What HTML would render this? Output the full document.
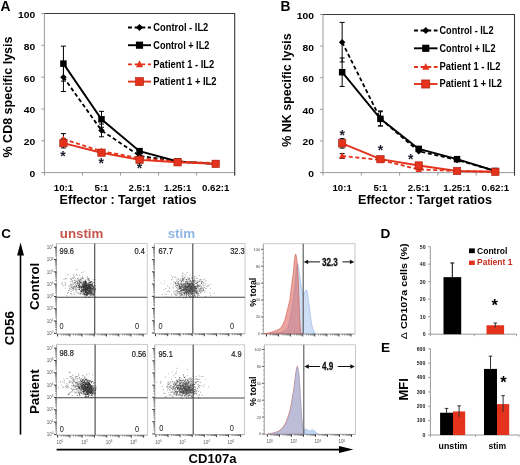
<!DOCTYPE html><html><head><meta charset="utf-8"><style>html,body{margin:0;padding:0;background:#fff;overflow:hidden}svg{display:block;filter:blur(0.3px)}text{font-family:"Liberation Sans",sans-serif}</style></head><body>
<svg width="520" height="465" viewBox="0 0 520 465">
<rect width="520" height="465" fill="#fff"/>
<text x="0.5" y="10.6" font-size="13.8" font-weight="bold" fill="#000" text-anchor="start" >A</text>
<text transform="translate(11.9,97) rotate(-90)" x="0" y="0" font-size="12.5" font-weight="bold" fill="#000" text-anchor="middle" textLength="121" lengthAdjust="spacingAndGlyphs">% CD8 specific lysis</text>
<line x1="44.4" y1="13.5" x2="44.4" y2="173.1" stroke="#9a9a9a" stroke-width="1" />
<line x1="43.9" y1="172.6" x2="234.7" y2="172.6" stroke="#9a9a9a" stroke-width="1" />
<line x1="41.4" y1="172.6" x2="44.4" y2="172.6" stroke="#9a9a9a" stroke-width="1" />
<line x1="41.4" y1="140.78" x2="44.4" y2="140.78" stroke="#9a9a9a" stroke-width="1" />
<line x1="41.4" y1="108.96" x2="44.4" y2="108.96" stroke="#9a9a9a" stroke-width="1" />
<line x1="41.4" y1="77.14" x2="44.4" y2="77.14" stroke="#9a9a9a" stroke-width="1" />
<line x1="41.4" y1="45.31999999999999" x2="44.4" y2="45.31999999999999" stroke="#9a9a9a" stroke-width="1" />
<line x1="41.4" y1="13.5" x2="44.4" y2="13.5" stroke="#9a9a9a" stroke-width="1" />
<line x1="44.4" y1="172.6" x2="44.4" y2="175.6" stroke="#9a9a9a" stroke-width="1" />
<line x1="82.46" y1="172.6" x2="82.46" y2="175.6" stroke="#9a9a9a" stroke-width="1" />
<line x1="120.51999999999998" y1="172.6" x2="120.51999999999998" y2="175.6" stroke="#9a9a9a" stroke-width="1" />
<line x1="158.57999999999998" y1="172.6" x2="158.57999999999998" y2="175.6" stroke="#9a9a9a" stroke-width="1" />
<line x1="196.64" y1="172.6" x2="196.64" y2="175.6" stroke="#9a9a9a" stroke-width="1" />
<line x1="234.7" y1="172.6" x2="234.7" y2="175.6" stroke="#9a9a9a" stroke-width="1" />
<line x1="44.4" y1="13.5" x2="235.2" y2="13.5" stroke="#3a3a3a" stroke-width="1.1" />
<line x1="234.7" y1="13.5" x2="234.7" y2="175.6" stroke="#3a3a3a" stroke-width="1.1" />
<text x="35.3" y="177.0" font-size="9.2" font-weight="bold" fill="#000" text-anchor="end" textLength="5.74" lengthAdjust="spacingAndGlyphs" >0</text>
<text x="35.3" y="145.18" font-size="9.2" font-weight="bold" fill="#000" text-anchor="end" textLength="11.48" lengthAdjust="spacingAndGlyphs" >20</text>
<text x="35.3" y="113.36" font-size="9.2" font-weight="bold" fill="#000" text-anchor="end" textLength="11.48" lengthAdjust="spacingAndGlyphs" >40</text>
<text x="35.3" y="81.54" font-size="9.2" font-weight="bold" fill="#000" text-anchor="end" textLength="11.48" lengthAdjust="spacingAndGlyphs" >60</text>
<text x="35.3" y="49.71999999999999" font-size="9.2" font-weight="bold" fill="#000" text-anchor="end" textLength="11.48" lengthAdjust="spacingAndGlyphs" >80</text>
<text x="35.3" y="17.9" font-size="9.2" font-weight="bold" fill="#000" text-anchor="end" textLength="17.22" lengthAdjust="spacingAndGlyphs" >100</text>
<text x="63.42999999999999" y="191.0" font-size="8.7" font-weight="bold" fill="#000" text-anchor="middle" textLength="19.36" lengthAdjust="spacingAndGlyphs" >10:1</text>
<text x="101.48999999999998" y="191.0" font-size="8.7" font-weight="bold" fill="#000" text-anchor="middle" textLength="13.98" lengthAdjust="spacingAndGlyphs" >5:1</text>
<text x="139.54999999999998" y="191.0" font-size="8.7" font-weight="bold" fill="#000" text-anchor="middle" textLength="22.05" lengthAdjust="spacingAndGlyphs" >2.5:1</text>
<text x="177.60999999999999" y="191.0" font-size="8.7" font-weight="bold" fill="#000" text-anchor="middle" textLength="27.43" lengthAdjust="spacingAndGlyphs" >1.25:1</text>
<text x="215.67" y="191.0" font-size="8.7" font-weight="bold" fill="#000" text-anchor="middle" textLength="27.43" lengthAdjust="spacingAndGlyphs" >0.62:1</text>
<path d="M63.43 77.14 L101.49 130.44 L139.55 155.89 L177.61 161.46 L215.67 163.85" fill="none" stroke="#000" stroke-width="1.8" stroke-dasharray="4 2.6"/>
<path d="M63.43 63.62 L101.49 119.30 L139.55 151.12 L177.61 161.46 L215.67 163.85" fill="none" stroke="#000" stroke-width="1.9"/>
<path d="M63.43 139.19 L101.49 151.12 L139.55 158.28 L177.61 161.46 L215.67 163.05" fill="none" stroke="#e4321c" stroke-width="1.8" stroke-dasharray="4 2.6"/>
<path d="M63.43 143.17 L101.49 152.71 L139.55 159.87 L177.61 162.26 L215.67 163.85" fill="none" stroke="#e4321c" stroke-width="1.9"/>
<line x1="63.42999999999999" y1="91.45899999999999" x2="63.42999999999999" y2="62.821" stroke="#000" stroke-width="1" />
<line x1="60.92999999999999" y1="62.821" x2="65.92999999999999" y2="62.821" stroke="#000" stroke-width="1" />
<line x1="60.92999999999999" y1="91.45899999999999" x2="65.92999999999999" y2="91.45899999999999" stroke="#000" stroke-width="1" />
<line x1="101.48999999999998" y1="136.8025" x2="101.48999999999998" y2="124.0745" stroke="#000" stroke-width="1" />
<line x1="98.98999999999998" y1="124.0745" x2="103.98999999999998" y2="124.0745" stroke="#000" stroke-width="1" />
<line x1="98.98999999999998" y1="136.8025" x2="103.98999999999998" y2="136.8025" stroke="#000" stroke-width="1" />
<line x1="63.42999999999999" y1="81.11749999999999" x2="63.42999999999999" y2="46.1155" stroke="#000" stroke-width="1" />
<line x1="60.92999999999999" y1="46.1155" x2="65.92999999999999" y2="46.1155" stroke="#000" stroke-width="1" />
<line x1="60.92999999999999" y1="81.11749999999999" x2="65.92999999999999" y2="81.11749999999999" stroke="#000" stroke-width="1" />
<line x1="101.48999999999998" y1="127.25649999999999" x2="101.48999999999998" y2="111.34649999999999" stroke="#000" stroke-width="1" />
<line x1="98.98999999999998" y1="111.34649999999999" x2="103.98999999999998" y2="111.34649999999999" stroke="#000" stroke-width="1" />
<line x1="98.98999999999998" y1="127.25649999999999" x2="103.98999999999998" y2="127.25649999999999" stroke="#000" stroke-width="1" />
<line x1="63.42999999999999" y1="144.7575" x2="63.42999999999999" y2="133.6205" stroke="#000" stroke-width="1" />
<line x1="60.92999999999999" y1="133.6205" x2="65.92999999999999" y2="133.6205" stroke="#000" stroke-width="1" />
<line x1="60.92999999999999" y1="144.7575" x2="65.92999999999999" y2="144.7575" stroke="#000" stroke-width="1" />
<line x1="63.42999999999999" y1="147.9395" x2="63.42999999999999" y2="138.3935" stroke="#000" stroke-width="1" />
<line x1="60.92999999999999" y1="138.3935" x2="65.92999999999999" y2="138.3935" stroke="#000" stroke-width="1" />
<line x1="60.92999999999999" y1="147.9395" x2="65.92999999999999" y2="147.9395" stroke="#000" stroke-width="1" />
<path d="M63.43 73.89L66.68 77.14L63.43 80.39L60.18 77.14Z" fill="#000"/>
<path d="M101.49 127.19L104.74 130.44L101.49 133.69L98.24 130.44Z" fill="#000"/>
<path d="M139.55 152.64L142.80 155.89L139.55 159.14L136.30 155.89Z" fill="#000"/>
<path d="M177.61 158.21L180.86 161.46L177.61 164.71L174.36 161.46Z" fill="#000"/>
<path d="M215.67 160.60L218.92 163.85L215.67 167.10L212.42 163.85Z" fill="#000"/>
<rect x="60.18" y="60.37" width="6.5" height="6.5" fill="#000"/>
<rect x="98.24" y="116.05" width="6.5" height="6.5" fill="#000"/>
<rect x="136.30" y="147.87" width="6.5" height="6.5" fill="#000"/>
<rect x="174.36" y="158.21" width="6.5" height="6.5" fill="#000"/>
<rect x="212.42" y="160.60" width="6.5" height="6.5" fill="#000"/>
<path d="M63.43 135.61L66.68 141.79L60.18 141.79Z" fill="#e4321c"/>
<path d="M101.49 147.55L104.74 153.72L98.24 153.72Z" fill="#e4321c"/>
<path d="M139.55 154.71L142.80 160.88L136.30 160.88Z" fill="#e4321c"/>
<path d="M177.61 157.89L180.86 164.06L174.36 164.06Z" fill="#e4321c"/>
<path d="M215.67 159.48L218.92 165.65L212.42 165.65Z" fill="#e4321c"/>
<rect x="59.73" y="139.47" width="7.4" height="7.4" fill="#e4321c" stroke="#a8220f" stroke-width="0.6"/>
<rect x="97.79" y="149.01" width="7.4" height="7.4" fill="#e4321c" stroke="#a8220f" stroke-width="0.6"/>
<rect x="135.85" y="156.17" width="7.4" height="7.4" fill="#e4321c" stroke="#a8220f" stroke-width="0.6"/>
<rect x="173.91" y="158.56" width="7.4" height="7.4" fill="#e4321c" stroke="#a8220f" stroke-width="0.6"/>
<rect x="211.97" y="160.15" width="7.4" height="7.4" fill="#e4321c" stroke="#a8220f" stroke-width="0.6"/>
<text x="63" y="161.3" font-size="14" font-weight="bold" fill="#1a1a2a" text-anchor="middle" >*</text>
<text x="101.3" y="167.60000000000002" font-size="14" font-weight="bold" fill="#1a1a2a" text-anchor="middle" >*</text>
<text x="139.5" y="173.10000000000002" font-size="14" font-weight="bold" fill="#1a1a2a" text-anchor="middle" >*</text>
<line x1="128" y1="27.5" x2="151" y2="27.5" stroke="#000" stroke-width="1.8" stroke-dasharray="4 2.6"/>
<path d="M139.50 23.93L143.07 27.50L139.50 31.07L135.93 27.50Z" fill="#000"/>
<text x="153.3" y="30.9" font-size="10.0" font-weight="bold" fill="#000" text-anchor="start" textLength="55" lengthAdjust="spacingAndGlyphs" >Control - IL2</text>
<line x1="128" y1="45.2" x2="151" y2="45.2" stroke="#000" stroke-width="1.9"/>
<rect x="135.93" y="41.62" width="7.15" height="7.15" fill="#000"/>
<text x="153.3" y="48.6" font-size="10.0" font-weight="bold" fill="#000" text-anchor="start" textLength="56" lengthAdjust="spacingAndGlyphs" >Control + IL2</text>
<line x1="128" y1="64.3" x2="151" y2="64.3" stroke="#e4321c" stroke-width="1.8" stroke-dasharray="4 2.6"/>
<path d="M139.50 60.37L143.07 67.16L135.93 67.16Z" fill="#e4321c"/>
<text x="153.3" y="67.7" font-size="10.0" font-weight="bold" fill="#000" text-anchor="start" textLength="61" lengthAdjust="spacingAndGlyphs" >Patient 1 - IL2</text>
<line x1="128" y1="81.6" x2="151" y2="81.6" stroke="#e4321c" stroke-width="1.9"/>
<rect x="135.43" y="77.53" width="8.14" height="8.14" fill="#e4321c" stroke="#a8220f" stroke-width="0.6"/>
<text x="153.3" y="85.0" font-size="10.0" font-weight="bold" fill="#000" text-anchor="start" textLength="63.2" lengthAdjust="spacingAndGlyphs" >Patient 1 + IL2</text>
<text x="59.6" y="204.2" font-size="12.5" font-weight="bold" fill="#000" text-anchor="start" textLength="137" lengthAdjust="spacingAndGlyphs" >Effector : Target&#160; ratios</text>
<text x="280.5" y="10.6" font-size="13.8" font-weight="bold" fill="#000" text-anchor="start" >B</text>
<text transform="translate(291.3,90) rotate(-90)" x="0" y="0" font-size="12.5" font-weight="bold" fill="#000" text-anchor="middle" textLength="113.3" lengthAdjust="spacingAndGlyphs">% NK specific lysis</text>
<line x1="323" y1="14.5" x2="323" y2="173.1" stroke="#9a9a9a" stroke-width="1" />
<line x1="322.5" y1="172.6" x2="514.5" y2="172.6" stroke="#9a9a9a" stroke-width="1" />
<line x1="320" y1="172.6" x2="323" y2="172.6" stroke="#9a9a9a" stroke-width="1" />
<line x1="320" y1="140.98" x2="323" y2="140.98" stroke="#9a9a9a" stroke-width="1" />
<line x1="320" y1="109.36" x2="323" y2="109.36" stroke="#9a9a9a" stroke-width="1" />
<line x1="320" y1="77.74" x2="323" y2="77.74" stroke="#9a9a9a" stroke-width="1" />
<line x1="320" y1="46.120000000000005" x2="323" y2="46.120000000000005" stroke="#9a9a9a" stroke-width="1" />
<line x1="320" y1="14.5" x2="323" y2="14.5" stroke="#9a9a9a" stroke-width="1" />
<line x1="323.0" y1="172.6" x2="323.0" y2="175.6" stroke="#9a9a9a" stroke-width="1" />
<line x1="361.3" y1="172.6" x2="361.3" y2="175.6" stroke="#9a9a9a" stroke-width="1" />
<line x1="399.6" y1="172.6" x2="399.6" y2="175.6" stroke="#9a9a9a" stroke-width="1" />
<line x1="437.9" y1="172.6" x2="437.9" y2="175.6" stroke="#9a9a9a" stroke-width="1" />
<line x1="476.2" y1="172.6" x2="476.2" y2="175.6" stroke="#9a9a9a" stroke-width="1" />
<line x1="514.5" y1="172.6" x2="514.5" y2="175.6" stroke="#9a9a9a" stroke-width="1" />
<line x1="323" y1="14.5" x2="515.0" y2="14.5" stroke="#3a3a3a" stroke-width="1.1" />
<line x1="514.5" y1="14.5" x2="514.5" y2="175.6" stroke="#3a3a3a" stroke-width="1.1" />
<text x="313.9" y="177.0" font-size="9.2" font-weight="bold" fill="#000" text-anchor="end" textLength="5.74" lengthAdjust="spacingAndGlyphs" >0</text>
<text x="313.9" y="145.38" font-size="9.2" font-weight="bold" fill="#000" text-anchor="end" textLength="11.48" lengthAdjust="spacingAndGlyphs" >20</text>
<text x="313.9" y="113.76" font-size="9.2" font-weight="bold" fill="#000" text-anchor="end" textLength="11.48" lengthAdjust="spacingAndGlyphs" >40</text>
<text x="313.9" y="82.14" font-size="9.2" font-weight="bold" fill="#000" text-anchor="end" textLength="11.48" lengthAdjust="spacingAndGlyphs" >60</text>
<text x="313.9" y="50.52" font-size="9.2" font-weight="bold" fill="#000" text-anchor="end" textLength="11.48" lengthAdjust="spacingAndGlyphs" >80</text>
<text x="313.9" y="18.9" font-size="9.2" font-weight="bold" fill="#000" text-anchor="end" textLength="17.22" lengthAdjust="spacingAndGlyphs" >100</text>
<text x="342.15" y="191.20000000000002" font-size="8.7" font-weight="bold" fill="#000" text-anchor="middle" textLength="19.36" lengthAdjust="spacingAndGlyphs" >10:1</text>
<text x="380.45" y="191.20000000000002" font-size="8.7" font-weight="bold" fill="#000" text-anchor="middle" textLength="13.98" lengthAdjust="spacingAndGlyphs" >5:1</text>
<text x="418.75" y="191.20000000000002" font-size="8.7" font-weight="bold" fill="#000" text-anchor="middle" textLength="22.05" lengthAdjust="spacingAndGlyphs" >2.5:1</text>
<text x="457.04999999999995" y="191.20000000000002" font-size="8.7" font-weight="bold" fill="#000" text-anchor="middle" textLength="27.43" lengthAdjust="spacingAndGlyphs" >1.25:1</text>
<text x="495.35" y="191.20000000000002" font-size="8.7" font-weight="bold" fill="#000" text-anchor="middle" textLength="27.43" lengthAdjust="spacingAndGlyphs" >0.62:1</text>
<path d="M342.15 42.17 L380.45 118.85 L418.75 151.26 L457.05 159.95 L495.35 171.02" fill="none" stroke="#000" stroke-width="1.8" stroke-dasharray="4 2.6"/>
<path d="M342.15 72.21 L380.45 118.85 L418.75 148.88 L457.05 159.16 L495.35 171.02" fill="none" stroke="#000" stroke-width="1.9"/>
<path d="M342.15 156.00 L380.45 159.95 L418.75 169.44 L457.05 171.02 L495.35 171.81" fill="none" stroke="#e4321c" stroke-width="1.8" stroke-dasharray="4 2.6"/>
<path d="M342.15 143.35 L380.45 159.16 L418.75 165.49 L457.05 171.02 L495.35 171.81" fill="none" stroke="#e4321c" stroke-width="1.9"/>
<line x1="342.15" y1="61.92999999999999" x2="342.15" y2="22.405" stroke="#000" stroke-width="1" />
<line x1="339.65" y1="22.405" x2="344.65" y2="22.405" stroke="#000" stroke-width="1" />
<line x1="339.65" y1="61.92999999999999" x2="344.65" y2="61.92999999999999" stroke="#000" stroke-width="1" />
<line x1="380.45" y1="125.9605" x2="380.45" y2="110.941" stroke="#000" stroke-width="1" />
<line x1="377.95" y1="110.941" x2="382.95" y2="110.941" stroke="#000" stroke-width="1" />
<line x1="377.95" y1="125.9605" x2="382.95" y2="125.9605" stroke="#000" stroke-width="1" />
<line x1="342.15" y1="86.43549999999999" x2="342.15" y2="57.97749999999999" stroke="#000" stroke-width="1" />
<line x1="339.65" y1="57.97749999999999" x2="344.65" y2="57.97749999999999" stroke="#000" stroke-width="1" />
<line x1="339.65" y1="86.43549999999999" x2="344.65" y2="86.43549999999999" stroke="#000" stroke-width="1" />
<line x1="380.45" y1="125.9605" x2="380.45" y2="111.7315" stroke="#000" stroke-width="1" />
<line x1="377.95" y1="111.7315" x2="382.95" y2="111.7315" stroke="#000" stroke-width="1" />
<line x1="377.95" y1="125.9605" x2="382.95" y2="125.9605" stroke="#000" stroke-width="1" />
<line x1="342.15" y1="158.37099999999998" x2="342.15" y2="153.628" stroke="#000" stroke-width="1" />
<line x1="339.65" y1="153.628" x2="344.65" y2="153.628" stroke="#000" stroke-width="1" />
<line x1="339.65" y1="158.37099999999998" x2="344.65" y2="158.37099999999998" stroke="#000" stroke-width="1" />
<line x1="342.15" y1="148.09449999999998" x2="342.15" y2="138.6085" stroke="#000" stroke-width="1" />
<line x1="339.65" y1="138.6085" x2="344.65" y2="138.6085" stroke="#000" stroke-width="1" />
<line x1="339.65" y1="148.09449999999998" x2="344.65" y2="148.09449999999998" stroke="#000" stroke-width="1" />
<path d="M342.15 38.92L345.40 42.17L342.15 45.42L338.90 42.17Z" fill="#000"/>
<path d="M380.45 115.60L383.70 118.85L380.45 122.10L377.20 118.85Z" fill="#000"/>
<path d="M418.75 148.01L422.00 151.26L418.75 154.51L415.50 151.26Z" fill="#000"/>
<path d="M457.05 156.70L460.30 159.95L457.05 163.20L453.80 159.95Z" fill="#000"/>
<path d="M495.35 167.77L498.60 171.02L495.35 174.27L492.10 171.02Z" fill="#000"/>
<rect x="338.90" y="68.96" width="6.5" height="6.5" fill="#000"/>
<rect x="377.20" y="115.60" width="6.5" height="6.5" fill="#000"/>
<rect x="415.50" y="145.63" width="6.5" height="6.5" fill="#000"/>
<rect x="453.80" y="155.91" width="6.5" height="6.5" fill="#000"/>
<rect x="492.10" y="167.77" width="6.5" height="6.5" fill="#000"/>
<path d="M342.15 152.42L345.40 158.60L338.90 158.60Z" fill="#e4321c"/>
<path d="M380.45 156.38L383.70 162.55L377.20 162.55Z" fill="#e4321c"/>
<path d="M418.75 165.86L422.00 172.04L415.50 172.04Z" fill="#e4321c"/>
<path d="M457.05 167.44L460.30 173.62L453.80 173.62Z" fill="#e4321c"/>
<path d="M495.35 168.23L498.60 174.41L492.10 174.41Z" fill="#e4321c"/>
<rect x="338.45" y="139.65" width="7.4" height="7.4" fill="#e4321c" stroke="#a8220f" stroke-width="0.6"/>
<rect x="376.75" y="155.46" width="7.4" height="7.4" fill="#e4321c" stroke="#a8220f" stroke-width="0.6"/>
<rect x="415.05" y="161.79" width="7.4" height="7.4" fill="#e4321c" stroke="#a8220f" stroke-width="0.6"/>
<rect x="453.35" y="167.32" width="7.4" height="7.4" fill="#e4321c" stroke="#a8220f" stroke-width="0.6"/>
<rect x="491.65" y="168.11" width="7.4" height="7.4" fill="#e4321c" stroke="#a8220f" stroke-width="0.6"/>
<text x="342.2" y="140.10000000000002" font-size="14" font-weight="bold" fill="#1a1a2a" text-anchor="middle" >*</text>
<text x="380.5" y="155.10000000000002" font-size="14" font-weight="bold" fill="#1a1a2a" text-anchor="middle" >*</text>
<text x="410.8" y="164.10000000000002" font-size="14" font-weight="bold" fill="#1a1a2a" text-anchor="middle" >*</text>
<line x1="414" y1="30.5" x2="437.5" y2="30.5" stroke="#000" stroke-width="1.8" stroke-dasharray="4 2.6"/>
<path d="M425.75 26.93L429.32 30.50L425.75 34.08L422.18 30.50Z" fill="#000"/>
<text x="439.5" y="33.9" font-size="10.0" font-weight="bold" fill="#000" text-anchor="start" textLength="54" lengthAdjust="spacingAndGlyphs" >Control - IL2</text>
<line x1="414" y1="48.3" x2="437.5" y2="48.3" stroke="#000" stroke-width="1.9"/>
<rect x="422.18" y="44.72" width="7.15" height="7.15" fill="#000"/>
<text x="439.5" y="51.699999999999996" font-size="10.0" font-weight="bold" fill="#000" text-anchor="start" textLength="56" lengthAdjust="spacingAndGlyphs" >Control + IL2</text>
<line x1="414" y1="67" x2="437.5" y2="67" stroke="#e4321c" stroke-width="1.8" stroke-dasharray="4 2.6"/>
<path d="M425.75 63.07L429.32 69.86L422.18 69.86Z" fill="#e4321c"/>
<text x="439.5" y="70.4" font-size="10.0" font-weight="bold" fill="#000" text-anchor="start" textLength="61" lengthAdjust="spacingAndGlyphs" >Patient 1 - IL2</text>
<line x1="414" y1="84" x2="437.5" y2="84" stroke="#e4321c" stroke-width="1.9"/>
<rect x="421.68" y="79.93" width="8.14" height="8.14" fill="#e4321c" stroke="#a8220f" stroke-width="0.6"/>
<text x="439.5" y="87.4" font-size="10.0" font-weight="bold" fill="#000" text-anchor="start" textLength="62.5" lengthAdjust="spacingAndGlyphs" >Patient 1 + IL2</text>
<text x="358" y="204.4" font-size="12.5" font-weight="bold" fill="#000" text-anchor="start" textLength="134" lengthAdjust="spacingAndGlyphs" >Effector : Target ratios</text>
<text x="1.3" y="237.8" font-size="13.4" font-weight="bold" fill="#000" text-anchor="start" >C</text>
<text x="59.8" y="238.4" font-size="12.6" font-weight="bold" fill="#c4534a" text-anchor="start" textLength="43.5" lengthAdjust="spacingAndGlyphs" >unstim</text>
<text x="167.7" y="238.4" font-size="12.6" font-weight="bold" fill="#8fb6e4" text-anchor="start" textLength="27.5" lengthAdjust="spacingAndGlyphs" >stim</text>
<line x1="20.5" y1="434.6" x2="20.5" y2="254" stroke="#000" stroke-width="1.6" />
<path d="M20.55 242.4L24 255.4L17.1 255.4Z" fill="#000"/>
<line x1="56.6" y1="449.6" x2="340" y2="449.6" stroke="#000" stroke-width="1.6" />
<path d="M353.4 449.6L339 446.1L339 453.1Z" fill="#000"/>
<text transform="translate(13.9,328.2) rotate(-90)" x="0" y="0" font-size="12.8" font-weight="bold" fill="#000" text-anchor="middle" textLength="34" lengthAdjust="spacingAndGlyphs">CD56</text>
<text transform="translate(38.8,286.4) rotate(-90)" x="0" y="0" font-size="12.8" font-weight="bold" fill="#000" text-anchor="middle" textLength="47.2" lengthAdjust="spacingAndGlyphs">Control</text>
<text transform="translate(39.1,391.7) rotate(-90)" x="0" y="0" font-size="12.8" font-weight="bold" fill="#000" text-anchor="middle" textLength="44.8" lengthAdjust="spacingAndGlyphs">Patient</text>
<text x="188.5" y="463" font-size="12.6" font-weight="bold" fill="#000" text-anchor="start" textLength="48" lengthAdjust="spacingAndGlyphs" >CD107a</text>
<rect x="56.6" y="243.5" width="90.6" height="90.39999999999998" fill="#fff" stroke="#c4c4c4" stroke-width="0.9"/>
<path d="M92.1 294.2h0.85v0.85h-0.85zM87.5 285.4h0.85v0.85h-0.85zM83.0 287.1h0.85v0.85h-0.85zM83.3 282.1h0.85v0.85h-0.85zM88.0 288.6h0.85v0.85h-0.85zM89.3 285.3h0.85v0.85h-0.85zM87.2 287.8h0.85v0.85h-0.85zM81.5 288.5h0.85v0.85h-0.85zM88.4 296.6h0.85v0.85h-0.85zM88.0 287.7h0.85v0.85h-0.85zM91.9 289.8h0.85v0.85h-0.85zM90.7 287.5h0.85v0.85h-0.85zM88.0 291.8h0.85v0.85h-0.85zM89.8 289.1h0.85v0.85h-0.85zM83.1 288.6h0.85v0.85h-0.85zM87.5 290.6h0.85v0.85h-0.85zM88.0 292.0h0.85v0.85h-0.85zM87.0 288.7h0.85v0.85h-0.85zM89.7 284.8h0.85v0.85h-0.85zM85.7 285.9h0.85v0.85h-0.85zM94.7 289.5h0.85v0.85h-0.85zM89.7 290.7h0.85v0.85h-0.85zM86.1 282.3h0.85v0.85h-0.85zM90.9 287.4h0.85v0.85h-0.85zM89.9 284.1h0.85v0.85h-0.85zM85.5 292.0h0.85v0.85h-0.85zM92.6 284.7h0.85v0.85h-0.85zM82.1 286.6h0.85v0.85h-0.85zM90.0 289.2h0.85v0.85h-0.85zM88.4 284.8h0.85v0.85h-0.85zM89.4 292.4h0.85v0.85h-0.85zM85.5 282.6h0.85v0.85h-0.85zM84.3 290.0h0.85v0.85h-0.85zM80.6 286.1h0.85v0.85h-0.85zM83.4 286.7h0.85v0.85h-0.85zM86.3 287.8h0.85v0.85h-0.85zM92.9 290.8h0.85v0.85h-0.85zM92.3 288.7h0.85v0.85h-0.85zM85.4 288.9h0.85v0.85h-0.85zM76.4 285.3h0.85v0.85h-0.85zM87.8 283.8h0.85v0.85h-0.85zM89.0 286.5h0.85v0.85h-0.85zM77.9 285.0h0.85v0.85h-0.85zM83.5 285.3h0.85v0.85h-0.85zM86.6 292.2h0.85v0.85h-0.85zM87.6 288.0h0.85v0.85h-0.85zM88.7 282.0h0.85v0.85h-0.85zM91.9 285.4h0.85v0.85h-0.85zM88.9 284.5h0.85v0.85h-0.85zM83.5 285.7h0.85v0.85h-0.85zM94.4 292.1h0.85v0.85h-0.85zM84.9 286.5h0.85v0.85h-0.85zM82.8 286.8h0.85v0.85h-0.85zM85.0 290.0h0.85v0.85h-0.85zM82.0 285.6h0.85v0.85h-0.85zM84.0 284.7h0.85v0.85h-0.85zM89.9 289.1h0.85v0.85h-0.85zM89.4 292.7h0.85v0.85h-0.85zM91.6 284.3h0.85v0.85h-0.85zM89.2 282.3h0.85v0.85h-0.85zM87.0 294.6h0.85v0.85h-0.85zM86.5 286.5h0.85v0.85h-0.85zM87.8 288.2h0.85v0.85h-0.85zM87.3 285.4h0.85v0.85h-0.85zM91.3 292.1h0.85v0.85h-0.85zM86.4 288.9h0.85v0.85h-0.85zM89.7 292.2h0.85v0.85h-0.85zM88.7 290.8h0.85v0.85h-0.85zM86.2 284.0h0.85v0.85h-0.85zM85.3 291.1h0.85v0.85h-0.85zM90.9 289.4h0.85v0.85h-0.85zM85.0 288.6h0.85v0.85h-0.85zM93.5 294.2h0.85v0.85h-0.85zM84.6 287.2h0.85v0.85h-0.85zM81.7 282.7h0.85v0.85h-0.85zM87.9 288.3h0.85v0.85h-0.85zM90.9 293.3h0.85v0.85h-0.85zM90.4 293.4h0.85v0.85h-0.85zM85.1 283.6h0.85v0.85h-0.85zM88.6 284.3h0.85v0.85h-0.85zM88.1 293.2h0.85v0.85h-0.85zM83.3 289.9h0.85v0.85h-0.85zM84.9 291.9h0.85v0.85h-0.85zM90.2 289.8h0.85v0.85h-0.85zM94.8 288.4h0.85v0.85h-0.85zM84.6 293.8h0.85v0.85h-0.85zM83.9 294.9h0.85v0.85h-0.85zM87.0 284.4h0.85v0.85h-0.85zM87.2 288.5h0.85v0.85h-0.85zM88.0 287.5h0.85v0.85h-0.85zM91.3 280.9h0.85v0.85h-0.85zM85.1 286.6h0.85v0.85h-0.85zM94.1 282.7h0.85v0.85h-0.85zM85.9 283.7h0.85v0.85h-0.85zM84.7 289.6h0.85v0.85h-0.85zM88.8 293.4h0.85v0.85h-0.85zM84.9 288.4h0.85v0.85h-0.85zM91.7 292.2h0.85v0.85h-0.85zM85.9 291.6h0.85v0.85h-0.85zM83.7 293.5h0.85v0.85h-0.85zM87.8 287.7h0.85v0.85h-0.85zM88.2 291.2h0.85v0.85h-0.85zM93.8 289.1h0.85v0.85h-0.85zM85.8 289.7h0.85v0.85h-0.85zM83.9 281.3h0.85v0.85h-0.85zM90.4 287.4h0.85v0.85h-0.85zM91.5 285.4h0.85v0.85h-0.85zM76.2 286.4h0.85v0.85h-0.85zM87.8 293.7h0.85v0.85h-0.85zM89.2 289.6h0.85v0.85h-0.85zM89.4 287.2h0.85v0.85h-0.85zM87.5 283.4h0.85v0.85h-0.85zM89.2 285.7h0.85v0.85h-0.85zM85.5 290.0h0.85v0.85h-0.85zM90.7 285.3h0.85v0.85h-0.85zM94.8 287.7h0.85v0.85h-0.85zM90.4 292.1h0.85v0.85h-0.85zM88.1 288.8h0.85v0.85h-0.85zM94.0 292.7h0.85v0.85h-0.85zM88.9 282.0h0.85v0.85h-0.85zM84.4 291.4h0.85v0.85h-0.85zM87.9 284.8h0.85v0.85h-0.85zM84.8 286.4h0.85v0.85h-0.85zM89.8 290.0h0.85v0.85h-0.85zM91.0 286.0h0.85v0.85h-0.85zM90.9 287.1h0.85v0.85h-0.85zM86.1 293.8h0.85v0.85h-0.85zM87.5 287.6h0.85v0.85h-0.85zM86.4 286.5h0.85v0.85h-0.85zM93.1 294.2h0.85v0.85h-0.85zM89.9 289.3h0.85v0.85h-0.85zM91.2 288.7h0.85v0.85h-0.85zM88.9 289.8h0.85v0.85h-0.85zM87.5 293.8h0.85v0.85h-0.85zM93.9 294.2h0.85v0.85h-0.85zM79.9 292.7h0.85v0.85h-0.85zM89.9 287.1h0.85v0.85h-0.85zM87.1 291.9h0.85v0.85h-0.85zM91.7 292.0h0.85v0.85h-0.85zM87.7 288.3h0.85v0.85h-0.85zM90.4 288.4h0.85v0.85h-0.85zM83.8 285.0h0.85v0.85h-0.85zM86.7 289.0h0.85v0.85h-0.85zM89.0 288.1h0.85v0.85h-0.85zM88.3 293.0h0.85v0.85h-0.85zM91.9 288.6h0.85v0.85h-0.85zM85.1 282.7h0.85v0.85h-0.85zM86.9 292.3h0.85v0.85h-0.85zM86.2 290.2h0.85v0.85h-0.85zM89.9 290.0h0.85v0.85h-0.85zM91.3 288.6h0.85v0.85h-0.85zM84.0 283.2h0.85v0.85h-0.85zM90.7 287.6h0.85v0.85h-0.85zM86.0 290.6h0.85v0.85h-0.85zM84.2 293.5h0.85v0.85h-0.85zM89.7 286.8h0.85v0.85h-0.85zM84.8 291.2h0.85v0.85h-0.85zM82.7 284.7h0.85v0.85h-0.85zM87.2 288.7h0.85v0.85h-0.85zM87.3 289.4h0.85v0.85h-0.85zM85.8 287.2h0.85v0.85h-0.85zM92.0 291.4h0.85v0.85h-0.85zM85.5 293.6h0.85v0.85h-0.85zM79.6 286.5h0.85v0.85h-0.85zM89.7 292.0h0.85v0.85h-0.85zM87.6 286.8h0.85v0.85h-0.85zM89.4 287.9h0.85v0.85h-0.85zM89.0 278.5h0.85v0.85h-0.85zM88.6 285.6h0.85v0.85h-0.85zM90.8 291.5h0.85v0.85h-0.85zM90.0 287.2h0.85v0.85h-0.85zM88.8 287.2h0.85v0.85h-0.85zM88.0 287.7h0.85v0.85h-0.85zM83.9 294.1h0.85v0.85h-0.85zM90.0 281.5h0.85v0.85h-0.85zM90.6 283.9h0.85v0.85h-0.85zM86.3 285.8h0.85v0.85h-0.85zM85.2 288.4h0.85v0.85h-0.85zM86.0 282.7h0.85v0.85h-0.85zM87.2 289.3h0.85v0.85h-0.85zM93.9 288.1h0.85v0.85h-0.85zM82.7 285.6h0.85v0.85h-0.85zM89.7 285.5h0.85v0.85h-0.85zM84.5 289.3h0.85v0.85h-0.85zM87.2 288.8h0.85v0.85h-0.85zM84.8 284.6h0.85v0.85h-0.85zM86.0 287.2h0.85v0.85h-0.85zM85.9 289.2h0.85v0.85h-0.85zM89.3 290.4h0.85v0.85h-0.85zM89.0 285.3h0.85v0.85h-0.85zM82.9 289.8h0.85v0.85h-0.85zM87.2 288.4h0.85v0.85h-0.85zM82.8 286.2h0.85v0.85h-0.85zM84.8 284.4h0.85v0.85h-0.85zM84.8 282.2h0.85v0.85h-0.85zM87.5 292.1h0.85v0.85h-0.85zM84.5 287.7h0.85v0.85h-0.85zM83.0 289.4h0.85v0.85h-0.85zM94.3 285.4h0.85v0.85h-0.85zM86.3 292.8h0.85v0.85h-0.85zM88.6 288.7h0.85v0.85h-0.85zM79.4 285.6h0.85v0.85h-0.85zM90.7 293.8h0.85v0.85h-0.85zM89.6 286.6h0.85v0.85h-0.85zM84.6 281.0h0.85v0.85h-0.85zM83.1 290.9h0.85v0.85h-0.85zM86.8 283.2h0.85v0.85h-0.85zM92.2 283.4h0.85v0.85h-0.85zM92.0 288.0h0.85v0.85h-0.85zM88.5 290.7h0.85v0.85h-0.85zM88.2 292.7h0.85v0.85h-0.85zM87.3 286.9h0.85v0.85h-0.85zM84.7 282.4h0.85v0.85h-0.85zM84.6 290.8h0.85v0.85h-0.85zM90.3 293.6h0.85v0.85h-0.85zM89.1 283.9h0.85v0.85h-0.85zM86.3 295.4h0.85v0.85h-0.85zM89.2 288.0h0.85v0.85h-0.85zM88.4 281.7h0.85v0.85h-0.85zM84.0 282.7h0.85v0.85h-0.85zM79.1 288.8h0.85v0.85h-0.85zM90.9 288.3h0.85v0.85h-0.85zM88.5 284.8h0.85v0.85h-0.85zM88.9 291.1h0.85v0.85h-0.85zM93.0 294.8h0.85v0.85h-0.85zM89.1 288.0h0.85v0.85h-0.85zM84.1 285.1h0.85v0.85h-0.85zM89.5 290.5h0.85v0.85h-0.85zM87.3 293.8h0.85v0.85h-0.85zM89.7 288.6h0.85v0.85h-0.85zM86.5 288.1h0.85v0.85h-0.85zM83.6 283.7h0.85v0.85h-0.85zM88.5 286.3h0.85v0.85h-0.85zM86.2 292.0h0.85v0.85h-0.85zM86.5 292.4h0.85v0.85h-0.85zM87.2 293.3h0.85v0.85h-0.85zM89.0 282.3h0.85v0.85h-0.85zM91.9 288.4h0.85v0.85h-0.85zM79.7 286.6h0.85v0.85h-0.85zM87.8 283.6h0.85v0.85h-0.85zM84.9 289.4h0.85v0.85h-0.85zM92.6 293.2h0.85v0.85h-0.85zM91.8 293.0h0.85v0.85h-0.85zM77.8 283.2h0.85v0.85h-0.85zM87.9 278.8h0.85v0.85h-0.85zM90.1 291.8h0.85v0.85h-0.85zM84.3 286.0h0.85v0.85h-0.85zM83.6 287.1h0.85v0.85h-0.85zM87.0 287.9h0.85v0.85h-0.85zM83.3 288.4h0.85v0.85h-0.85zM85.9 291.0h0.85v0.85h-0.85zM88.4 283.1h0.85v0.85h-0.85zM81.7 286.9h0.85v0.85h-0.85zM85.4 289.2h0.85v0.85h-0.85zM90.3 288.8h0.85v0.85h-0.85zM80.8 282.3h0.85v0.85h-0.85zM89.4 284.9h0.85v0.85h-0.85zM91.4 288.7h0.85v0.85h-0.85zM89.2 285.4h0.85v0.85h-0.85zM86.8 277.6h0.85v0.85h-0.85zM86.4 289.8h0.85v0.85h-0.85zM83.8 284.3h0.85v0.85h-0.85zM87.0 288.2h0.85v0.85h-0.85zM84.1 289.6h0.85v0.85h-0.85zM80.9 290.4h0.85v0.85h-0.85zM81.9 283.9h0.85v0.85h-0.85zM92.3 285.7h0.85v0.85h-0.85zM80.9 286.8h0.85v0.85h-0.85zM83.7 283.3h0.85v0.85h-0.85zM84.5 284.8h0.85v0.85h-0.85zM83.5 283.5h0.85v0.85h-0.85zM93.3 287.1h0.85v0.85h-0.85zM90.9 284.0h0.85v0.85h-0.85zM89.3 284.1h0.85v0.85h-0.85zM85.5 289.8h0.85v0.85h-0.85zM85.2 280.7h0.85v0.85h-0.85zM85.1 287.0h0.85v0.85h-0.85zM89.4 285.0h0.85v0.85h-0.85zM86.1 287.9h0.85v0.85h-0.85zM80.9 286.1h0.85v0.85h-0.85zM84.1 288.8h0.85v0.85h-0.85zM86.8 287.3h0.85v0.85h-0.85zM78.0 285.4h0.85v0.85h-0.85zM85.8 284.4h0.85v0.85h-0.85zM85.3 283.1h0.85v0.85h-0.85zM87.9 290.5h0.85v0.85h-0.85zM89.5 286.7h0.85v0.85h-0.85zM93.6 292.5h0.85v0.85h-0.85zM83.6 286.7h0.85v0.85h-0.85zM81.0 286.1h0.85v0.85h-0.85zM89.9 293.1h0.85v0.85h-0.85zM85.6 281.4h0.85v0.85h-0.85zM86.6 292.6h0.85v0.85h-0.85zM87.7 292.6h0.85v0.85h-0.85zM90.3 294.2h0.85v0.85h-0.85zM89.5 286.2h0.85v0.85h-0.85zM88.9 297.2h0.85v0.85h-0.85zM85.2 281.1h0.85v0.85h-0.85zM84.8 285.3h0.85v0.85h-0.85zM81.3 289.1h0.85v0.85h-0.85zM87.7 285.9h0.85v0.85h-0.85zM85.6 286.1h0.85v0.85h-0.85zM91.3 288.3h0.85v0.85h-0.85zM92.4 286.3h0.85v0.85h-0.85zM84.9 285.8h0.85v0.85h-0.85zM85.2 287.2h0.85v0.85h-0.85zM91.1 293.1h0.85v0.85h-0.85zM83.1 291.5h0.85v0.85h-0.85zM87.6 293.6h0.85v0.85h-0.85zM86.6 284.9h0.85v0.85h-0.85zM90.2 290.9h0.85v0.85h-0.85zM85.5 287.7h0.85v0.85h-0.85zM87.7 289.2h0.85v0.85h-0.85zM80.7 282.3h0.85v0.85h-0.85zM87.4 289.0h0.85v0.85h-0.85zM85.2 281.4h0.85v0.85h-0.85zM92.3 288.1h0.85v0.85h-0.85zM83.2 292.6h0.85v0.85h-0.85zM91.5 292.6h0.85v0.85h-0.85zM90.4 290.7h0.85v0.85h-0.85zM83.5 287.2h0.85v0.85h-0.85zM88.6 290.5h0.85v0.85h-0.85zM89.0 284.9h0.85v0.85h-0.85zM84.9 286.3h0.85v0.85h-0.85zM86.5 284.8h0.85v0.85h-0.85zM80.3 282.1h0.85v0.85h-0.85zM88.4 288.2h0.85v0.85h-0.85zM89.4 281.9h0.85v0.85h-0.85zM85.6 290.7h0.85v0.85h-0.85zM79.7 282.5h0.85v0.85h-0.85zM80.9 290.7h0.85v0.85h-0.85zM87.3 286.0h0.85v0.85h-0.85zM87.8 287.8h0.85v0.85h-0.85zM90.6 292.9h0.85v0.85h-0.85zM90.7 290.0h0.85v0.85h-0.85zM90.1 291.5h0.85v0.85h-0.85zM91.6 282.6h0.85v0.85h-0.85zM88.5 288.6h0.85v0.85h-0.85zM87.8 287.3h0.85v0.85h-0.85zM86.9 289.7h0.85v0.85h-0.85zM88.0 288.6h0.85v0.85h-0.85zM83.1 282.7h0.85v0.85h-0.85zM84.4 281.1h0.85v0.85h-0.85zM85.2 284.6h0.85v0.85h-0.85zM80.4 279.6h0.85v0.85h-0.85zM85.4 285.6h0.85v0.85h-0.85zM84.2 285.6h0.85v0.85h-0.85zM83.4 284.3h0.85v0.85h-0.85zM85.9 287.5h0.85v0.85h-0.85zM84.8 290.3h0.85v0.85h-0.85zM89.6 295.4h0.85v0.85h-0.85zM82.2 289.2h0.85v0.85h-0.85zM85.8 282.1h0.85v0.85h-0.85zM86.1 282.0h0.85v0.85h-0.85zM92.2 295.5h0.85v0.85h-0.85zM91.7 283.7h0.85v0.85h-0.85zM88.8 288.9h0.85v0.85h-0.85zM88.9 284.8h0.85v0.85h-0.85zM79.7 293.6h0.85v0.85h-0.85zM91.7 290.1h0.85v0.85h-0.85zM85.3 288.2h0.85v0.85h-0.85zM82.5 290.2h0.85v0.85h-0.85zM87.8 287.6h0.85v0.85h-0.85zM85.6 287.4h0.85v0.85h-0.85zM87.7 286.7h0.85v0.85h-0.85zM90.9 289.6h0.85v0.85h-0.85zM86.8 284.9h0.85v0.85h-0.85zM91.8 293.6h0.85v0.85h-0.85zM89.8 282.2h0.85v0.85h-0.85zM85.9 291.1h0.85v0.85h-0.85zM87.3 292.5h0.85v0.85h-0.85zM85.5 290.4h0.85v0.85h-0.85zM89.2 279.9h0.85v0.85h-0.85zM85.7 286.8h0.85v0.85h-0.85zM84.8 284.3h0.85v0.85h-0.85zM93.2 289.0h0.85v0.85h-0.85zM90.2 284.0h0.85v0.85h-0.85zM79.3 284.5h0.85v0.85h-0.85zM88.7 285.8h0.85v0.85h-0.85zM89.2 291.3h0.85v0.85h-0.85zM85.5 287.4h0.85v0.85h-0.85zM84.4 291.1h0.85v0.85h-0.85zM93.9 291.3h0.85v0.85h-0.85zM85.3 285.1h0.85v0.85h-0.85zM86.1 290.9h0.85v0.85h-0.85zM84.3 292.5h0.85v0.85h-0.85zM82.6 286.9h0.85v0.85h-0.85zM92.2 295.4h0.85v0.85h-0.85zM85.7 290.4h0.85v0.85h-0.85zM78.9 287.0h0.85v0.85h-0.85zM90.7 281.5h0.85v0.85h-0.85zM93.2 286.5h0.85v0.85h-0.85zM90.3 291.9h0.85v0.85h-0.85zM76.6 280.5h0.85v0.85h-0.85zM88.5 283.0h0.85v0.85h-0.85zM87.1 284.7h0.85v0.85h-0.85zM92.3 287.4h0.85v0.85h-0.85zM83.7 289.4h0.85v0.85h-0.85zM91.8 288.6h0.85v0.85h-0.85zM88.3 290.0h0.85v0.85h-0.85zM85.3 283.4h0.85v0.85h-0.85zM89.2 287.2h0.85v0.85h-0.85zM82.0 289.7h0.85v0.85h-0.85zM88.9 288.9h0.85v0.85h-0.85zM84.3 286.5h0.85v0.85h-0.85zM89.5 290.2h0.85v0.85h-0.85zM84.1 284.1h0.85v0.85h-0.85zM88.5 288.9h0.85v0.85h-0.85zM90.4 284.7h0.85v0.85h-0.85zM90.7 295.0h0.85v0.85h-0.85zM90.8 289.3h0.85v0.85h-0.85zM90.6 284.3h0.85v0.85h-0.85zM85.5 294.8h0.85v0.85h-0.85zM81.0 282.5h0.85v0.85h-0.85zM90.3 286.5h0.85v0.85h-0.85zM85.1 283.6h0.85v0.85h-0.85zM93.6 287.4h0.85v0.85h-0.85zM86.1 281.4h0.85v0.85h-0.85zM90.1 288.7h0.85v0.85h-0.85zM89.1 294.0h0.85v0.85h-0.85zM87.8 284.0h0.85v0.85h-0.85zM83.3 287.4h0.85v0.85h-0.85zM92.2 285.0h0.85v0.85h-0.85zM86.3 287.3h0.85v0.85h-0.85zM89.7 285.5h0.85v0.85h-0.85zM88.4 291.0h0.85v0.85h-0.85zM87.1 287.6h0.85v0.85h-0.85zM89.6 290.6h0.85v0.85h-0.85zM92.0 285.4h0.85v0.85h-0.85zM91.9 288.3h0.85v0.85h-0.85zM82.9 285.0h0.85v0.85h-0.85zM82.5 286.2h0.85v0.85h-0.85zM91.1 281.1h0.85v0.85h-0.85zM82.7 289.6h0.85v0.85h-0.85zM86.1 290.5h0.85v0.85h-0.85zM82.2 286.6h0.85v0.85h-0.85zM77.3 282.7h0.85v0.85h-0.85zM90.0 292.9h0.85v0.85h-0.85zM93.4 289.3h0.85v0.85h-0.85zM83.9 285.9h0.85v0.85h-0.85zM79.9 291.0h0.85v0.85h-0.85zM91.7 285.9h0.85v0.85h-0.85zM94.2 284.9h0.85v0.85h-0.85zM89.3 285.7h0.85v0.85h-0.85zM80.6 287.8h0.85v0.85h-0.85zM82.8 291.1h0.85v0.85h-0.85zM83.8 287.6h0.85v0.85h-0.85zM85.4 288.0h0.85v0.85h-0.85zM84.8 290.3h0.85v0.85h-0.85zM89.5 288.8h0.85v0.85h-0.85zM86.7 294.8h0.85v0.85h-0.85zM84.6 285.8h0.85v0.85h-0.85zM90.1 288.7h0.85v0.85h-0.85zM81.0 286.0h0.85v0.85h-0.85zM85.7 284.2h0.85v0.85h-0.85zM87.9 284.2h0.85v0.85h-0.85zM86.2 283.8h0.85v0.85h-0.85zM93.1 288.4h0.85v0.85h-0.85zM88.9 289.4h0.85v0.85h-0.85zM89.9 288.1h0.85v0.85h-0.85zM90.1 289.1h0.85v0.85h-0.85zM77.9 286.9h0.85v0.85h-0.85zM82.3 290.1h0.85v0.85h-0.85zM88.0 286.9h0.85v0.85h-0.85zM77.6 278.3h0.85v0.85h-0.85zM82.7 285.6h0.85v0.85h-0.85zM82.0 293.7h0.85v0.85h-0.85zM88.9 288.1h0.85v0.85h-0.85zM83.5 285.9h0.85v0.85h-0.85zM86.3 286.2h0.85v0.85h-0.85zM86.9 290.7h0.85v0.85h-0.85zM80.5 287.2h0.85v0.85h-0.85zM91.4 284.2h0.85v0.85h-0.85zM86.5 286.5h0.85v0.85h-0.85zM82.9 290.3h0.85v0.85h-0.85zM86.0 291.7h0.85v0.85h-0.85zM88.8 287.4h0.85v0.85h-0.85zM88.3 286.9h0.85v0.85h-0.85zM81.0 291.5h0.85v0.85h-0.85zM88.6 292.4h0.85v0.85h-0.85zM80.3 290.0h0.85v0.85h-0.85zM90.3 288.6h0.85v0.85h-0.85zM79.1 286.4h0.85v0.85h-0.85zM84.7 286.7h0.85v0.85h-0.85zM87.4 284.9h0.85v0.85h-0.85zM86.7 287.9h0.85v0.85h-0.85zM92.7 289.0h0.85v0.85h-0.85zM86.7 292.2h0.85v0.85h-0.85zM81.2 288.7h0.85v0.85h-0.85zM88.7 286.3h0.85v0.85h-0.85zM86.3 293.2h0.85v0.85h-0.85zM85.5 288.6h0.85v0.85h-0.85zM88.8 292.6h0.85v0.85h-0.85zM79.3 281.0h0.85v0.85h-0.85zM82.1 285.8h0.85v0.85h-0.85zM89.5 291.5h0.85v0.85h-0.85zM86.1 293.0h0.85v0.85h-0.85zM86.9 290.3h0.85v0.85h-0.85zM84.3 290.2h0.85v0.85h-0.85zM84.5 291.4h0.85v0.85h-0.85zM90.5 295.3h0.85v0.85h-0.85zM85.6 283.6h0.85v0.85h-0.85zM90.4 289.9h0.85v0.85h-0.85zM85.2 282.9h0.85v0.85h-0.85zM90.2 281.9h0.85v0.85h-0.85zM85.4 291.3h0.85v0.85h-0.85zM86.2 289.4h0.85v0.85h-0.85zM89.1 290.5h0.85v0.85h-0.85zM91.2 291.2h0.85v0.85h-0.85zM85.8 283.4h0.85v0.85h-0.85zM86.1 285.5h0.85v0.85h-0.85zM88.7 292.7h0.85v0.85h-0.85zM90.2 286.3h0.85v0.85h-0.85zM88.0 288.2h0.85v0.85h-0.85zM85.4 292.1h0.85v0.85h-0.85zM89.5 289.8h0.85v0.85h-0.85zM82.6 277.7h0.85v0.85h-0.85zM84.4 291.3h0.85v0.85h-0.85zM86.4 287.7h0.85v0.85h-0.85zM86.2 289.4h0.85v0.85h-0.85z" fill="#000" opacity="0.7"/>
<path d="M84.4 287.2h0.85v0.85h-0.85zM88.1 279.7h0.85v0.85h-0.85zM77.5 281.7h0.85v0.85h-0.85zM71.9 280.6h0.85v0.85h-0.85zM76.6 284.0h0.85v0.85h-0.85zM73.3 287.2h0.85v0.85h-0.85zM76.3 269.1h0.85v0.85h-0.85zM91.1 285.2h0.85v0.85h-0.85zM74.7 286.6h0.85v0.85h-0.85zM83.0 286.5h0.85v0.85h-0.85zM73.7 286.1h0.85v0.85h-0.85zM67.9 291.8h0.85v0.85h-0.85zM70.2 283.6h0.85v0.85h-0.85zM81.2 287.1h0.85v0.85h-0.85zM78.9 288.2h0.85v0.85h-0.85zM78.5 282.8h0.85v0.85h-0.85zM92.9 281.8h0.85v0.85h-0.85zM79.2 274.7h0.85v0.85h-0.85zM82.2 277.2h0.85v0.85h-0.85zM66.5 295.6h0.85v0.85h-0.85zM85.9 285.9h0.85v0.85h-0.85zM81.3 278.0h0.85v0.85h-0.85zM70.9 286.3h0.85v0.85h-0.85zM61.7 284.4h0.85v0.85h-0.85zM65.0 284.0h0.85v0.85h-0.85zM70.3 293.1h0.85v0.85h-0.85zM88.6 283.6h0.85v0.85h-0.85zM63.6 279.1h0.85v0.85h-0.85zM79.4 280.0h0.85v0.85h-0.85zM82.3 290.6h0.85v0.85h-0.85zM79.4 282.9h0.85v0.85h-0.85zM86.6 284.5h0.85v0.85h-0.85zM87.2 284.4h0.85v0.85h-0.85zM93.8 285.5h0.85v0.85h-0.85zM70.7 284.6h0.85v0.85h-0.85zM74.4 279.7h0.85v0.85h-0.85zM78.8 288.9h0.85v0.85h-0.85zM61.2 282.7h0.85v0.85h-0.85zM78.6 284.3h0.85v0.85h-0.85zM86.9 279.3h0.85v0.85h-0.85zM85.6 284.7h0.85v0.85h-0.85zM80.9 284.2h0.85v0.85h-0.85zM77.1 282.2h0.85v0.85h-0.85zM83.5 296.6h0.85v0.85h-0.85zM89.1 290.8h0.85v0.85h-0.85zM84.9 283.4h0.85v0.85h-0.85zM85.3 296.7h0.85v0.85h-0.85zM69.0 288.3h0.85v0.85h-0.85zM88.9 287.9h0.85v0.85h-0.85zM87.0 293.4h0.85v0.85h-0.85zM94.6 289.0h0.85v0.85h-0.85zM87.5 287.3h0.85v0.85h-0.85zM82.9 283.5h0.85v0.85h-0.85zM86.3 293.8h0.85v0.85h-0.85zM79.1 286.8h0.85v0.85h-0.85zM85.9 286.4h0.85v0.85h-0.85zM88.6 288.0h0.85v0.85h-0.85zM70.5 279.2h0.85v0.85h-0.85zM86.8 289.7h0.85v0.85h-0.85zM90.1 288.2h0.85v0.85h-0.85zM82.4 277.9h0.85v0.85h-0.85zM92.7 282.5h0.85v0.85h-0.85zM89.6 281.0h0.85v0.85h-0.85zM75.0 285.9h0.85v0.85h-0.85zM77.1 281.8h0.85v0.85h-0.85zM88.4 290.2h0.85v0.85h-0.85zM84.1 284.5h0.85v0.85h-0.85zM73.7 282.5h0.85v0.85h-0.85zM76.3 285.2h0.85v0.85h-0.85zM87.4 285.8h0.85v0.85h-0.85zM74.0 281.9h0.85v0.85h-0.85zM91.8 288.1h0.85v0.85h-0.85zM82.8 287.6h0.85v0.85h-0.85zM85.9 287.2h0.85v0.85h-0.85zM90.9 291.3h0.85v0.85h-0.85zM82.0 291.6h0.85v0.85h-0.85zM80.9 292.8h0.85v0.85h-0.85zM70.2 278.2h0.85v0.85h-0.85zM79.4 282.0h0.85v0.85h-0.85zM71.8 287.8h0.85v0.85h-0.85zM83.3 286.3h0.85v0.85h-0.85zM77.5 286.9h0.85v0.85h-0.85zM80.0 282.1h0.85v0.85h-0.85zM85.4 288.4h0.85v0.85h-0.85zM81.7 289.6h0.85v0.85h-0.85zM71.6 284.1h0.85v0.85h-0.85zM76.5 292.2h0.85v0.85h-0.85zM85.3 297.3h0.85v0.85h-0.85zM94.4 285.7h0.85v0.85h-0.85zM71.7 287.3h0.85v0.85h-0.85zM78.6 284.9h0.85v0.85h-0.85zM72.0 288.0h0.85v0.85h-0.85zM82.6 288.2h0.85v0.85h-0.85zM83.6 281.7h0.85v0.85h-0.85zM62.0 282.3h0.85v0.85h-0.85zM75.6 282.6h0.85v0.85h-0.85zM89.2 286.5h0.85v0.85h-0.85zM93.8 288.5h0.85v0.85h-0.85zM86.8 289.3h0.85v0.85h-0.85zM87.8 280.4h0.85v0.85h-0.85zM90.3 287.7h0.85v0.85h-0.85zM72.7 288.1h0.85v0.85h-0.85zM83.9 292.9h0.85v0.85h-0.85zM87.2 288.6h0.85v0.85h-0.85zM67.1 292.8h0.85v0.85h-0.85zM93.6 291.5h0.85v0.85h-0.85zM84.9 292.7h0.85v0.85h-0.85zM73.6 288.7h0.85v0.85h-0.85zM81.2 280.9h0.85v0.85h-0.85zM84.1 288.2h0.85v0.85h-0.85zM67.4 274.3h0.85v0.85h-0.85zM80.3 284.9h0.85v0.85h-0.85zM73.0 277.6h0.85v0.85h-0.85zM79.3 279.9h0.85v0.85h-0.85zM75.1 289.7h0.85v0.85h-0.85zM83.0 282.4h0.85v0.85h-0.85zM71.4 283.9h0.85v0.85h-0.85zM79.2 289.3h0.85v0.85h-0.85zM74.4 285.5h0.85v0.85h-0.85zM69.5 288.0h0.85v0.85h-0.85zM90.8 283.9h0.85v0.85h-0.85zM82.6 284.1h0.85v0.85h-0.85zM86.3 290.9h0.85v0.85h-0.85zM84.3 287.3h0.85v0.85h-0.85zM78.3 283.5h0.85v0.85h-0.85zM79.2 289.3h0.85v0.85h-0.85zM74.9 278.5h0.85v0.85h-0.85zM71.4 287.2h0.85v0.85h-0.85zM89.1 291.1h0.85v0.85h-0.85zM94.6 285.0h0.85v0.85h-0.85zM89.4 290.5h0.85v0.85h-0.85zM79.6 282.0h0.85v0.85h-0.85zM88.5 283.4h0.85v0.85h-0.85zM78.5 280.7h0.85v0.85h-0.85zM76.7 284.2h0.85v0.85h-0.85zM79.1 286.2h0.85v0.85h-0.85zM66.5 278.3h0.85v0.85h-0.85zM85.3 292.0h0.85v0.85h-0.85zM72.4 285.5h0.85v0.85h-0.85zM76.1 273.8h0.85v0.85h-0.85zM78.3 280.1h0.85v0.85h-0.85zM88.4 285.8h0.85v0.85h-0.85zM80.7 278.5h0.85v0.85h-0.85zM82.2 276.2h0.85v0.85h-0.85zM82.9 293.2h0.85v0.85h-0.85zM70.7 289.1h0.85v0.85h-0.85zM92.9 286.4h0.85v0.85h-0.85zM90.5 287.6h0.85v0.85h-0.85zM76.8 275.2h0.85v0.85h-0.85zM71.8 277.3h0.85v0.85h-0.85zM79.5 278.9h0.85v0.85h-0.85zM93.6 293.1h0.85v0.85h-0.85zM81.6 282.7h0.85v0.85h-0.85zM80.6 279.2h0.85v0.85h-0.85zM86.5 295.3h0.85v0.85h-0.85zM88.6 292.3h0.85v0.85h-0.85zM75.0 286.8h0.85v0.85h-0.85zM72.3 282.6h0.85v0.85h-0.85zM81.6 286.2h0.85v0.85h-0.85zM64.9 284.9h0.85v0.85h-0.85zM73.2 277.9h0.85v0.85h-0.85zM68.3 285.2h0.85v0.85h-0.85zM77.6 289.0h0.85v0.85h-0.85zM79.0 285.7h0.85v0.85h-0.85zM93.5 291.6h0.85v0.85h-0.85zM87.5 294.3h0.85v0.85h-0.85zM82.9 281.2h0.85v0.85h-0.85zM74.2 277.2h0.85v0.85h-0.85zM84.0 284.3h0.85v0.85h-0.85zM85.4 290.8h0.85v0.85h-0.85zM74.1 286.1h0.85v0.85h-0.85zM91.8 287.7h0.85v0.85h-0.85zM88.9 286.0h0.85v0.85h-0.85zM72.9 283.8h0.85v0.85h-0.85zM64.9 287.7h0.85v0.85h-0.85zM76.6 292.3h0.85v0.85h-0.85zM70.5 285.4h0.85v0.85h-0.85zM83.9 285.3h0.85v0.85h-0.85zM84.3 282.5h0.85v0.85h-0.85zM71.8 277.7h0.85v0.85h-0.85zM76.2 281.2h0.85v0.85h-0.85zM83.0 284.4h0.85v0.85h-0.85zM75.3 281.5h0.85v0.85h-0.85zM64.7 282.1h0.85v0.85h-0.85zM84.5 279.6h0.85v0.85h-0.85zM78.8 289.2h0.85v0.85h-0.85zM75.0 286.2h0.85v0.85h-0.85zM93.0 293.6h0.85v0.85h-0.85zM75.1 288.6h0.85v0.85h-0.85zM79.6 287.7h0.85v0.85h-0.85zM76.1 286.2h0.85v0.85h-0.85zM74.4 286.7h0.85v0.85h-0.85zM69.7 287.2h0.85v0.85h-0.85zM87.8 284.9h0.85v0.85h-0.85zM86.1 288.8h0.85v0.85h-0.85zM85.7 293.7h0.85v0.85h-0.85zM75.4 288.7h0.85v0.85h-0.85zM82.7 282.6h0.85v0.85h-0.85zM85.3 279.8h0.85v0.85h-0.85zM68.2 290.0h0.85v0.85h-0.85zM71.4 293.6h0.85v0.85h-0.85zM90.0 284.4h0.85v0.85h-0.85zM73.4 273.5h0.85v0.85h-0.85zM80.3 277.4h0.85v0.85h-0.85zM94.6 278.9h0.85v0.85h-0.85zM81.5 271.9h0.85v0.85h-0.85zM77.9 292.5h0.85v0.85h-0.85zM77.1 281.2h0.85v0.85h-0.85zM76.8 287.4h0.85v0.85h-0.85zM88.7 285.7h0.85v0.85h-0.85zM63.2 285.4h0.85v0.85h-0.85zM82.4 287.0h0.85v0.85h-0.85zM76.3 289.3h0.85v0.85h-0.85zM81.7 280.6h0.85v0.85h-0.85zM75.0 284.3h0.85v0.85h-0.85zM85.2 282.1h0.85v0.85h-0.85zM78.4 292.8h0.85v0.85h-0.85zM85.3 290.1h0.85v0.85h-0.85zM84.4 285.4h0.85v0.85h-0.85zM84.6 289.1h0.85v0.85h-0.85zM80.9 291.3h0.85v0.85h-0.85zM81.0 290.7h0.85v0.85h-0.85zM81.1 289.8h0.85v0.85h-0.85zM75.1 282.3h0.85v0.85h-0.85zM70.9 291.0h0.85v0.85h-0.85zM85.4 287.6h0.85v0.85h-0.85zM86.3 282.3h0.85v0.85h-0.85zM81.8 283.4h0.85v0.85h-0.85zM64.7 282.6h0.85v0.85h-0.85zM73.4 292.5h0.85v0.85h-0.85zM74.5 281.9h0.85v0.85h-0.85zM89.5 287.0h0.85v0.85h-0.85zM69.3 285.7h0.85v0.85h-0.85zM74.4 294.1h0.85v0.85h-0.85zM71.7 281.0h0.85v0.85h-0.85zM72.6 286.4h0.85v0.85h-0.85zM78.4 285.4h0.85v0.85h-0.85zM94.9 296.3h0.85v0.85h-0.85zM72.9 274.8h0.85v0.85h-0.85zM87.4 288.8h0.85v0.85h-0.85zM81.3 285.4h0.85v0.85h-0.85zM87.2 289.7h0.85v0.85h-0.85zM83.2 288.8h0.85v0.85h-0.85zM79.2 283.8h0.85v0.85h-0.85zM93.1 286.2h0.85v0.85h-0.85zM81.5 291.9h0.85v0.85h-0.85zM76.7 284.5h0.85v0.85h-0.85zM78.0 285.6h0.85v0.85h-0.85zM85.5 281.0h0.85v0.85h-0.85zM73.8 275.7h0.85v0.85h-0.85zM87.3 291.3h0.85v0.85h-0.85zM83.9 288.2h0.85v0.85h-0.85zM85.6 288.8h0.85v0.85h-0.85zM86.6 287.8h0.85v0.85h-0.85zM72.4 289.8h0.85v0.85h-0.85zM92.6 278.9h0.85v0.85h-0.85zM79.0 279.8h0.85v0.85h-0.85zM85.4 285.0h0.85v0.85h-0.85zM93.4 293.3h0.85v0.85h-0.85zM76.9 283.0h0.85v0.85h-0.85zM75.9 288.4h0.85v0.85h-0.85zM72.9 287.3h0.85v0.85h-0.85zM68.8 289.9h0.85v0.85h-0.85zM85.1 280.4h0.85v0.85h-0.85zM74.1 285.9h0.85v0.85h-0.85zM83.4 271.4h0.85v0.85h-0.85zM82.7 294.1h0.85v0.85h-0.85zM77.1 278.4h0.85v0.85h-0.85zM91.6 288.5h0.85v0.85h-0.85zM82.7 289.4h0.85v0.85h-0.85zM70.3 281.2h0.85v0.85h-0.85zM71.1 278.8h0.85v0.85h-0.85zM78.2 280.1h0.85v0.85h-0.85zM95.0 290.3h0.85v0.85h-0.85zM88.2 278.2h0.85v0.85h-0.85zM79.1 284.9h0.85v0.85h-0.85zM82.4 288.5h0.85v0.85h-0.85zM74.0 280.3h0.85v0.85h-0.85zM74.1 286.1h0.85v0.85h-0.85zM85.1 295.7h0.85v0.85h-0.85zM78.9 281.8h0.85v0.85h-0.85zM90.0 283.3h0.85v0.85h-0.85zM73.5 287.8h0.85v0.85h-0.85zM79.3 280.3h0.85v0.85h-0.85zM78.7 283.5h0.85v0.85h-0.85zM79.0 281.9h0.85v0.85h-0.85zM86.0 284.7h0.85v0.85h-0.85zM75.7 290.8h0.85v0.85h-0.85zM72.9 288.9h0.85v0.85h-0.85zM86.1 285.0h0.85v0.85h-0.85zM82.8 278.5h0.85v0.85h-0.85zM83.1 280.8h0.85v0.85h-0.85zM73.5 286.4h0.85v0.85h-0.85zM74.6 285.9h0.85v0.85h-0.85zM84.5 291.8h0.85v0.85h-0.85zM84.4 291.8h0.85v0.85h-0.85zM74.4 283.2h0.85v0.85h-0.85zM86.6 292.8h0.85v0.85h-0.85zM84.8 283.7h0.85v0.85h-0.85zM71.7 279.9h0.85v0.85h-0.85zM90.6 282.1h0.85v0.85h-0.85zM78.9 289.0h0.85v0.85h-0.85zM84.7 282.8h0.85v0.85h-0.85zM83.4 290.5h0.85v0.85h-0.85zM78.3 289.2h0.85v0.85h-0.85zM79.7 281.2h0.85v0.85h-0.85zM72.7 286.9h0.85v0.85h-0.85zM81.8 285.3h0.85v0.85h-0.85zM77.0 284.2h0.85v0.85h-0.85zM87.8 292.5h0.85v0.85h-0.85zM78.8 287.0h0.85v0.85h-0.85zM65.0 278.1h0.85v0.85h-0.85zM74.9 280.5h0.85v0.85h-0.85zM86.9 276.0h0.85v0.85h-0.85zM85.2 290.0h0.85v0.85h-0.85zM84.9 294.1h0.85v0.85h-0.85zM89.0 282.1h0.85v0.85h-0.85zM77.9 279.7h0.85v0.85h-0.85zM81.6 289.6h0.85v0.85h-0.85zM92.6 290.3h0.85v0.85h-0.85z" fill="#000" opacity="0.45"/>
<line x1="94.7" y1="243.5" x2="94.7" y2="333.9" stroke="#454545" stroke-width="1.1" />
<line x1="56.6" y1="297.3" x2="147.2" y2="297.3" stroke="#454545" stroke-width="1.1" />
<line x1="54.0" y1="333.29999999999995" x2="56.6" y2="333.29999999999995" stroke="#222" stroke-width="0.9" />
<line x1="55.1" y1="329.60163148184245" x2="56.6" y2="329.60163148184245" stroke="#333" stroke-width="0.55" />
<line x1="55.1" y1="327.43822458487267" x2="56.6" y2="327.43822458487267" stroke="#333" stroke-width="0.55" />
<line x1="55.1" y1="325.903262963685" x2="56.6" y2="325.903262963685" stroke="#333" stroke-width="0.55" />
<line x1="55.1" y1="324.7126542324431" x2="56.6" y2="324.7126542324431" stroke="#333" stroke-width="0.55" />
<line x1="55.1" y1="323.7398560667152" x2="56.6" y2="323.7398560667152" stroke="#333" stroke-width="0.55" />
<line x1="55.1" y1="322.91736693696765" x2="56.6" y2="322.91736693696765" stroke="#333" stroke-width="0.55" />
<line x1="55.1" y1="322.2048944455275" x2="56.6" y2="322.2048944455275" stroke="#333" stroke-width="0.55" />
<line x1="55.1" y1="321.5764491697454" x2="56.6" y2="321.5764491697454" stroke="#333" stroke-width="0.55" />
<text x="53.4" y="334.9" font-size="4.5" fill="#5a5a5a" text-anchor="end">10<tspan dy="-1.7" font-size="3.1">0</tspan></text>
<line x1="54.0" y1="321.0142857142857" x2="56.6" y2="321.0142857142857" stroke="#222" stroke-width="0.9" />
<line x1="55.1" y1="317.31591719612817" x2="56.6" y2="317.31591719612817" stroke="#333" stroke-width="0.55" />
<line x1="55.1" y1="315.1525102991584" x2="56.6" y2="315.1525102991584" stroke="#333" stroke-width="0.55" />
<line x1="55.1" y1="313.6175486779707" x2="56.6" y2="313.6175486779707" stroke="#333" stroke-width="0.55" />
<line x1="55.1" y1="312.4269399467289" x2="56.6" y2="312.4269399467289" stroke="#333" stroke-width="0.55" />
<line x1="55.1" y1="311.45414178100094" x2="56.6" y2="311.45414178100094" stroke="#333" stroke-width="0.55" />
<line x1="55.1" y1="310.6316526512534" x2="56.6" y2="310.6316526512534" stroke="#333" stroke-width="0.55" />
<line x1="55.1" y1="309.9191801598132" x2="56.6" y2="309.9191801598132" stroke="#333" stroke-width="0.55" />
<line x1="55.1" y1="309.2907348840311" x2="56.6" y2="309.2907348840311" stroke="#333" stroke-width="0.55" />
<text x="53.4" y="322.6" font-size="4.5" fill="#5a5a5a" text-anchor="end">10<tspan dy="-1.7" font-size="3.1">1</tspan></text>
<line x1="54.0" y1="308.7285714285714" x2="56.6" y2="308.7285714285714" stroke="#222" stroke-width="0.9" />
<line x1="55.1" y1="305.0302029104139" x2="56.6" y2="305.0302029104139" stroke="#333" stroke-width="0.55" />
<line x1="55.1" y1="302.8667960134441" x2="56.6" y2="302.8667960134441" stroke="#333" stroke-width="0.55" />
<line x1="55.1" y1="301.33183439225644" x2="56.6" y2="301.33183439225644" stroke="#333" stroke-width="0.55" />
<line x1="55.1" y1="300.1412256610146" x2="56.6" y2="300.1412256610146" stroke="#333" stroke-width="0.55" />
<line x1="55.1" y1="299.16842749528666" x2="56.6" y2="299.16842749528666" stroke="#333" stroke-width="0.55" />
<line x1="55.1" y1="298.3459383655391" x2="56.6" y2="298.3459383655391" stroke="#333" stroke-width="0.55" />
<line x1="55.1" y1="297.63346587409893" x2="56.6" y2="297.63346587409893" stroke="#333" stroke-width="0.55" />
<line x1="55.1" y1="297.00502059831683" x2="56.6" y2="297.00502059831683" stroke="#333" stroke-width="0.55" />
<text x="53.4" y="310.3" font-size="4.5" fill="#5a5a5a" text-anchor="end">10<tspan dy="-1.7" font-size="3.1">2</tspan></text>
<line x1="54.0" y1="296.4428571428571" x2="56.6" y2="296.4428571428571" stroke="#222" stroke-width="0.9" />
<line x1="55.1" y1="292.7444886246996" x2="56.6" y2="292.7444886246996" stroke="#333" stroke-width="0.55" />
<line x1="55.1" y1="290.58108172772984" x2="56.6" y2="290.58108172772984" stroke="#333" stroke-width="0.55" />
<line x1="55.1" y1="289.04612010654216" x2="56.6" y2="289.04612010654216" stroke="#333" stroke-width="0.55" />
<line x1="55.1" y1="287.85551137530035" x2="56.6" y2="287.85551137530035" stroke="#333" stroke-width="0.55" />
<line x1="55.1" y1="286.8827132095724" x2="56.6" y2="286.8827132095724" stroke="#333" stroke-width="0.55" />
<line x1="55.1" y1="286.0602240798248" x2="56.6" y2="286.0602240798248" stroke="#333" stroke-width="0.55" />
<line x1="55.1" y1="285.34775158838465" x2="56.6" y2="285.34775158838465" stroke="#333" stroke-width="0.55" />
<line x1="55.1" y1="284.71930631260255" x2="56.6" y2="284.71930631260255" stroke="#333" stroke-width="0.55" />
<text x="53.4" y="298.0" font-size="4.5" fill="#5a5a5a" text-anchor="end">10<tspan dy="-1.7" font-size="3.1">3</tspan></text>
<line x1="54.0" y1="284.15714285714284" x2="56.6" y2="284.15714285714284" stroke="#222" stroke-width="0.9" />
<line x1="55.1" y1="280.45877433898534" x2="56.6" y2="280.45877433898534" stroke="#333" stroke-width="0.55" />
<line x1="55.1" y1="278.29536744201556" x2="56.6" y2="278.29536744201556" stroke="#333" stroke-width="0.55" />
<line x1="55.1" y1="276.7604058208279" x2="56.6" y2="276.7604058208279" stroke="#333" stroke-width="0.55" />
<line x1="55.1" y1="275.569797089586" x2="56.6" y2="275.569797089586" stroke="#333" stroke-width="0.55" />
<line x1="55.1" y1="274.5969989238581" x2="56.6" y2="274.5969989238581" stroke="#333" stroke-width="0.55" />
<line x1="55.1" y1="273.77450979411054" x2="56.6" y2="273.77450979411054" stroke="#333" stroke-width="0.55" />
<line x1="55.1" y1="273.0620373026704" x2="56.6" y2="273.0620373026704" stroke="#333" stroke-width="0.55" />
<line x1="55.1" y1="272.4335920268883" x2="56.6" y2="272.4335920268883" stroke="#333" stroke-width="0.55" />
<text x="53.4" y="285.8" font-size="4.5" fill="#5a5a5a" text-anchor="end">10<tspan dy="-1.7" font-size="3.1">4</tspan></text>
<line x1="54.0" y1="271.87142857142857" x2="56.6" y2="271.87142857142857" stroke="#222" stroke-width="0.9" />
<line x1="55.1" y1="268.17306005327106" x2="56.6" y2="268.17306005327106" stroke="#333" stroke-width="0.55" />
<line x1="55.1" y1="266.0096531563013" x2="56.6" y2="266.0096531563013" stroke="#333" stroke-width="0.55" />
<line x1="55.1" y1="264.4746915351136" x2="56.6" y2="264.4746915351136" stroke="#333" stroke-width="0.55" />
<line x1="55.1" y1="263.2840828038718" x2="56.6" y2="263.2840828038718" stroke="#333" stroke-width="0.55" />
<line x1="55.1" y1="262.31128463814383" x2="56.6" y2="262.31128463814383" stroke="#333" stroke-width="0.55" />
<line x1="55.1" y1="261.48879550839627" x2="56.6" y2="261.48879550839627" stroke="#333" stroke-width="0.55" />
<line x1="55.1" y1="260.7763230169561" x2="56.6" y2="260.7763230169561" stroke="#333" stroke-width="0.55" />
<line x1="55.1" y1="260.147877741174" x2="56.6" y2="260.147877741174" stroke="#333" stroke-width="0.55" />
<text x="53.4" y="273.5" font-size="4.5" fill="#5a5a5a" text-anchor="end">10<tspan dy="-1.7" font-size="3.1">5</tspan></text>
<line x1="54.0" y1="259.5857142857143" x2="56.6" y2="259.5857142857143" stroke="#222" stroke-width="0.9" />
<line x1="55.1" y1="255.8873457675568" x2="56.6" y2="255.8873457675568" stroke="#333" stroke-width="0.55" />
<line x1="55.1" y1="253.723938870587" x2="56.6" y2="253.723938870587" stroke="#333" stroke-width="0.55" />
<line x1="55.1" y1="252.18897724939933" x2="56.6" y2="252.18897724939933" stroke="#333" stroke-width="0.55" />
<line x1="55.1" y1="250.9983685181575" x2="56.6" y2="250.9983685181575" stroke="#333" stroke-width="0.55" />
<line x1="55.1" y1="250.02557035242953" x2="56.6" y2="250.02557035242953" stroke="#333" stroke-width="0.55" />
<line x1="55.1" y1="249.203081222682" x2="56.6" y2="249.203081222682" stroke="#333" stroke-width="0.55" />
<line x1="55.1" y1="248.49060873124185" x2="56.6" y2="248.49060873124185" stroke="#333" stroke-width="0.55" />
<line x1="55.1" y1="247.86216345545972" x2="56.6" y2="247.86216345545972" stroke="#333" stroke-width="0.55" />
<text x="53.4" y="261.2" font-size="4.5" fill="#5a5a5a" text-anchor="end">10<tspan dy="-1.7" font-size="3.1">6</tspan></text>
<line x1="54.0" y1="247.3" x2="56.6" y2="247.3" stroke="#222" stroke-width="0.9" />
<text x="53.4" y="248.9" font-size="4.5" fill="#5a5a5a" text-anchor="end">10<tspan dy="-1.7" font-size="3.1">7</tspan></text>
<line x1="56.300000000000004" y1="244.0" x2="56.300000000000004" y2="333.9" stroke="#888" stroke-width="0.5" />
<line x1="57.6" y1="333.9" x2="57.6" y2="336.5" stroke="#222" stroke-width="0.9" />
<line x1="61.28116680411954" y1="333.9" x2="61.28116680411954" y2="335.4" stroke="#333" stroke-width="0.6" />
<line x1="63.434511343429016" y1="333.9" x2="63.434511343429016" y2="335.4" stroke="#333" stroke-width="0.6" />
<line x1="64.96233360823908" y1="333.9" x2="64.96233360823908" y2="335.4" stroke="#333" stroke-width="0.6" />
<line x1="66.1474046244519" y1="333.9" x2="66.1474046244519" y2="335.4" stroke="#333" stroke-width="0.6" />
<line x1="67.11567814754855" y1="333.9" x2="67.11567814754855" y2="335.4" stroke="#333" stroke-width="0.6" />
<line x1="67.93434174646006" y1="333.9" x2="67.93434174646006" y2="335.4" stroke="#333" stroke-width="0.6" />
<line x1="68.64350041235862" y1="333.9" x2="68.64350041235862" y2="335.4" stroke="#333" stroke-width="0.6" />
<line x1="69.26902268685802" y1="333.9" x2="69.26902268685802" y2="335.4" stroke="#333" stroke-width="0.6" />
<line x1="69.82857142857142" y1="333.9" x2="69.82857142857142" y2="336.5" stroke="#222" stroke-width="0.9" />
<line x1="73.50973823269096" y1="333.9" x2="73.50973823269096" y2="335.4" stroke="#333" stroke-width="0.6" />
<line x1="75.66308277200044" y1="333.9" x2="75.66308277200044" y2="335.4" stroke="#333" stroke-width="0.6" />
<line x1="77.1909050368105" y1="333.9" x2="77.1909050368105" y2="335.4" stroke="#333" stroke-width="0.6" />
<line x1="78.37597605302331" y1="333.9" x2="78.37597605302331" y2="335.4" stroke="#333" stroke-width="0.6" />
<line x1="79.34424957611998" y1="333.9" x2="79.34424957611998" y2="335.4" stroke="#333" stroke-width="0.6" />
<line x1="80.16291317503148" y1="333.9" x2="80.16291317503148" y2="335.4" stroke="#333" stroke-width="0.6" />
<line x1="80.87207184093005" y1="333.9" x2="80.87207184093005" y2="335.4" stroke="#333" stroke-width="0.6" />
<line x1="81.49759411542945" y1="333.9" x2="81.49759411542945" y2="335.4" stroke="#333" stroke-width="0.6" />
<line x1="82.05714285714285" y1="333.9" x2="82.05714285714285" y2="336.5" stroke="#222" stroke-width="0.9" />
<line x1="85.73830966126239" y1="333.9" x2="85.73830966126239" y2="335.4" stroke="#333" stroke-width="0.6" />
<line x1="87.89165420057186" y1="333.9" x2="87.89165420057186" y2="335.4" stroke="#333" stroke-width="0.6" />
<line x1="89.41947646538193" y1="333.9" x2="89.41947646538193" y2="335.4" stroke="#333" stroke-width="0.6" />
<line x1="90.60454748159474" y1="333.9" x2="90.60454748159474" y2="335.4" stroke="#333" stroke-width="0.6" />
<line x1="91.5728210046914" y1="333.9" x2="91.5728210046914" y2="335.4" stroke="#333" stroke-width="0.6" />
<line x1="92.3914846036029" y1="333.9" x2="92.3914846036029" y2="335.4" stroke="#333" stroke-width="0.6" />
<line x1="93.10064326950148" y1="333.9" x2="93.10064326950148" y2="335.4" stroke="#333" stroke-width="0.6" />
<line x1="93.72616554400088" y1="333.9" x2="93.72616554400088" y2="335.4" stroke="#333" stroke-width="0.6" />
<line x1="94.28571428571428" y1="333.9" x2="94.28571428571428" y2="336.5" stroke="#222" stroke-width="0.9" />
<line x1="97.96688108983382" y1="333.9" x2="97.96688108983382" y2="335.4" stroke="#333" stroke-width="0.6" />
<line x1="100.12022562914329" y1="333.9" x2="100.12022562914329" y2="335.4" stroke="#333" stroke-width="0.6" />
<line x1="101.64804789395336" y1="333.9" x2="101.64804789395336" y2="335.4" stroke="#333" stroke-width="0.6" />
<line x1="102.83311891016616" y1="333.9" x2="102.83311891016616" y2="335.4" stroke="#333" stroke-width="0.6" />
<line x1="103.80139243326283" y1="333.9" x2="103.80139243326283" y2="335.4" stroke="#333" stroke-width="0.6" />
<line x1="104.62005603217433" y1="333.9" x2="104.62005603217433" y2="335.4" stroke="#333" stroke-width="0.6" />
<line x1="105.3292146980729" y1="333.9" x2="105.3292146980729" y2="335.4" stroke="#333" stroke-width="0.6" />
<line x1="105.9547369725723" y1="333.9" x2="105.9547369725723" y2="335.4" stroke="#333" stroke-width="0.6" />
<line x1="106.5142857142857" y1="333.9" x2="106.5142857142857" y2="336.5" stroke="#222" stroke-width="0.9" />
<line x1="110.19545251840525" y1="333.9" x2="110.19545251840525" y2="335.4" stroke="#333" stroke-width="0.6" />
<line x1="112.34879705771472" y1="333.9" x2="112.34879705771472" y2="335.4" stroke="#333" stroke-width="0.6" />
<line x1="113.87661932252479" y1="333.9" x2="113.87661932252479" y2="335.4" stroke="#333" stroke-width="0.6" />
<line x1="115.06169033873759" y1="333.9" x2="115.06169033873759" y2="335.4" stroke="#333" stroke-width="0.6" />
<line x1="116.02996386183426" y1="333.9" x2="116.02996386183426" y2="335.4" stroke="#333" stroke-width="0.6" />
<line x1="116.84862746074576" y1="333.9" x2="116.84862746074576" y2="335.4" stroke="#333" stroke-width="0.6" />
<line x1="117.55778612664433" y1="333.9" x2="117.55778612664433" y2="335.4" stroke="#333" stroke-width="0.6" />
<line x1="118.18330840114373" y1="333.9" x2="118.18330840114373" y2="335.4" stroke="#333" stroke-width="0.6" />
<line x1="118.74285714285713" y1="333.9" x2="118.74285714285713" y2="336.5" stroke="#222" stroke-width="0.9" />
<line x1="122.42402394697667" y1="333.9" x2="122.42402394697667" y2="335.4" stroke="#333" stroke-width="0.6" />
<line x1="124.57736848628615" y1="333.9" x2="124.57736848628615" y2="335.4" stroke="#333" stroke-width="0.6" />
<line x1="126.10519075109622" y1="333.9" x2="126.10519075109622" y2="335.4" stroke="#333" stroke-width="0.6" />
<line x1="127.29026176730902" y1="333.9" x2="127.29026176730902" y2="335.4" stroke="#333" stroke-width="0.6" />
<line x1="128.2585352904057" y1="333.9" x2="128.2585352904057" y2="335.4" stroke="#333" stroke-width="0.6" />
<line x1="129.07719888931717" y1="333.9" x2="129.07719888931717" y2="335.4" stroke="#333" stroke-width="0.6" />
<line x1="129.78635755521574" y1="333.9" x2="129.78635755521574" y2="335.4" stroke="#333" stroke-width="0.6" />
<line x1="130.41187982971516" y1="333.9" x2="130.41187982971516" y2="335.4" stroke="#333" stroke-width="0.6" />
<line x1="130.97142857142856" y1="333.9" x2="130.97142857142856" y2="336.5" stroke="#222" stroke-width="0.9" />
<line x1="134.6525953755481" y1="333.9" x2="134.6525953755481" y2="335.4" stroke="#333" stroke-width="0.6" />
<line x1="136.80593991485756" y1="333.9" x2="136.80593991485756" y2="335.4" stroke="#333" stroke-width="0.6" />
<line x1="138.33376217966764" y1="333.9" x2="138.33376217966764" y2="335.4" stroke="#333" stroke-width="0.6" />
<line x1="139.51883319588046" y1="333.9" x2="139.51883319588046" y2="335.4" stroke="#333" stroke-width="0.6" />
<line x1="140.48710671897712" y1="333.9" x2="140.48710671897712" y2="335.4" stroke="#333" stroke-width="0.6" />
<line x1="141.30577031788863" y1="333.9" x2="141.30577031788863" y2="335.4" stroke="#333" stroke-width="0.6" />
<line x1="142.01492898378717" y1="333.9" x2="142.01492898378717" y2="335.4" stroke="#333" stroke-width="0.6" />
<line x1="142.6404512582866" y1="333.9" x2="142.6404512582866" y2="335.4" stroke="#333" stroke-width="0.6" />
<line x1="143.2" y1="333.9" x2="143.2" y2="336.5" stroke="#222" stroke-width="0.9" />
<line x1="56.6" y1="334.2" x2="146.7" y2="334.2" stroke="#888" stroke-width="0.5" />
<text x="59.6" y="253.9" font-size="8.4" fill="#1a1a1a" stroke="#1a1a1a" stroke-width="0.2" text-anchor="start" transform="translate(59.6,0) scale(0.88,1) translate(-59.6,0)">99.6</text>
<text x="144.8" y="254" font-size="8.4" fill="#1a1a1a" stroke="#1a1a1a" stroke-width="0.2" text-anchor="end" transform="translate(144.8,0) scale(0.88,1) translate(-144.8,0)">0.4</text>
<text x="59.6" y="329.4" font-size="8.4" fill="#1a1a1a" stroke="#1a1a1a" stroke-width="0" text-anchor="start" transform="translate(59.6,0) scale(0.88,1) translate(-59.6,0)">0</text>
<text x="139.2" y="329.4" font-size="8.4" fill="#1a1a1a" stroke="#1a1a1a" stroke-width="0" text-anchor="end" transform="translate(139.2,0) scale(0.88,1) translate(-139.2,0)">0</text>
<rect x="154.5" y="243.6" width="90.5" height="90.00000000000003" fill="#fff" stroke="#c4c4c4" stroke-width="0.9"/>
<path d="M189.6 293.6h0.85v0.85h-0.85zM183.4 291.8h0.85v0.85h-0.85zM187.4 287.1h0.85v0.85h-0.85zM200.4 290.2h0.85v0.85h-0.85zM188.7 291.3h0.85v0.85h-0.85zM195.8 288.9h0.85v0.85h-0.85zM192.5 284.6h0.85v0.85h-0.85zM186.8 286.2h0.85v0.85h-0.85zM181.0 281.2h0.85v0.85h-0.85zM179.2 286.3h0.85v0.85h-0.85zM188.0 286.9h0.85v0.85h-0.85zM189.4 282.8h0.85v0.85h-0.85zM188.5 289.2h0.85v0.85h-0.85zM193.5 285.3h0.85v0.85h-0.85zM186.6 279.7h0.85v0.85h-0.85zM186.0 278.9h0.85v0.85h-0.85zM180.5 292.0h0.85v0.85h-0.85zM175.8 290.2h0.85v0.85h-0.85zM191.0 287.2h0.85v0.85h-0.85zM191.8 290.8h0.85v0.85h-0.85zM195.3 288.0h0.85v0.85h-0.85zM185.4 285.4h0.85v0.85h-0.85zM183.1 287.5h0.85v0.85h-0.85zM184.3 292.2h0.85v0.85h-0.85zM177.8 282.6h0.85v0.85h-0.85zM183.3 279.0h0.85v0.85h-0.85zM200.4 279.5h0.85v0.85h-0.85zM187.3 285.9h0.85v0.85h-0.85zM198.9 281.1h0.85v0.85h-0.85zM195.4 285.9h0.85v0.85h-0.85zM188.1 285.4h0.85v0.85h-0.85zM192.8 284.0h0.85v0.85h-0.85zM188.5 289.7h0.85v0.85h-0.85zM200.0 279.5h0.85v0.85h-0.85zM198.2 293.2h0.85v0.85h-0.85zM186.1 289.3h0.85v0.85h-0.85zM186.2 294.8h0.85v0.85h-0.85zM190.3 287.5h0.85v0.85h-0.85zM187.6 287.3h0.85v0.85h-0.85zM187.9 284.5h0.85v0.85h-0.85zM201.4 281.7h0.85v0.85h-0.85zM167.4 285.5h0.85v0.85h-0.85zM188.1 289.8h0.85v0.85h-0.85zM187.8 287.6h0.85v0.85h-0.85zM191.0 292.5h0.85v0.85h-0.85zM186.3 286.5h0.85v0.85h-0.85zM200.6 291.7h0.85v0.85h-0.85zM183.1 297.3h0.85v0.85h-0.85zM193.7 286.3h0.85v0.85h-0.85zM182.0 288.8h0.85v0.85h-0.85zM184.0 283.4h0.85v0.85h-0.85zM181.2 285.4h0.85v0.85h-0.85zM195.6 287.2h0.85v0.85h-0.85zM180.3 290.2h0.85v0.85h-0.85zM189.4 291.8h0.85v0.85h-0.85zM196.2 288.4h0.85v0.85h-0.85zM188.1 288.0h0.85v0.85h-0.85zM182.2 290.4h0.85v0.85h-0.85zM197.2 289.9h0.85v0.85h-0.85zM187.6 287.1h0.85v0.85h-0.85zM184.3 284.5h0.85v0.85h-0.85zM186.6 284.6h0.85v0.85h-0.85zM186.4 281.5h0.85v0.85h-0.85zM191.1 288.7h0.85v0.85h-0.85zM182.1 278.0h0.85v0.85h-0.85zM189.0 292.9h0.85v0.85h-0.85zM184.6 285.8h0.85v0.85h-0.85zM185.6 290.7h0.85v0.85h-0.85zM183.5 291.8h0.85v0.85h-0.85zM187.2 291.9h0.85v0.85h-0.85zM189.2 287.4h0.85v0.85h-0.85zM180.1 284.5h0.85v0.85h-0.85zM187.4 290.9h0.85v0.85h-0.85zM190.5 285.6h0.85v0.85h-0.85zM191.5 292.7h0.85v0.85h-0.85zM188.1 286.4h0.85v0.85h-0.85zM186.6 291.4h0.85v0.85h-0.85zM192.2 284.8h0.85v0.85h-0.85zM191.2 286.5h0.85v0.85h-0.85zM184.5 293.0h0.85v0.85h-0.85zM193.9 285.8h0.85v0.85h-0.85zM189.5 290.4h0.85v0.85h-0.85zM185.2 287.4h0.85v0.85h-0.85zM193.0 281.3h0.85v0.85h-0.85zM191.0 291.6h0.85v0.85h-0.85zM192.0 283.0h0.85v0.85h-0.85zM190.9 284.9h0.85v0.85h-0.85zM192.4 291.2h0.85v0.85h-0.85zM190.3 285.3h0.85v0.85h-0.85zM185.5 291.5h0.85v0.85h-0.85zM183.6 289.8h0.85v0.85h-0.85zM192.1 287.5h0.85v0.85h-0.85zM203.4 290.1h0.85v0.85h-0.85zM201.9 281.3h0.85v0.85h-0.85zM175.5 291.0h0.85v0.85h-0.85zM192.8 287.4h0.85v0.85h-0.85zM188.7 280.4h0.85v0.85h-0.85zM185.2 283.6h0.85v0.85h-0.85zM187.7 291.8h0.85v0.85h-0.85zM189.3 289.9h0.85v0.85h-0.85zM184.8 286.1h0.85v0.85h-0.85zM189.7 287.2h0.85v0.85h-0.85zM196.6 285.5h0.85v0.85h-0.85zM200.3 285.4h0.85v0.85h-0.85zM195.4 285.8h0.85v0.85h-0.85zM198.9 289.9h0.85v0.85h-0.85zM191.4 291.6h0.85v0.85h-0.85zM185.2 283.6h0.85v0.85h-0.85zM176.8 292.1h0.85v0.85h-0.85zM184.8 285.4h0.85v0.85h-0.85zM188.8 296.5h0.85v0.85h-0.85zM178.6 288.2h0.85v0.85h-0.85zM186.6 290.3h0.85v0.85h-0.85zM178.2 285.5h0.85v0.85h-0.85zM194.0 295.3h0.85v0.85h-0.85zM198.6 285.8h0.85v0.85h-0.85zM189.3 287.9h0.85v0.85h-0.85zM180.7 281.5h0.85v0.85h-0.85zM193.5 289.8h0.85v0.85h-0.85zM188.1 293.3h0.85v0.85h-0.85zM183.0 289.9h0.85v0.85h-0.85zM189.1 288.1h0.85v0.85h-0.85zM191.9 289.3h0.85v0.85h-0.85zM190.6 289.6h0.85v0.85h-0.85zM200.6 288.2h0.85v0.85h-0.85zM195.1 291.5h0.85v0.85h-0.85zM186.9 291.4h0.85v0.85h-0.85zM183.9 292.6h0.85v0.85h-0.85zM184.1 285.8h0.85v0.85h-0.85zM190.9 292.0h0.85v0.85h-0.85zM194.4 292.6h0.85v0.85h-0.85zM187.8 284.2h0.85v0.85h-0.85zM192.3 289.9h0.85v0.85h-0.85zM183.3 291.7h0.85v0.85h-0.85zM190.2 284.4h0.85v0.85h-0.85zM191.6 283.1h0.85v0.85h-0.85zM183.7 289.4h0.85v0.85h-0.85zM179.7 287.5h0.85v0.85h-0.85zM180.9 290.5h0.85v0.85h-0.85zM184.6 288.6h0.85v0.85h-0.85zM180.0 285.9h0.85v0.85h-0.85zM194.7 290.8h0.85v0.85h-0.85zM178.0 291.0h0.85v0.85h-0.85zM194.4 287.3h0.85v0.85h-0.85zM197.5 284.8h0.85v0.85h-0.85zM188.5 292.9h0.85v0.85h-0.85zM196.9 294.4h0.85v0.85h-0.85zM182.4 280.2h0.85v0.85h-0.85zM191.3 282.6h0.85v0.85h-0.85zM188.2 282.9h0.85v0.85h-0.85zM195.4 292.3h0.85v0.85h-0.85zM192.3 288.7h0.85v0.85h-0.85zM189.3 287.1h0.85v0.85h-0.85zM191.3 289.6h0.85v0.85h-0.85zM191.8 286.8h0.85v0.85h-0.85zM200.4 290.7h0.85v0.85h-0.85zM197.4 294.7h0.85v0.85h-0.85zM183.7 280.7h0.85v0.85h-0.85zM196.5 287.5h0.85v0.85h-0.85zM189.5 287.3h0.85v0.85h-0.85zM189.8 283.4h0.85v0.85h-0.85zM188.4 286.3h0.85v0.85h-0.85zM188.9 278.6h0.85v0.85h-0.85zM193.9 290.2h0.85v0.85h-0.85zM178.6 284.2h0.85v0.85h-0.85zM189.2 290.9h0.85v0.85h-0.85zM189.0 294.0h0.85v0.85h-0.85zM189.1 284.2h0.85v0.85h-0.85zM184.9 291.0h0.85v0.85h-0.85zM185.3 291.4h0.85v0.85h-0.85zM195.1 291.4h0.85v0.85h-0.85zM195.1 288.2h0.85v0.85h-0.85zM188.9 285.8h0.85v0.85h-0.85zM185.3 281.4h0.85v0.85h-0.85zM185.7 283.5h0.85v0.85h-0.85zM180.4 288.0h0.85v0.85h-0.85zM191.7 287.2h0.85v0.85h-0.85zM197.2 293.1h0.85v0.85h-0.85zM195.3 286.5h0.85v0.85h-0.85zM180.0 289.7h0.85v0.85h-0.85zM190.8 291.5h0.85v0.85h-0.85zM191.5 293.8h0.85v0.85h-0.85zM187.3 290.9h0.85v0.85h-0.85zM183.6 278.1h0.85v0.85h-0.85zM186.3 294.2h0.85v0.85h-0.85zM178.9 291.5h0.85v0.85h-0.85zM184.9 286.2h0.85v0.85h-0.85zM189.3 289.2h0.85v0.85h-0.85zM183.2 288.2h0.85v0.85h-0.85zM191.7 292.0h0.85v0.85h-0.85zM184.5 294.3h0.85v0.85h-0.85zM181.0 288.2h0.85v0.85h-0.85zM177.8 288.7h0.85v0.85h-0.85zM192.3 283.9h0.85v0.85h-0.85zM179.5 288.1h0.85v0.85h-0.85zM192.8 285.4h0.85v0.85h-0.85zM187.4 277.6h0.85v0.85h-0.85zM184.8 288.5h0.85v0.85h-0.85zM189.9 295.0h0.85v0.85h-0.85zM182.2 278.2h0.85v0.85h-0.85zM191.7 286.1h0.85v0.85h-0.85zM190.7 291.5h0.85v0.85h-0.85zM192.6 294.7h0.85v0.85h-0.85zM197.1 282.2h0.85v0.85h-0.85zM188.6 296.6h0.85v0.85h-0.85zM186.6 292.1h0.85v0.85h-0.85zM188.7 286.5h0.85v0.85h-0.85zM198.5 293.6h0.85v0.85h-0.85zM187.5 291.9h0.85v0.85h-0.85zM181.1 284.5h0.85v0.85h-0.85zM194.4 289.0h0.85v0.85h-0.85zM182.6 289.5h0.85v0.85h-0.85zM191.0 293.8h0.85v0.85h-0.85zM194.7 287.8h0.85v0.85h-0.85zM186.1 287.4h0.85v0.85h-0.85zM187.6 294.2h0.85v0.85h-0.85zM198.5 294.9h0.85v0.85h-0.85zM191.3 287.5h0.85v0.85h-0.85zM194.4 287.4h0.85v0.85h-0.85zM190.4 281.5h0.85v0.85h-0.85zM186.5 294.0h0.85v0.85h-0.85zM182.8 281.5h0.85v0.85h-0.85zM188.0 295.1h0.85v0.85h-0.85zM197.7 287.7h0.85v0.85h-0.85zM186.1 287.5h0.85v0.85h-0.85zM183.4 287.9h0.85v0.85h-0.85zM187.2 282.0h0.85v0.85h-0.85zM185.5 286.9h0.85v0.85h-0.85zM183.8 283.1h0.85v0.85h-0.85zM194.4 296.7h0.85v0.85h-0.85zM187.3 286.4h0.85v0.85h-0.85zM192.0 287.7h0.85v0.85h-0.85zM184.3 293.6h0.85v0.85h-0.85zM182.8 284.6h0.85v0.85h-0.85zM185.0 284.2h0.85v0.85h-0.85zM187.6 290.5h0.85v0.85h-0.85zM197.6 292.0h0.85v0.85h-0.85zM189.2 283.1h0.85v0.85h-0.85zM188.6 284.4h0.85v0.85h-0.85zM188.4 292.3h0.85v0.85h-0.85zM190.2 287.6h0.85v0.85h-0.85zM184.5 287.7h0.85v0.85h-0.85zM189.7 284.5h0.85v0.85h-0.85zM186.0 291.6h0.85v0.85h-0.85zM179.0 285.4h0.85v0.85h-0.85zM182.0 294.0h0.85v0.85h-0.85zM192.6 290.8h0.85v0.85h-0.85zM191.4 289.7h0.85v0.85h-0.85zM190.8 281.9h0.85v0.85h-0.85zM190.5 290.9h0.85v0.85h-0.85zM180.4 290.8h0.85v0.85h-0.85zM193.0 282.4h0.85v0.85h-0.85zM186.2 286.7h0.85v0.85h-0.85zM185.8 289.6h0.85v0.85h-0.85zM181.3 286.6h0.85v0.85h-0.85zM190.4 291.5h0.85v0.85h-0.85zM189.3 287.3h0.85v0.85h-0.85zM193.1 280.5h0.85v0.85h-0.85zM194.6 287.6h0.85v0.85h-0.85zM181.5 285.7h0.85v0.85h-0.85zM178.0 278.7h0.85v0.85h-0.85zM187.0 284.9h0.85v0.85h-0.85zM193.4 285.1h0.85v0.85h-0.85zM181.2 283.5h0.85v0.85h-0.85zM199.3 289.5h0.85v0.85h-0.85zM185.3 283.8h0.85v0.85h-0.85zM182.4 286.9h0.85v0.85h-0.85zM191.6 293.4h0.85v0.85h-0.85zM195.9 290.2h0.85v0.85h-0.85zM185.0 284.3h0.85v0.85h-0.85zM175.1 282.6h0.85v0.85h-0.85zM191.5 287.2h0.85v0.85h-0.85zM191.2 282.9h0.85v0.85h-0.85zM194.4 290.1h0.85v0.85h-0.85zM189.3 290.0h0.85v0.85h-0.85zM175.6 284.6h0.85v0.85h-0.85zM183.6 295.3h0.85v0.85h-0.85zM187.9 286.1h0.85v0.85h-0.85zM194.1 284.5h0.85v0.85h-0.85zM197.5 286.3h0.85v0.85h-0.85zM188.6 284.5h0.85v0.85h-0.85zM193.8 279.8h0.85v0.85h-0.85zM193.1 285.3h0.85v0.85h-0.85zM189.3 283.6h0.85v0.85h-0.85zM190.4 289.2h0.85v0.85h-0.85zM192.5 290.0h0.85v0.85h-0.85zM192.7 292.8h0.85v0.85h-0.85zM186.7 283.2h0.85v0.85h-0.85zM181.3 290.3h0.85v0.85h-0.85zM186.7 292.4h0.85v0.85h-0.85zM189.3 284.1h0.85v0.85h-0.85zM194.4 296.9h0.85v0.85h-0.85zM187.9 284.3h0.85v0.85h-0.85zM183.9 291.5h0.85v0.85h-0.85zM185.5 286.2h0.85v0.85h-0.85zM193.1 288.8h0.85v0.85h-0.85zM189.7 286.1h0.85v0.85h-0.85zM185.2 288.6h0.85v0.85h-0.85zM189.9 290.9h0.85v0.85h-0.85zM186.0 289.4h0.85v0.85h-0.85zM191.9 288.9h0.85v0.85h-0.85zM192.4 292.9h0.85v0.85h-0.85zM190.2 288.7h0.85v0.85h-0.85zM183.2 289.1h0.85v0.85h-0.85zM188.4 287.0h0.85v0.85h-0.85zM184.0 290.2h0.85v0.85h-0.85zM204.4 291.7h0.85v0.85h-0.85zM189.5 290.2h0.85v0.85h-0.85zM185.4 288.3h0.85v0.85h-0.85zM185.0 285.2h0.85v0.85h-0.85zM190.4 289.4h0.85v0.85h-0.85zM188.3 284.9h0.85v0.85h-0.85zM190.6 283.9h0.85v0.85h-0.85zM193.6 287.3h0.85v0.85h-0.85zM189.0 291.6h0.85v0.85h-0.85zM192.3 283.3h0.85v0.85h-0.85zM187.5 289.7h0.85v0.85h-0.85zM182.5 277.6h0.85v0.85h-0.85zM188.6 288.1h0.85v0.85h-0.85zM191.6 288.9h0.85v0.85h-0.85zM189.8 289.4h0.85v0.85h-0.85zM197.2 291.2h0.85v0.85h-0.85zM192.3 287.0h0.85v0.85h-0.85zM195.7 288.2h0.85v0.85h-0.85zM193.4 280.0h0.85v0.85h-0.85zM190.5 288.1h0.85v0.85h-0.85zM186.2 293.4h0.85v0.85h-0.85zM191.4 288.0h0.85v0.85h-0.85zM185.9 295.8h0.85v0.85h-0.85zM193.5 291.5h0.85v0.85h-0.85zM184.4 293.2h0.85v0.85h-0.85zM192.3 287.5h0.85v0.85h-0.85zM188.4 281.5h0.85v0.85h-0.85zM192.9 284.2h0.85v0.85h-0.85zM194.1 287.0h0.85v0.85h-0.85zM185.3 289.4h0.85v0.85h-0.85zM190.3 283.8h0.85v0.85h-0.85zM188.6 290.8h0.85v0.85h-0.85zM187.5 282.6h0.85v0.85h-0.85zM187.5 284.2h0.85v0.85h-0.85zM185.5 288.1h0.85v0.85h-0.85zM188.7 287.4h0.85v0.85h-0.85zM179.1 288.7h0.85v0.85h-0.85zM187.8 286.5h0.85v0.85h-0.85zM189.9 296.4h0.85v0.85h-0.85zM181.3 280.8h0.85v0.85h-0.85zM193.6 285.5h0.85v0.85h-0.85zM196.8 285.0h0.85v0.85h-0.85zM186.1 291.4h0.85v0.85h-0.85zM194.4 290.7h0.85v0.85h-0.85zM191.7 288.0h0.85v0.85h-0.85zM186.4 287.2h0.85v0.85h-0.85zM196.6 292.0h0.85v0.85h-0.85zM189.1 289.6h0.85v0.85h-0.85zM194.0 293.7h0.85v0.85h-0.85zM188.2 287.9h0.85v0.85h-0.85zM190.4 293.7h0.85v0.85h-0.85zM179.8 290.8h0.85v0.85h-0.85zM180.6 283.0h0.85v0.85h-0.85zM185.2 287.3h0.85v0.85h-0.85zM190.1 289.9h0.85v0.85h-0.85zM190.3 286.6h0.85v0.85h-0.85zM204.5 291.5h0.85v0.85h-0.85zM193.0 297.1h0.85v0.85h-0.85zM194.8 291.3h0.85v0.85h-0.85zM190.9 296.2h0.85v0.85h-0.85zM182.6 283.7h0.85v0.85h-0.85zM189.9 280.0h0.85v0.85h-0.85zM184.4 292.5h0.85v0.85h-0.85zM186.3 288.7h0.85v0.85h-0.85zM193.1 283.9h0.85v0.85h-0.85zM190.6 285.9h0.85v0.85h-0.85zM182.5 286.5h0.85v0.85h-0.85zM188.7 286.6h0.85v0.85h-0.85zM185.1 291.8h0.85v0.85h-0.85zM195.9 291.3h0.85v0.85h-0.85zM188.4 283.9h0.85v0.85h-0.85zM184.1 283.2h0.85v0.85h-0.85zM190.2 292.2h0.85v0.85h-0.85zM194.4 288.8h0.85v0.85h-0.85zM186.7 288.8h0.85v0.85h-0.85zM189.7 290.8h0.85v0.85h-0.85zM197.8 286.4h0.85v0.85h-0.85zM201.4 281.0h0.85v0.85h-0.85zM178.4 281.0h0.85v0.85h-0.85zM182.9 286.7h0.85v0.85h-0.85zM201.3 286.7h0.85v0.85h-0.85zM195.6 287.5h0.85v0.85h-0.85zM189.9 284.2h0.85v0.85h-0.85zM202.5 289.6h0.85v0.85h-0.85zM185.3 297.3h0.85v0.85h-0.85zM190.1 290.1h0.85v0.85h-0.85zM188.1 284.8h0.85v0.85h-0.85zM180.5 286.7h0.85v0.85h-0.85zM198.6 291.0h0.85v0.85h-0.85zM188.0 292.6h0.85v0.85h-0.85zM183.5 293.4h0.85v0.85h-0.85zM188.9 284.9h0.85v0.85h-0.85zM193.0 290.8h0.85v0.85h-0.85zM187.0 289.0h0.85v0.85h-0.85zM194.8 294.7h0.85v0.85h-0.85zM184.0 277.0h0.85v0.85h-0.85zM201.2 288.5h0.85v0.85h-0.85zM186.5 289.8h0.85v0.85h-0.85zM186.5 292.3h0.85v0.85h-0.85zM181.6 286.7h0.85v0.85h-0.85zM181.5 293.8h0.85v0.85h-0.85zM187.5 292.7h0.85v0.85h-0.85zM197.2 284.2h0.85v0.85h-0.85zM187.7 291.1h0.85v0.85h-0.85zM189.3 287.8h0.85v0.85h-0.85zM194.0 292.6h0.85v0.85h-0.85zM185.5 287.4h0.85v0.85h-0.85zM192.9 289.6h0.85v0.85h-0.85zM189.8 283.8h0.85v0.85h-0.85zM199.4 288.5h0.85v0.85h-0.85zM190.6 288.3h0.85v0.85h-0.85zM189.4 289.0h0.85v0.85h-0.85zM184.0 289.3h0.85v0.85h-0.85zM196.2 290.7h0.85v0.85h-0.85zM193.3 290.7h0.85v0.85h-0.85zM189.2 295.8h0.85v0.85h-0.85zM184.9 289.5h0.85v0.85h-0.85zM195.1 290.1h0.85v0.85h-0.85zM182.7 283.2h0.85v0.85h-0.85zM198.3 285.3h0.85v0.85h-0.85zM189.1 290.5h0.85v0.85h-0.85zM189.6 281.0h0.85v0.85h-0.85zM177.7 286.7h0.85v0.85h-0.85zM184.4 286.7h0.85v0.85h-0.85zM189.5 289.0h0.85v0.85h-0.85zM181.0 280.5h0.85v0.85h-0.85zM194.6 286.3h0.85v0.85h-0.85zM182.0 279.3h0.85v0.85h-0.85zM192.2 283.4h0.85v0.85h-0.85zM182.8 290.2h0.85v0.85h-0.85zM190.8 290.8h0.85v0.85h-0.85zM181.5 275.7h0.85v0.85h-0.85zM183.1 286.4h0.85v0.85h-0.85zM185.1 291.6h0.85v0.85h-0.85zM191.2 284.2h0.85v0.85h-0.85zM192.4 288.0h0.85v0.85h-0.85zM186.1 292.6h0.85v0.85h-0.85zM179.0 291.5h0.85v0.85h-0.85zM195.5 280.5h0.85v0.85h-0.85zM187.9 287.5h0.85v0.85h-0.85zM182.2 285.2h0.85v0.85h-0.85zM184.2 288.1h0.85v0.85h-0.85zM185.7 279.1h0.85v0.85h-0.85zM196.1 292.8h0.85v0.85h-0.85zM184.0 291.4h0.85v0.85h-0.85zM201.1 283.1h0.85v0.85h-0.85zM186.5 285.9h0.85v0.85h-0.85zM192.3 287.4h0.85v0.85h-0.85zM180.6 292.6h0.85v0.85h-0.85zM187.1 291.1h0.85v0.85h-0.85zM202.7 286.7h0.85v0.85h-0.85zM186.5 291.8h0.85v0.85h-0.85zM188.4 290.4h0.85v0.85h-0.85zM192.8 290.1h0.85v0.85h-0.85zM189.8 290.0h0.85v0.85h-0.85zM179.2 286.2h0.85v0.85h-0.85zM193.5 283.8h0.85v0.85h-0.85zM189.3 287.9h0.85v0.85h-0.85zM193.3 290.1h0.85v0.85h-0.85zM184.3 288.2h0.85v0.85h-0.85zM187.2 287.7h0.85v0.85h-0.85zM197.0 296.2h0.85v0.85h-0.85zM185.0 282.6h0.85v0.85h-0.85zM190.3 289.5h0.85v0.85h-0.85zM189.2 285.7h0.85v0.85h-0.85zM193.1 295.9h0.85v0.85h-0.85zM190.3 287.5h0.85v0.85h-0.85zM196.2 287.8h0.85v0.85h-0.85zM186.9 289.4h0.85v0.85h-0.85zM175.3 294.7h0.85v0.85h-0.85zM188.4 290.4h0.85v0.85h-0.85zM190.9 290.2h0.85v0.85h-0.85zM181.0 294.8h0.85v0.85h-0.85zM192.5 289.9h0.85v0.85h-0.85zM207.9 285.0h0.85v0.85h-0.85zM193.5 288.4h0.85v0.85h-0.85zM180.0 295.4h0.85v0.85h-0.85zM179.7 287.9h0.85v0.85h-0.85zM188.5 289.0h0.85v0.85h-0.85zM183.4 293.4h0.85v0.85h-0.85zM190.6 283.2h0.85v0.85h-0.85zM181.7 288.7h0.85v0.85h-0.85zM182.1 289.4h0.85v0.85h-0.85zM191.0 286.1h0.85v0.85h-0.85zM177.4 281.7h0.85v0.85h-0.85zM191.2 286.4h0.85v0.85h-0.85zM200.2 287.7h0.85v0.85h-0.85zM191.3 291.4h0.85v0.85h-0.85zM189.6 289.7h0.85v0.85h-0.85zM195.1 288.4h0.85v0.85h-0.85zM191.1 287.0h0.85v0.85h-0.85zM201.1 290.3h0.85v0.85h-0.85zM194.1 276.5h0.85v0.85h-0.85zM186.1 283.3h0.85v0.85h-0.85zM189.3 286.5h0.85v0.85h-0.85zM182.7 286.5h0.85v0.85h-0.85zM193.9 293.3h0.85v0.85h-0.85zM185.8 292.4h0.85v0.85h-0.85zM185.3 290.5h0.85v0.85h-0.85zM183.9 292.1h0.85v0.85h-0.85zM203.0 288.6h0.85v0.85h-0.85zM196.4 283.1h0.85v0.85h-0.85zM188.6 290.4h0.85v0.85h-0.85zM179.3 287.2h0.85v0.85h-0.85zM184.3 292.8h0.85v0.85h-0.85zM182.5 289.0h0.85v0.85h-0.85zM177.0 285.4h0.85v0.85h-0.85zM196.3 288.6h0.85v0.85h-0.85zM181.2 289.6h0.85v0.85h-0.85zM194.7 290.7h0.85v0.85h-0.85zM195.0 283.0h0.85v0.85h-0.85zM200.0 292.4h0.85v0.85h-0.85zM176.4 294.8h0.85v0.85h-0.85zM186.2 290.2h0.85v0.85h-0.85z" fill="#000" opacity="0.6"/>
<path d="M185.4 289.1h0.85v0.85h-0.85zM180.4 288.4h0.85v0.85h-0.85zM194.3 288.8h0.85v0.85h-0.85zM200.6 281.6h0.85v0.85h-0.85zM185.7 282.6h0.85v0.85h-0.85zM177.2 285.5h0.85v0.85h-0.85zM187.2 288.8h0.85v0.85h-0.85zM193.6 277.7h0.85v0.85h-0.85zM187.0 283.1h0.85v0.85h-0.85zM179.8 293.7h0.85v0.85h-0.85zM182.8 275.8h0.85v0.85h-0.85zM188.1 284.9h0.85v0.85h-0.85zM173.3 281.4h0.85v0.85h-0.85zM178.7 286.4h0.85v0.85h-0.85zM180.7 286.9h0.85v0.85h-0.85zM203.4 282.1h0.85v0.85h-0.85zM176.9 285.1h0.85v0.85h-0.85zM196.0 282.6h0.85v0.85h-0.85zM199.3 279.3h0.85v0.85h-0.85zM174.7 286.2h0.85v0.85h-0.85zM176.4 283.1h0.85v0.85h-0.85zM189.5 290.5h0.85v0.85h-0.85zM186.1 285.0h0.85v0.85h-0.85zM198.4 288.7h0.85v0.85h-0.85zM182.6 293.2h0.85v0.85h-0.85zM176.0 287.4h0.85v0.85h-0.85zM191.6 286.4h0.85v0.85h-0.85zM179.3 288.4h0.85v0.85h-0.85zM179.6 283.2h0.85v0.85h-0.85zM174.8 293.7h0.85v0.85h-0.85zM179.5 292.9h0.85v0.85h-0.85zM188.8 285.1h0.85v0.85h-0.85zM191.7 288.0h0.85v0.85h-0.85zM186.3 278.9h0.85v0.85h-0.85zM185.7 291.4h0.85v0.85h-0.85zM189.9 292.0h0.85v0.85h-0.85zM199.9 288.8h0.85v0.85h-0.85zM204.7 278.2h0.85v0.85h-0.85zM182.6 272.6h0.85v0.85h-0.85zM193.2 287.0h0.85v0.85h-0.85zM201.9 284.5h0.85v0.85h-0.85zM164.7 293.5h0.85v0.85h-0.85zM171.6 279.5h0.85v0.85h-0.85zM183.2 290.0h0.85v0.85h-0.85zM179.9 287.5h0.85v0.85h-0.85zM166.2 296.0h0.85v0.85h-0.85zM184.3 287.2h0.85v0.85h-0.85zM190.9 287.4h0.85v0.85h-0.85zM187.0 281.4h0.85v0.85h-0.85zM183.9 288.9h0.85v0.85h-0.85zM195.4 285.8h0.85v0.85h-0.85zM185.9 288.4h0.85v0.85h-0.85zM190.7 287.6h0.85v0.85h-0.85zM182.5 283.7h0.85v0.85h-0.85zM196.2 288.1h0.85v0.85h-0.85zM193.8 291.2h0.85v0.85h-0.85zM186.5 280.9h0.85v0.85h-0.85zM196.4 286.0h0.85v0.85h-0.85zM185.5 292.1h0.85v0.85h-0.85zM195.2 287.8h0.85v0.85h-0.85zM190.7 280.9h0.85v0.85h-0.85zM192.5 287.3h0.85v0.85h-0.85zM185.3 290.3h0.85v0.85h-0.85zM187.0 287.9h0.85v0.85h-0.85zM196.6 283.4h0.85v0.85h-0.85zM195.1 286.2h0.85v0.85h-0.85zM196.8 281.8h0.85v0.85h-0.85zM189.2 277.7h0.85v0.85h-0.85zM180.6 286.6h0.85v0.85h-0.85zM189.9 297.4h0.85v0.85h-0.85zM203.4 279.1h0.85v0.85h-0.85zM177.4 293.4h0.85v0.85h-0.85zM189.4 279.0h0.85v0.85h-0.85zM189.9 280.3h0.85v0.85h-0.85zM176.4 279.6h0.85v0.85h-0.85zM188.8 285.9h0.85v0.85h-0.85zM210.1 284.0h0.85v0.85h-0.85zM183.5 285.1h0.85v0.85h-0.85zM189.2 284.8h0.85v0.85h-0.85zM199.5 284.9h0.85v0.85h-0.85zM190.6 287.7h0.85v0.85h-0.85zM176.4 281.1h0.85v0.85h-0.85zM184.5 273.9h0.85v0.85h-0.85zM185.2 286.9h0.85v0.85h-0.85zM186.4 286.1h0.85v0.85h-0.85zM188.5 284.6h0.85v0.85h-0.85zM191.4 277.6h0.85v0.85h-0.85zM194.1 281.7h0.85v0.85h-0.85zM189.9 284.0h0.85v0.85h-0.85zM180.8 282.2h0.85v0.85h-0.85zM198.4 280.5h0.85v0.85h-0.85zM173.0 287.7h0.85v0.85h-0.85zM187.6 286.7h0.85v0.85h-0.85zM175.4 282.9h0.85v0.85h-0.85zM194.0 280.8h0.85v0.85h-0.85zM191.1 290.5h0.85v0.85h-0.85zM186.3 279.8h0.85v0.85h-0.85zM204.0 287.2h0.85v0.85h-0.85zM187.0 284.4h0.85v0.85h-0.85zM175.6 285.0h0.85v0.85h-0.85zM187.0 281.9h0.85v0.85h-0.85zM186.2 292.8h0.85v0.85h-0.85zM189.4 286.0h0.85v0.85h-0.85zM195.5 291.5h0.85v0.85h-0.85zM194.0 282.2h0.85v0.85h-0.85zM166.9 290.9h0.85v0.85h-0.85zM185.6 284.5h0.85v0.85h-0.85zM189.9 284.0h0.85v0.85h-0.85zM178.9 296.4h0.85v0.85h-0.85zM169.2 291.1h0.85v0.85h-0.85zM195.1 296.2h0.85v0.85h-0.85zM187.5 289.3h0.85v0.85h-0.85zM175.9 286.7h0.85v0.85h-0.85zM164.1 283.4h0.85v0.85h-0.85zM184.7 285.9h0.85v0.85h-0.85zM180.2 292.9h0.85v0.85h-0.85zM169.2 287.2h0.85v0.85h-0.85zM181.1 286.7h0.85v0.85h-0.85zM185.6 297.2h0.85v0.85h-0.85zM174.4 293.8h0.85v0.85h-0.85zM199.0 285.8h0.85v0.85h-0.85zM178.9 279.7h0.85v0.85h-0.85zM163.5 289.0h0.85v0.85h-0.85zM178.1 296.9h0.85v0.85h-0.85zM188.2 279.1h0.85v0.85h-0.85zM179.9 287.6h0.85v0.85h-0.85zM186.3 281.3h0.85v0.85h-0.85zM182.2 284.0h0.85v0.85h-0.85zM189.8 288.0h0.85v0.85h-0.85zM187.3 283.3h0.85v0.85h-0.85zM192.9 283.4h0.85v0.85h-0.85zM176.7 284.2h0.85v0.85h-0.85zM181.8 284.8h0.85v0.85h-0.85zM165.8 293.9h0.85v0.85h-0.85zM191.2 293.7h0.85v0.85h-0.85zM181.1 290.6h0.85v0.85h-0.85zM187.0 286.7h0.85v0.85h-0.85zM202.9 283.3h0.85v0.85h-0.85zM190.7 277.0h0.85v0.85h-0.85zM190.6 285.6h0.85v0.85h-0.85zM174.9 283.3h0.85v0.85h-0.85zM163.9 280.7h0.85v0.85h-0.85zM186.7 272.1h0.85v0.85h-0.85zM195.8 291.8h0.85v0.85h-0.85zM177.5 278.4h0.85v0.85h-0.85zM171.1 279.5h0.85v0.85h-0.85zM173.8 290.6h0.85v0.85h-0.85zM197.4 281.3h0.85v0.85h-0.85zM182.3 290.2h0.85v0.85h-0.85zM178.5 293.3h0.85v0.85h-0.85zM206.4 286.2h0.85v0.85h-0.85zM176.8 289.8h0.85v0.85h-0.85zM188.4 282.4h0.85v0.85h-0.85zM183.6 287.0h0.85v0.85h-0.85zM190.0 292.8h0.85v0.85h-0.85zM180.2 279.4h0.85v0.85h-0.85zM168.8 296.7h0.85v0.85h-0.85zM180.8 284.3h0.85v0.85h-0.85zM209.6 292.6h0.85v0.85h-0.85zM207.4 285.6h0.85v0.85h-0.85zM178.1 283.6h0.85v0.85h-0.85zM191.5 288.8h0.85v0.85h-0.85zM198.5 280.5h0.85v0.85h-0.85zM189.4 289.8h0.85v0.85h-0.85zM194.2 294.8h0.85v0.85h-0.85zM179.7 280.2h0.85v0.85h-0.85zM192.5 285.4h0.85v0.85h-0.85zM179.2 286.0h0.85v0.85h-0.85zM187.1 287.3h0.85v0.85h-0.85zM182.9 289.1h0.85v0.85h-0.85zM214.0 293.0h0.85v0.85h-0.85zM180.2 278.0h0.85v0.85h-0.85zM171.1 275.3h0.85v0.85h-0.85zM196.5 280.4h0.85v0.85h-0.85zM170.7 283.4h0.85v0.85h-0.85zM182.9 279.6h0.85v0.85h-0.85zM179.2 286.4h0.85v0.85h-0.85zM191.4 281.3h0.85v0.85h-0.85zM190.5 287.9h0.85v0.85h-0.85zM190.4 283.5h0.85v0.85h-0.85zM173.3 291.8h0.85v0.85h-0.85zM190.8 282.8h0.85v0.85h-0.85zM177.1 290.3h0.85v0.85h-0.85zM205.1 288.5h0.85v0.85h-0.85zM210.2 288.2h0.85v0.85h-0.85zM188.4 289.1h0.85v0.85h-0.85zM195.8 278.2h0.85v0.85h-0.85zM186.4 293.4h0.85v0.85h-0.85zM169.2 287.8h0.85v0.85h-0.85zM192.4 295.9h0.85v0.85h-0.85zM200.7 286.3h0.85v0.85h-0.85zM205.7 280.4h0.85v0.85h-0.85zM170.9 293.8h0.85v0.85h-0.85zM191.7 280.2h0.85v0.85h-0.85zM195.9 291.3h0.85v0.85h-0.85zM192.3 284.0h0.85v0.85h-0.85zM172.1 277.1h0.85v0.85h-0.85zM182.8 285.6h0.85v0.85h-0.85zM179.8 283.4h0.85v0.85h-0.85zM194.2 280.2h0.85v0.85h-0.85zM177.5 297.4h0.85v0.85h-0.85zM178.6 283.0h0.85v0.85h-0.85zM195.6 276.5h0.85v0.85h-0.85zM201.2 279.4h0.85v0.85h-0.85zM176.6 279.4h0.85v0.85h-0.85zM175.3 282.4h0.85v0.85h-0.85zM194.3 286.1h0.85v0.85h-0.85zM198.8 290.8h0.85v0.85h-0.85zM172.4 286.6h0.85v0.85h-0.85zM178.8 284.1h0.85v0.85h-0.85zM186.2 288.5h0.85v0.85h-0.85zM189.3 274.7h0.85v0.85h-0.85zM183.4 283.9h0.85v0.85h-0.85zM203.6 285.1h0.85v0.85h-0.85zM184.6 286.5h0.85v0.85h-0.85zM192.8 280.1h0.85v0.85h-0.85zM183.6 285.8h0.85v0.85h-0.85zM184.7 285.1h0.85v0.85h-0.85zM179.5 286.9h0.85v0.85h-0.85zM171.6 295.4h0.85v0.85h-0.85zM184.8 276.4h0.85v0.85h-0.85zM182.0 291.7h0.85v0.85h-0.85zM182.9 285.6h0.85v0.85h-0.85zM161.9 294.3h0.85v0.85h-0.85zM185.5 275.5h0.85v0.85h-0.85zM180.4 294.5h0.85v0.85h-0.85zM188.8 278.2h0.85v0.85h-0.85zM179.3 287.8h0.85v0.85h-0.85zM205.8 287.8h0.85v0.85h-0.85zM192.3 284.7h0.85v0.85h-0.85zM185.4 280.9h0.85v0.85h-0.85zM171.6 278.9h0.85v0.85h-0.85zM179.0 293.4h0.85v0.85h-0.85zM184.5 293.1h0.85v0.85h-0.85zM192.7 287.3h0.85v0.85h-0.85zM196.3 293.4h0.85v0.85h-0.85zM210.1 294.9h0.85v0.85h-0.85zM187.2 288.6h0.85v0.85h-0.85zM174.7 276.4h0.85v0.85h-0.85zM180.1 286.5h0.85v0.85h-0.85zM179.1 291.6h0.85v0.85h-0.85zM191.0 286.3h0.85v0.85h-0.85zM185.7 297.1h0.85v0.85h-0.85zM205.1 296.1h0.85v0.85h-0.85zM181.3 293.3h0.85v0.85h-0.85zM173.4 276.4h0.85v0.85h-0.85zM202.2 291.4h0.85v0.85h-0.85zM191.8 294.4h0.85v0.85h-0.85zM201.8 288.1h0.85v0.85h-0.85zM187.9 289.9h0.85v0.85h-0.85zM193.6 287.6h0.85v0.85h-0.85zM177.5 283.2h0.85v0.85h-0.85zM191.1 286.3h0.85v0.85h-0.85zM199.5 284.0h0.85v0.85h-0.85zM188.4 286.2h0.85v0.85h-0.85zM197.8 281.6h0.85v0.85h-0.85zM175.5 277.3h0.85v0.85h-0.85zM190.3 288.7h0.85v0.85h-0.85zM192.4 291.3h0.85v0.85h-0.85zM173.0 284.5h0.85v0.85h-0.85zM174.3 293.4h0.85v0.85h-0.85zM193.9 278.6h0.85v0.85h-0.85zM190.6 287.2h0.85v0.85h-0.85zM186.4 290.5h0.85v0.85h-0.85zM179.1 284.9h0.85v0.85h-0.85zM178.5 282.9h0.85v0.85h-0.85zM174.7 293.0h0.85v0.85h-0.85zM191.1 285.3h0.85v0.85h-0.85zM185.5 287.8h0.85v0.85h-0.85zM191.8 296.1h0.85v0.85h-0.85zM182.2 273.6h0.85v0.85h-0.85zM182.1 286.5h0.85v0.85h-0.85zM179.5 294.7h0.85v0.85h-0.85zM180.7 288.4h0.85v0.85h-0.85zM177.1 290.8h0.85v0.85h-0.85zM178.3 291.2h0.85v0.85h-0.85zM186.6 287.5h0.85v0.85h-0.85zM188.4 277.8h0.85v0.85h-0.85zM180.7 287.8h0.85v0.85h-0.85zM181.4 293.2h0.85v0.85h-0.85zM194.0 282.6h0.85v0.85h-0.85zM197.1 285.4h0.85v0.85h-0.85zM190.8 293.4h0.85v0.85h-0.85zM174.1 282.1h0.85v0.85h-0.85zM184.7 285.3h0.85v0.85h-0.85zM168.4 290.3h0.85v0.85h-0.85zM186.9 287.7h0.85v0.85h-0.85zM188.4 290.6h0.85v0.85h-0.85zM177.0 288.4h0.85v0.85h-0.85zM180.9 284.0h0.85v0.85h-0.85zM176.5 293.3h0.85v0.85h-0.85zM160.7 282.7h0.85v0.85h-0.85zM192.1 284.8h0.85v0.85h-0.85zM178.7 292.4h0.85v0.85h-0.85zM175.8 285.1h0.85v0.85h-0.85zM189.3 283.7h0.85v0.85h-0.85zM180.0 287.0h0.85v0.85h-0.85zM195.0 281.5h0.85v0.85h-0.85zM190.5 286.3h0.85v0.85h-0.85zM181.7 279.3h0.85v0.85h-0.85zM202.6 289.7h0.85v0.85h-0.85zM187.9 284.9h0.85v0.85h-0.85zM201.4 283.0h0.85v0.85h-0.85zM175.1 282.3h0.85v0.85h-0.85zM184.7 288.4h0.85v0.85h-0.85zM165.2 288.2h0.85v0.85h-0.85zM187.9 292.5h0.85v0.85h-0.85zM181.9 294.8h0.85v0.85h-0.85zM205.3 283.6h0.85v0.85h-0.85zM182.6 292.1h0.85v0.85h-0.85zM197.3 286.6h0.85v0.85h-0.85zM196.7 278.1h0.85v0.85h-0.85zM194.6 289.1h0.85v0.85h-0.85zM194.2 289.3h0.85v0.85h-0.85zM192.0 284.2h0.85v0.85h-0.85zM199.1 275.2h0.85v0.85h-0.85zM187.8 283.1h0.85v0.85h-0.85zM204.7 280.4h0.85v0.85h-0.85zM186.5 286.5h0.85v0.85h-0.85zM193.3 286.6h0.85v0.85h-0.85z" fill="#000" opacity="0.4"/>
<line x1="192.8" y1="243.6" x2="192.8" y2="333.6" stroke="#454545" stroke-width="1.1" />
<line x1="154.5" y1="297.3" x2="245" y2="297.3" stroke="#454545" stroke-width="1.1" />
<line x1="151.9" y1="333.0" x2="154.5" y2="333.0" stroke="#222" stroke-width="0.9" />
<line x1="153.0" y1="329.3188331958805" x2="154.5" y2="329.3188331958805" stroke="#333" stroke-width="0.55" />
<line x1="153.0" y1="327.165488656571" x2="154.5" y2="327.165488656571" stroke="#333" stroke-width="0.55" />
<line x1="153.0" y1="325.63766639176094" x2="154.5" y2="325.63766639176094" stroke="#333" stroke-width="0.55" />
<line x1="153.0" y1="324.4525953755481" x2="154.5" y2="324.4525953755481" stroke="#333" stroke-width="0.55" />
<line x1="153.0" y1="323.48432185245144" x2="154.5" y2="323.48432185245144" stroke="#333" stroke-width="0.55" />
<line x1="153.0" y1="322.66565825353996" x2="154.5" y2="322.66565825353996" stroke="#333" stroke-width="0.55" />
<line x1="153.0" y1="321.95649958764136" x2="154.5" y2="321.95649958764136" stroke="#333" stroke-width="0.55" />
<line x1="153.0" y1="321.33097731314194" x2="154.5" y2="321.33097731314194" stroke="#333" stroke-width="0.55" />
<line x1="151.9" y1="320.7714285714286" x2="154.5" y2="320.7714285714286" stroke="#222" stroke-width="0.9" />
<line x1="153.0" y1="317.0902617673091" x2="154.5" y2="317.0902617673091" stroke="#333" stroke-width="0.55" />
<line x1="153.0" y1="314.9369172279996" x2="154.5" y2="314.9369172279996" stroke="#333" stroke-width="0.55" />
<line x1="153.0" y1="313.40909496318955" x2="154.5" y2="313.40909496318955" stroke="#333" stroke-width="0.55" />
<line x1="153.0" y1="312.22402394697673" x2="154.5" y2="312.22402394697673" stroke="#333" stroke-width="0.55" />
<line x1="153.0" y1="311.25575042388004" x2="154.5" y2="311.25575042388004" stroke="#333" stroke-width="0.55" />
<line x1="153.0" y1="310.43708682496856" x2="154.5" y2="310.43708682496856" stroke="#333" stroke-width="0.55" />
<line x1="153.0" y1="309.72792815906996" x2="154.5" y2="309.72792815906996" stroke="#333" stroke-width="0.55" />
<line x1="153.0" y1="309.10240588457054" x2="154.5" y2="309.10240588457054" stroke="#333" stroke-width="0.55" />
<line x1="151.9" y1="308.54285714285714" x2="154.5" y2="308.54285714285714" stroke="#222" stroke-width="0.9" />
<line x1="153.0" y1="304.8616903387376" x2="154.5" y2="304.8616903387376" stroke="#333" stroke-width="0.55" />
<line x1="153.0" y1="302.7083457994281" x2="154.5" y2="302.7083457994281" stroke="#333" stroke-width="0.55" />
<line x1="153.0" y1="301.1805235346181" x2="154.5" y2="301.1805235346181" stroke="#333" stroke-width="0.55" />
<line x1="153.0" y1="299.9954525184053" x2="154.5" y2="299.9954525184053" stroke="#333" stroke-width="0.55" />
<line x1="153.0" y1="299.0271789953086" x2="154.5" y2="299.0271789953086" stroke="#333" stroke-width="0.55" />
<line x1="153.0" y1="298.2085153963971" x2="154.5" y2="298.2085153963971" stroke="#333" stroke-width="0.55" />
<line x1="153.0" y1="297.4993567304985" x2="154.5" y2="297.4993567304985" stroke="#333" stroke-width="0.55" />
<line x1="153.0" y1="296.87383445599914" x2="154.5" y2="296.87383445599914" stroke="#333" stroke-width="0.55" />
<line x1="151.9" y1="296.3142857142857" x2="154.5" y2="296.3142857142857" stroke="#222" stroke-width="0.9" />
<line x1="153.0" y1="292.63311891016616" x2="154.5" y2="292.63311891016616" stroke="#333" stroke-width="0.55" />
<line x1="153.0" y1="290.47977437085666" x2="154.5" y2="290.47977437085666" stroke="#333" stroke-width="0.55" />
<line x1="153.0" y1="288.95195210604663" x2="154.5" y2="288.95195210604663" stroke="#333" stroke-width="0.55" />
<line x1="153.0" y1="287.7668810898338" x2="154.5" y2="287.7668810898338" stroke="#333" stroke-width="0.55" />
<line x1="153.0" y1="286.79860756673713" x2="154.5" y2="286.79860756673713" stroke="#333" stroke-width="0.55" />
<line x1="153.0" y1="285.97994396782565" x2="154.5" y2="285.97994396782565" stroke="#333" stroke-width="0.55" />
<line x1="153.0" y1="285.27078530192705" x2="154.5" y2="285.27078530192705" stroke="#333" stroke-width="0.55" />
<line x1="153.0" y1="284.64526302742763" x2="154.5" y2="284.64526302742763" stroke="#333" stroke-width="0.55" />
<line x1="151.9" y1="284.0857142857143" x2="154.5" y2="284.0857142857143" stroke="#222" stroke-width="0.9" />
<line x1="153.0" y1="280.40454748159476" x2="154.5" y2="280.40454748159476" stroke="#333" stroke-width="0.55" />
<line x1="153.0" y1="278.25120294228526" x2="154.5" y2="278.25120294228526" stroke="#333" stroke-width="0.55" />
<line x1="153.0" y1="276.72338067747523" x2="154.5" y2="276.72338067747523" stroke="#333" stroke-width="0.55" />
<line x1="153.0" y1="275.5383096612624" x2="154.5" y2="275.5383096612624" stroke="#333" stroke-width="0.55" />
<line x1="153.0" y1="274.57003613816573" x2="154.5" y2="274.57003613816573" stroke="#333" stroke-width="0.55" />
<line x1="153.0" y1="273.75137253925425" x2="154.5" y2="273.75137253925425" stroke="#333" stroke-width="0.55" />
<line x1="153.0" y1="273.04221387335565" x2="154.5" y2="273.04221387335565" stroke="#333" stroke-width="0.55" />
<line x1="153.0" y1="272.41669159885623" x2="154.5" y2="272.41669159885623" stroke="#333" stroke-width="0.55" />
<line x1="151.9" y1="271.8571428571429" x2="154.5" y2="271.8571428571429" stroke="#222" stroke-width="0.9" />
<line x1="153.0" y1="268.17597605302336" x2="154.5" y2="268.17597605302336" stroke="#333" stroke-width="0.55" />
<line x1="153.0" y1="266.02263151371386" x2="154.5" y2="266.02263151371386" stroke="#333" stroke-width="0.55" />
<line x1="153.0" y1="264.49480924890383" x2="154.5" y2="264.49480924890383" stroke="#333" stroke-width="0.55" />
<line x1="153.0" y1="263.309738232691" x2="154.5" y2="263.309738232691" stroke="#333" stroke-width="0.55" />
<line x1="153.0" y1="262.34146470959433" x2="154.5" y2="262.34146470959433" stroke="#333" stroke-width="0.55" />
<line x1="153.0" y1="261.52280111068285" x2="154.5" y2="261.52280111068285" stroke="#333" stroke-width="0.55" />
<line x1="153.0" y1="260.81364244478425" x2="154.5" y2="260.81364244478425" stroke="#333" stroke-width="0.55" />
<line x1="153.0" y1="260.18812017028483" x2="154.5" y2="260.18812017028483" stroke="#333" stroke-width="0.55" />
<line x1="151.9" y1="259.62857142857143" x2="154.5" y2="259.62857142857143" stroke="#222" stroke-width="0.9" />
<line x1="153.0" y1="255.9474046244519" x2="154.5" y2="255.9474046244519" stroke="#333" stroke-width="0.55" />
<line x1="153.0" y1="253.7940600851424" x2="154.5" y2="253.7940600851424" stroke="#333" stroke-width="0.55" />
<line x1="153.0" y1="252.26623782033235" x2="154.5" y2="252.26623782033235" stroke="#333" stroke-width="0.55" />
<line x1="153.0" y1="251.08116680411953" x2="154.5" y2="251.08116680411953" stroke="#333" stroke-width="0.55" />
<line x1="153.0" y1="250.11289328102288" x2="154.5" y2="250.11289328102288" stroke="#333" stroke-width="0.55" />
<line x1="153.0" y1="249.2942296821114" x2="154.5" y2="249.2942296821114" stroke="#333" stroke-width="0.55" />
<line x1="153.0" y1="248.58507101621282" x2="154.5" y2="248.58507101621282" stroke="#333" stroke-width="0.55" />
<line x1="153.0" y1="247.9595487417134" x2="154.5" y2="247.9595487417134" stroke="#333" stroke-width="0.55" />
<line x1="151.9" y1="247.4" x2="154.5" y2="247.4" stroke="#222" stroke-width="0.9" />
<line x1="154.2" y1="244.1" x2="154.2" y2="333.6" stroke="#888" stroke-width="0.5" />
<line x1="155.5" y1="333.6" x2="155.5" y2="336.20000000000005" stroke="#222" stroke-width="0.9" />
<line x1="159.17686637561005" y1="333.6" x2="159.17686637561005" y2="335.1" stroke="#333" stroke-width="0.6" />
<line x1="161.32769532550444" y1="333.6" x2="161.32769532550444" y2="335.1" stroke="#333" stroke-width="0.6" />
<line x1="162.85373275122012" y1="333.6" x2="162.85373275122012" y2="335.1" stroke="#333" stroke-width="0.6" />
<line x1="164.03741933867565" y1="333.6" x2="164.03741933867565" y2="335.1" stroke="#333" stroke-width="0.6" />
<line x1="165.0045617011145" y1="333.6" x2="165.0045617011145" y2="335.1" stroke="#333" stroke-width="0.6" />
<line x1="165.822268917317" y1="333.6" x2="165.822268917317" y2="335.1" stroke="#333" stroke-width="0.6" />
<line x1="166.53059912683017" y1="333.6" x2="166.53059912683017" y2="335.1" stroke="#333" stroke-width="0.6" />
<line x1="167.1553906510089" y1="333.6" x2="167.1553906510089" y2="335.1" stroke="#333" stroke-width="0.6" />
<line x1="167.71428571428572" y1="333.6" x2="167.71428571428572" y2="336.20000000000005" stroke="#222" stroke-width="0.9" />
<line x1="171.39115208989577" y1="333.6" x2="171.39115208989577" y2="335.1" stroke="#333" stroke-width="0.6" />
<line x1="173.54198103979016" y1="333.6" x2="173.54198103979016" y2="335.1" stroke="#333" stroke-width="0.6" />
<line x1="175.06801846550584" y1="333.6" x2="175.06801846550584" y2="335.1" stroke="#333" stroke-width="0.6" />
<line x1="176.25170505296137" y1="333.6" x2="176.25170505296137" y2="335.1" stroke="#333" stroke-width="0.6" />
<line x1="177.21884741540023" y1="333.6" x2="177.21884741540023" y2="335.1" stroke="#333" stroke-width="0.6" />
<line x1="178.0365546316027" y1="333.6" x2="178.0365546316027" y2="335.1" stroke="#333" stroke-width="0.6" />
<line x1="178.7448848411159" y1="333.6" x2="178.7448848411159" y2="335.1" stroke="#333" stroke-width="0.6" />
<line x1="179.36967636529462" y1="333.6" x2="179.36967636529462" y2="335.1" stroke="#333" stroke-width="0.6" />
<line x1="179.92857142857142" y1="333.6" x2="179.92857142857142" y2="336.20000000000005" stroke="#222" stroke-width="0.9" />
<line x1="183.60543780418146" y1="333.6" x2="183.60543780418146" y2="335.1" stroke="#333" stroke-width="0.6" />
<line x1="185.75626675407585" y1="333.6" x2="185.75626675407585" y2="335.1" stroke="#333" stroke-width="0.6" />
<line x1="187.28230417979154" y1="333.6" x2="187.28230417979154" y2="335.1" stroke="#333" stroke-width="0.6" />
<line x1="188.46599076724706" y1="333.6" x2="188.46599076724706" y2="335.1" stroke="#333" stroke-width="0.6" />
<line x1="189.43313312968593" y1="333.6" x2="189.43313312968593" y2="335.1" stroke="#333" stroke-width="0.6" />
<line x1="190.2508403458884" y1="333.6" x2="190.2508403458884" y2="335.1" stroke="#333" stroke-width="0.6" />
<line x1="190.95917055540158" y1="333.6" x2="190.95917055540158" y2="335.1" stroke="#333" stroke-width="0.6" />
<line x1="191.58396207958032" y1="333.6" x2="191.58396207958032" y2="335.1" stroke="#333" stroke-width="0.6" />
<line x1="192.14285714285714" y1="333.6" x2="192.14285714285714" y2="336.20000000000005" stroke="#222" stroke-width="0.9" />
<line x1="195.81972351846719" y1="333.6" x2="195.81972351846719" y2="335.1" stroke="#333" stroke-width="0.6" />
<line x1="197.97055246836157" y1="333.6" x2="197.97055246836157" y2="335.1" stroke="#333" stroke-width="0.6" />
<line x1="199.49658989407726" y1="333.6" x2="199.49658989407726" y2="335.1" stroke="#333" stroke-width="0.6" />
<line x1="200.6802764815328" y1="333.6" x2="200.6802764815328" y2="335.1" stroke="#333" stroke-width="0.6" />
<line x1="201.64741884397165" y1="333.6" x2="201.64741884397165" y2="335.1" stroke="#333" stroke-width="0.6" />
<line x1="202.46512606017413" y1="333.6" x2="202.46512606017413" y2="335.1" stroke="#333" stroke-width="0.6" />
<line x1="203.1734562696873" y1="333.6" x2="203.1734562696873" y2="335.1" stroke="#333" stroke-width="0.6" />
<line x1="203.79824779386604" y1="333.6" x2="203.79824779386604" y2="335.1" stroke="#333" stroke-width="0.6" />
<line x1="204.35714285714286" y1="333.6" x2="204.35714285714286" y2="336.20000000000005" stroke="#222" stroke-width="0.9" />
<line x1="208.0340092327529" y1="333.6" x2="208.0340092327529" y2="335.1" stroke="#333" stroke-width="0.6" />
<line x1="210.1848381826473" y1="333.6" x2="210.1848381826473" y2="335.1" stroke="#333" stroke-width="0.6" />
<line x1="211.71087560836298" y1="333.6" x2="211.71087560836298" y2="335.1" stroke="#333" stroke-width="0.6" />
<line x1="212.8945621958185" y1="333.6" x2="212.8945621958185" y2="335.1" stroke="#333" stroke-width="0.6" />
<line x1="213.86170455825737" y1="333.6" x2="213.86170455825737" y2="335.1" stroke="#333" stroke-width="0.6" />
<line x1="214.67941177445985" y1="333.6" x2="214.67941177445985" y2="335.1" stroke="#333" stroke-width="0.6" />
<line x1="215.38774198397303" y1="333.6" x2="215.38774198397303" y2="335.1" stroke="#333" stroke-width="0.6" />
<line x1="216.01253350815176" y1="333.6" x2="216.01253350815176" y2="335.1" stroke="#333" stroke-width="0.6" />
<line x1="216.57142857142856" y1="333.6" x2="216.57142857142856" y2="336.20000000000005" stroke="#222" stroke-width="0.9" />
<line x1="220.2482949470386" y1="333.6" x2="220.2482949470386" y2="335.1" stroke="#333" stroke-width="0.6" />
<line x1="222.399123896933" y1="333.6" x2="222.399123896933" y2="335.1" stroke="#333" stroke-width="0.6" />
<line x1="223.92516132264868" y1="333.6" x2="223.92516132264868" y2="335.1" stroke="#333" stroke-width="0.6" />
<line x1="225.1088479101042" y1="333.6" x2="225.1088479101042" y2="335.1" stroke="#333" stroke-width="0.6" />
<line x1="226.07599027254307" y1="333.6" x2="226.07599027254307" y2="335.1" stroke="#333" stroke-width="0.6" />
<line x1="226.89369748874554" y1="333.6" x2="226.89369748874554" y2="335.1" stroke="#333" stroke-width="0.6" />
<line x1="227.60202769825872" y1="333.6" x2="227.60202769825872" y2="335.1" stroke="#333" stroke-width="0.6" />
<line x1="228.22681922243746" y1="333.6" x2="228.22681922243746" y2="335.1" stroke="#333" stroke-width="0.6" />
<line x1="228.78571428571428" y1="333.6" x2="228.78571428571428" y2="336.20000000000005" stroke="#222" stroke-width="0.9" />
<line x1="232.46258066132432" y1="333.6" x2="232.46258066132432" y2="335.1" stroke="#333" stroke-width="0.6" />
<line x1="234.6134096112187" y1="333.6" x2="234.6134096112187" y2="335.1" stroke="#333" stroke-width="0.6" />
<line x1="236.1394470369344" y1="333.6" x2="236.1394470369344" y2="335.1" stroke="#333" stroke-width="0.6" />
<line x1="237.32313362438992" y1="333.6" x2="237.32313362438992" y2="335.1" stroke="#333" stroke-width="0.6" />
<line x1="238.2902759868288" y1="333.6" x2="238.2902759868288" y2="335.1" stroke="#333" stroke-width="0.6" />
<line x1="239.10798320303127" y1="333.6" x2="239.10798320303127" y2="335.1" stroke="#333" stroke-width="0.6" />
<line x1="239.81631341254445" y1="333.6" x2="239.81631341254445" y2="335.1" stroke="#333" stroke-width="0.6" />
<line x1="240.44110493672318" y1="333.6" x2="240.44110493672318" y2="335.1" stroke="#333" stroke-width="0.6" />
<line x1="241.0" y1="333.6" x2="241.0" y2="336.20000000000005" stroke="#222" stroke-width="0.9" />
<line x1="154.5" y1="333.90000000000003" x2="244.5" y2="333.90000000000003" stroke="#888" stroke-width="0.5" />
<text x="158.4" y="253.9" font-size="8.4" fill="#1a1a1a" stroke="#1a1a1a" stroke-width="0.2" text-anchor="start" transform="translate(158.4,0) scale(0.88,1) translate(-158.4,0)">67.7</text>
<text x="244.6" y="254" font-size="8.4" fill="#1a1a1a" stroke="#1a1a1a" stroke-width="0.2" text-anchor="end" transform="translate(244.6,0) scale(0.88,1) translate(-244.6,0)">32.3</text>
<text x="158.4" y="329.3" font-size="8.4" fill="#1a1a1a" stroke="#1a1a1a" stroke-width="0" text-anchor="start" transform="translate(158.4,0) scale(0.88,1) translate(-158.4,0)">0</text>
<text x="234" y="329.3" font-size="8.4" fill="#1a1a1a" stroke="#1a1a1a" stroke-width="0" text-anchor="end" transform="translate(234,0) scale(0.88,1) translate(-234,0)">0</text>
<rect x="56.6" y="344.4" width="91.0" height="90.60000000000002" fill="#fff" stroke="#c4c4c4" stroke-width="0.9"/>
<path d="M82.7 382.7h0.85v0.85h-0.85zM89.7 380.2h0.85v0.85h-0.85zM86.7 379.6h0.85v0.85h-0.85zM91.4 389.8h0.85v0.85h-0.85zM92.4 387.4h0.85v0.85h-0.85zM88.7 387.3h0.85v0.85h-0.85zM84.4 387.8h0.85v0.85h-0.85zM82.4 385.5h0.85v0.85h-0.85zM89.8 388.9h0.85v0.85h-0.85zM85.6 395.7h0.85v0.85h-0.85zM87.4 385.9h0.85v0.85h-0.85zM87.8 386.2h0.85v0.85h-0.85zM85.7 386.3h0.85v0.85h-0.85zM94.9 390.0h0.85v0.85h-0.85zM87.9 390.6h0.85v0.85h-0.85zM94.9 389.1h0.85v0.85h-0.85zM84.8 396.5h0.85v0.85h-0.85zM81.7 385.3h0.85v0.85h-0.85zM89.7 397.0h0.85v0.85h-0.85zM83.6 378.2h0.85v0.85h-0.85zM89.7 386.7h0.85v0.85h-0.85zM85.7 389.3h0.85v0.85h-0.85zM88.0 389.3h0.85v0.85h-0.85zM85.6 392.3h0.85v0.85h-0.85zM92.9 389.5h0.85v0.85h-0.85zM85.5 390.3h0.85v0.85h-0.85zM89.0 384.6h0.85v0.85h-0.85zM85.5 391.4h0.85v0.85h-0.85zM86.8 386.7h0.85v0.85h-0.85zM88.0 388.1h0.85v0.85h-0.85zM87.2 380.9h0.85v0.85h-0.85zM93.8 390.4h0.85v0.85h-0.85zM83.9 390.8h0.85v0.85h-0.85zM88.4 388.4h0.85v0.85h-0.85zM91.2 397.3h0.85v0.85h-0.85zM89.3 394.4h0.85v0.85h-0.85zM95.4 386.3h0.85v0.85h-0.85zM85.2 390.4h0.85v0.85h-0.85zM80.7 385.4h0.85v0.85h-0.85zM92.1 393.1h0.85v0.85h-0.85zM89.4 381.6h0.85v0.85h-0.85zM90.1 390.5h0.85v0.85h-0.85zM80.7 381.1h0.85v0.85h-0.85zM82.6 393.9h0.85v0.85h-0.85zM84.0 386.3h0.85v0.85h-0.85zM86.2 389.9h0.85v0.85h-0.85zM89.1 389.5h0.85v0.85h-0.85zM82.4 375.3h0.85v0.85h-0.85zM87.8 389.1h0.85v0.85h-0.85zM91.9 388.8h0.85v0.85h-0.85zM84.9 388.9h0.85v0.85h-0.85zM81.3 382.7h0.85v0.85h-0.85zM83.4 388.1h0.85v0.85h-0.85zM95.1 392.8h0.85v0.85h-0.85zM91.5 390.0h0.85v0.85h-0.85zM88.3 386.6h0.85v0.85h-0.85zM86.1 378.8h0.85v0.85h-0.85zM82.6 382.1h0.85v0.85h-0.85zM90.4 391.2h0.85v0.85h-0.85zM91.5 394.8h0.85v0.85h-0.85zM86.0 391.6h0.85v0.85h-0.85zM94.6 389.8h0.85v0.85h-0.85zM91.3 388.4h0.85v0.85h-0.85zM81.1 386.9h0.85v0.85h-0.85zM84.1 387.6h0.85v0.85h-0.85zM85.4 388.7h0.85v0.85h-0.85zM79.1 393.6h0.85v0.85h-0.85zM92.4 388.0h0.85v0.85h-0.85zM83.7 387.2h0.85v0.85h-0.85zM89.8 390.2h0.85v0.85h-0.85zM88.7 381.1h0.85v0.85h-0.85zM82.9 391.9h0.85v0.85h-0.85zM88.1 382.6h0.85v0.85h-0.85zM83.9 381.8h0.85v0.85h-0.85zM83.3 391.4h0.85v0.85h-0.85zM86.4 392.0h0.85v0.85h-0.85zM87.9 382.6h0.85v0.85h-0.85zM84.7 395.9h0.85v0.85h-0.85zM84.2 383.3h0.85v0.85h-0.85zM92.0 389.5h0.85v0.85h-0.85zM87.2 393.5h0.85v0.85h-0.85zM80.4 387.9h0.85v0.85h-0.85zM83.1 381.7h0.85v0.85h-0.85zM84.0 391.5h0.85v0.85h-0.85zM86.7 381.0h0.85v0.85h-0.85zM82.9 392.7h0.85v0.85h-0.85zM91.2 384.9h0.85v0.85h-0.85zM82.6 386.3h0.85v0.85h-0.85zM90.8 395.0h0.85v0.85h-0.85zM91.2 387.4h0.85v0.85h-0.85zM85.0 382.0h0.85v0.85h-0.85zM86.9 385.7h0.85v0.85h-0.85zM88.2 383.5h0.85v0.85h-0.85zM85.2 384.2h0.85v0.85h-0.85zM82.5 382.4h0.85v0.85h-0.85zM83.2 382.6h0.85v0.85h-0.85zM89.4 388.9h0.85v0.85h-0.85zM82.1 388.6h0.85v0.85h-0.85zM88.3 393.8h0.85v0.85h-0.85zM86.4 387.0h0.85v0.85h-0.85zM84.5 387.8h0.85v0.85h-0.85zM89.1 389.1h0.85v0.85h-0.85zM86.2 389.9h0.85v0.85h-0.85zM87.6 389.0h0.85v0.85h-0.85zM83.6 387.9h0.85v0.85h-0.85zM83.3 383.9h0.85v0.85h-0.85zM87.8 396.1h0.85v0.85h-0.85zM91.1 389.0h0.85v0.85h-0.85zM86.5 391.5h0.85v0.85h-0.85zM92.6 393.9h0.85v0.85h-0.85zM86.5 388.5h0.85v0.85h-0.85zM85.9 386.6h0.85v0.85h-0.85zM83.9 386.2h0.85v0.85h-0.85zM78.8 381.4h0.85v0.85h-0.85zM88.9 384.9h0.85v0.85h-0.85zM89.3 383.7h0.85v0.85h-0.85zM85.8 389.1h0.85v0.85h-0.85zM83.2 384.3h0.85v0.85h-0.85zM84.5 385.2h0.85v0.85h-0.85zM87.3 387.9h0.85v0.85h-0.85zM91.0 391.9h0.85v0.85h-0.85zM85.6 386.3h0.85v0.85h-0.85zM81.7 381.0h0.85v0.85h-0.85zM84.3 390.0h0.85v0.85h-0.85zM87.7 391.1h0.85v0.85h-0.85zM90.9 388.3h0.85v0.85h-0.85zM95.4 388.1h0.85v0.85h-0.85zM84.8 385.8h0.85v0.85h-0.85zM91.6 388.6h0.85v0.85h-0.85zM84.3 388.9h0.85v0.85h-0.85zM91.6 388.7h0.85v0.85h-0.85zM86.2 391.8h0.85v0.85h-0.85zM91.0 392.5h0.85v0.85h-0.85zM84.2 388.3h0.85v0.85h-0.85zM88.6 381.6h0.85v0.85h-0.85zM91.9 389.5h0.85v0.85h-0.85zM85.9 396.2h0.85v0.85h-0.85zM87.8 385.4h0.85v0.85h-0.85zM87.0 390.1h0.85v0.85h-0.85zM90.4 388.6h0.85v0.85h-0.85zM83.8 384.5h0.85v0.85h-0.85zM84.0 383.3h0.85v0.85h-0.85zM87.1 386.1h0.85v0.85h-0.85zM87.4 384.9h0.85v0.85h-0.85zM83.8 386.5h0.85v0.85h-0.85zM85.8 392.0h0.85v0.85h-0.85zM83.7 387.9h0.85v0.85h-0.85zM87.0 383.0h0.85v0.85h-0.85zM90.0 389.3h0.85v0.85h-0.85zM79.1 388.2h0.85v0.85h-0.85zM90.8 385.9h0.85v0.85h-0.85zM93.8 390.2h0.85v0.85h-0.85zM82.7 389.0h0.85v0.85h-0.85zM85.8 382.6h0.85v0.85h-0.85zM78.9 386.8h0.85v0.85h-0.85zM84.3 389.7h0.85v0.85h-0.85zM88.7 386.4h0.85v0.85h-0.85zM85.1 394.1h0.85v0.85h-0.85zM93.8 392.5h0.85v0.85h-0.85zM85.8 384.0h0.85v0.85h-0.85zM85.7 393.9h0.85v0.85h-0.85zM89.0 387.4h0.85v0.85h-0.85zM82.4 387.4h0.85v0.85h-0.85zM83.8 387.2h0.85v0.85h-0.85zM90.1 392.7h0.85v0.85h-0.85zM87.7 386.9h0.85v0.85h-0.85zM88.1 395.0h0.85v0.85h-0.85zM88.7 383.1h0.85v0.85h-0.85zM93.2 390.4h0.85v0.85h-0.85zM86.8 386.8h0.85v0.85h-0.85zM88.7 386.2h0.85v0.85h-0.85zM81.5 379.4h0.85v0.85h-0.85zM86.7 386.0h0.85v0.85h-0.85zM85.0 395.4h0.85v0.85h-0.85zM90.3 392.9h0.85v0.85h-0.85zM85.3 388.6h0.85v0.85h-0.85zM86.4 387.0h0.85v0.85h-0.85zM90.1 391.0h0.85v0.85h-0.85zM88.4 388.8h0.85v0.85h-0.85zM81.6 383.8h0.85v0.85h-0.85zM88.7 387.0h0.85v0.85h-0.85zM84.2 388.6h0.85v0.85h-0.85zM83.6 384.6h0.85v0.85h-0.85zM90.6 387.5h0.85v0.85h-0.85zM92.7 391.3h0.85v0.85h-0.85zM90.3 393.0h0.85v0.85h-0.85zM78.9 385.6h0.85v0.85h-0.85zM82.2 385.0h0.85v0.85h-0.85zM86.8 392.5h0.85v0.85h-0.85zM87.0 394.1h0.85v0.85h-0.85zM85.2 387.3h0.85v0.85h-0.85zM87.6 391.6h0.85v0.85h-0.85zM87.0 385.6h0.85v0.85h-0.85zM85.9 382.5h0.85v0.85h-0.85zM92.1 392.0h0.85v0.85h-0.85zM88.8 389.4h0.85v0.85h-0.85zM84.9 385.9h0.85v0.85h-0.85zM90.3 385.8h0.85v0.85h-0.85zM84.2 393.1h0.85v0.85h-0.85zM93.2 390.6h0.85v0.85h-0.85zM89.3 389.2h0.85v0.85h-0.85zM92.7 387.7h0.85v0.85h-0.85zM87.5 389.9h0.85v0.85h-0.85zM92.7 388.5h0.85v0.85h-0.85zM88.1 386.4h0.85v0.85h-0.85zM84.7 384.9h0.85v0.85h-0.85zM87.5 391.4h0.85v0.85h-0.85zM84.5 385.1h0.85v0.85h-0.85zM85.6 388.9h0.85v0.85h-0.85zM89.9 384.0h0.85v0.85h-0.85zM88.6 384.6h0.85v0.85h-0.85zM89.9 385.1h0.85v0.85h-0.85zM83.1 384.3h0.85v0.85h-0.85zM87.0 384.3h0.85v0.85h-0.85zM88.0 388.7h0.85v0.85h-0.85zM87.5 389.1h0.85v0.85h-0.85zM90.5 386.1h0.85v0.85h-0.85zM87.2 387.9h0.85v0.85h-0.85zM79.4 387.5h0.85v0.85h-0.85zM84.3 384.6h0.85v0.85h-0.85zM85.5 387.9h0.85v0.85h-0.85zM88.5 390.1h0.85v0.85h-0.85zM84.6 389.9h0.85v0.85h-0.85zM88.8 387.0h0.85v0.85h-0.85zM87.1 390.9h0.85v0.85h-0.85zM88.8 391.0h0.85v0.85h-0.85zM87.6 392.3h0.85v0.85h-0.85zM81.1 392.8h0.85v0.85h-0.85zM85.0 382.4h0.85v0.85h-0.85zM78.2 387.3h0.85v0.85h-0.85zM91.4 392.7h0.85v0.85h-0.85zM85.7 393.0h0.85v0.85h-0.85zM86.9 385.7h0.85v0.85h-0.85zM87.5 388.9h0.85v0.85h-0.85zM87.4 389.5h0.85v0.85h-0.85zM78.9 391.7h0.85v0.85h-0.85zM85.0 389.9h0.85v0.85h-0.85zM84.2 387.8h0.85v0.85h-0.85zM86.5 382.0h0.85v0.85h-0.85zM88.7 390.7h0.85v0.85h-0.85zM83.0 379.2h0.85v0.85h-0.85zM84.7 384.3h0.85v0.85h-0.85zM87.6 388.0h0.85v0.85h-0.85zM93.3 391.9h0.85v0.85h-0.85zM86.2 388.4h0.85v0.85h-0.85zM76.2 381.9h0.85v0.85h-0.85zM83.7 386.7h0.85v0.85h-0.85zM88.4 389.1h0.85v0.85h-0.85zM90.8 386.3h0.85v0.85h-0.85zM88.4 387.8h0.85v0.85h-0.85zM87.3 389.2h0.85v0.85h-0.85zM86.1 388.5h0.85v0.85h-0.85zM87.1 391.7h0.85v0.85h-0.85zM86.8 389.0h0.85v0.85h-0.85zM89.1 392.4h0.85v0.85h-0.85zM83.4 389.7h0.85v0.85h-0.85zM90.0 390.3h0.85v0.85h-0.85zM90.9 391.8h0.85v0.85h-0.85zM91.7 386.8h0.85v0.85h-0.85zM88.8 386.4h0.85v0.85h-0.85zM91.9 389.7h0.85v0.85h-0.85zM82.3 387.2h0.85v0.85h-0.85zM83.4 390.7h0.85v0.85h-0.85zM85.9 379.6h0.85v0.85h-0.85zM85.7 391.4h0.85v0.85h-0.85zM88.4 386.0h0.85v0.85h-0.85zM89.7 390.7h0.85v0.85h-0.85zM92.8 392.7h0.85v0.85h-0.85zM88.6 385.5h0.85v0.85h-0.85zM88.3 389.4h0.85v0.85h-0.85zM87.3 389.6h0.85v0.85h-0.85zM82.7 389.0h0.85v0.85h-0.85zM87.2 389.3h0.85v0.85h-0.85zM86.8 386.8h0.85v0.85h-0.85zM88.2 391.1h0.85v0.85h-0.85zM86.0 388.9h0.85v0.85h-0.85zM84.3 388.8h0.85v0.85h-0.85zM87.3 383.3h0.85v0.85h-0.85zM91.6 385.8h0.85v0.85h-0.85zM87.5 383.3h0.85v0.85h-0.85zM80.7 388.8h0.85v0.85h-0.85zM81.9 379.1h0.85v0.85h-0.85zM86.4 382.1h0.85v0.85h-0.85zM86.4 394.5h0.85v0.85h-0.85zM85.7 388.9h0.85v0.85h-0.85zM89.3 389.4h0.85v0.85h-0.85zM86.7 393.4h0.85v0.85h-0.85zM86.9 389.2h0.85v0.85h-0.85zM87.6 383.4h0.85v0.85h-0.85zM88.4 388.5h0.85v0.85h-0.85zM89.6 391.1h0.85v0.85h-0.85zM93.1 382.5h0.85v0.85h-0.85zM85.1 385.7h0.85v0.85h-0.85zM83.9 388.7h0.85v0.85h-0.85zM86.9 388.4h0.85v0.85h-0.85zM81.1 383.0h0.85v0.85h-0.85zM87.0 386.3h0.85v0.85h-0.85zM84.9 387.0h0.85v0.85h-0.85zM86.2 383.9h0.85v0.85h-0.85zM93.5 387.1h0.85v0.85h-0.85zM89.6 390.8h0.85v0.85h-0.85zM90.8 386.8h0.85v0.85h-0.85zM83.4 388.7h0.85v0.85h-0.85zM88.2 379.7h0.85v0.85h-0.85zM77.4 383.6h0.85v0.85h-0.85zM85.7 386.7h0.85v0.85h-0.85zM88.8 384.9h0.85v0.85h-0.85zM92.1 390.2h0.85v0.85h-0.85zM79.4 386.9h0.85v0.85h-0.85zM85.1 389.1h0.85v0.85h-0.85zM86.8 390.3h0.85v0.85h-0.85zM83.9 385.9h0.85v0.85h-0.85zM87.2 385.3h0.85v0.85h-0.85zM85.5 389.8h0.85v0.85h-0.85zM94.4 389.0h0.85v0.85h-0.85zM90.3 384.6h0.85v0.85h-0.85zM85.5 388.8h0.85v0.85h-0.85zM89.4 384.8h0.85v0.85h-0.85zM89.5 389.1h0.85v0.85h-0.85zM92.1 392.6h0.85v0.85h-0.85zM89.3 387.1h0.85v0.85h-0.85zM88.2 385.1h0.85v0.85h-0.85zM84.1 380.5h0.85v0.85h-0.85zM82.3 382.2h0.85v0.85h-0.85zM86.8 388.3h0.85v0.85h-0.85zM82.2 386.4h0.85v0.85h-0.85zM88.7 391.7h0.85v0.85h-0.85zM86.8 388.7h0.85v0.85h-0.85zM85.8 391.0h0.85v0.85h-0.85zM81.3 387.4h0.85v0.85h-0.85zM78.5 392.0h0.85v0.85h-0.85zM90.7 381.2h0.85v0.85h-0.85zM85.2 382.4h0.85v0.85h-0.85zM80.6 384.8h0.85v0.85h-0.85zM83.9 390.9h0.85v0.85h-0.85zM85.2 383.5h0.85v0.85h-0.85zM86.9 389.4h0.85v0.85h-0.85zM90.2 390.6h0.85v0.85h-0.85zM81.6 383.6h0.85v0.85h-0.85zM86.5 384.7h0.85v0.85h-0.85zM89.9 387.4h0.85v0.85h-0.85zM86.9 386.5h0.85v0.85h-0.85zM87.3 382.6h0.85v0.85h-0.85zM95.0 387.9h0.85v0.85h-0.85zM84.4 380.8h0.85v0.85h-0.85zM86.8 382.9h0.85v0.85h-0.85zM88.4 392.6h0.85v0.85h-0.85zM89.4 386.9h0.85v0.85h-0.85zM91.9 388.4h0.85v0.85h-0.85zM87.0 388.1h0.85v0.85h-0.85zM85.4 389.0h0.85v0.85h-0.85zM82.5 380.4h0.85v0.85h-0.85zM91.6 386.4h0.85v0.85h-0.85zM85.8 388.8h0.85v0.85h-0.85zM85.4 383.2h0.85v0.85h-0.85zM86.4 384.3h0.85v0.85h-0.85zM89.2 386.8h0.85v0.85h-0.85zM86.2 390.5h0.85v0.85h-0.85zM81.4 381.1h0.85v0.85h-0.85zM89.9 393.2h0.85v0.85h-0.85zM87.5 385.5h0.85v0.85h-0.85zM91.7 391.0h0.85v0.85h-0.85zM91.0 382.3h0.85v0.85h-0.85zM86.7 384.1h0.85v0.85h-0.85zM83.0 389.0h0.85v0.85h-0.85zM89.9 386.9h0.85v0.85h-0.85zM86.2 392.7h0.85v0.85h-0.85zM89.6 388.1h0.85v0.85h-0.85zM89.0 388.8h0.85v0.85h-0.85zM82.4 384.9h0.85v0.85h-0.85zM88.2 390.4h0.85v0.85h-0.85zM82.7 383.9h0.85v0.85h-0.85zM84.9 381.9h0.85v0.85h-0.85zM91.3 390.6h0.85v0.85h-0.85zM92.0 381.2h0.85v0.85h-0.85zM84.1 393.7h0.85v0.85h-0.85zM81.9 380.0h0.85v0.85h-0.85zM88.0 393.8h0.85v0.85h-0.85zM89.5 385.1h0.85v0.85h-0.85zM89.2 389.9h0.85v0.85h-0.85zM88.1 389.6h0.85v0.85h-0.85zM90.2 392.9h0.85v0.85h-0.85zM92.3 393.1h0.85v0.85h-0.85zM86.6 381.1h0.85v0.85h-0.85zM89.2 383.0h0.85v0.85h-0.85zM80.2 379.5h0.85v0.85h-0.85zM88.6 389.4h0.85v0.85h-0.85zM89.6 389.6h0.85v0.85h-0.85zM84.2 390.2h0.85v0.85h-0.85zM84.6 381.8h0.85v0.85h-0.85zM90.5 390.7h0.85v0.85h-0.85zM83.7 386.2h0.85v0.85h-0.85zM91.0 392.3h0.85v0.85h-0.85zM83.1 390.9h0.85v0.85h-0.85zM77.5 385.8h0.85v0.85h-0.85zM88.6 387.9h0.85v0.85h-0.85zM87.6 382.2h0.85v0.85h-0.85zM86.7 389.6h0.85v0.85h-0.85zM83.7 387.6h0.85v0.85h-0.85zM86.5 379.6h0.85v0.85h-0.85zM84.9 389.5h0.85v0.85h-0.85zM81.3 386.6h0.85v0.85h-0.85zM88.4 383.6h0.85v0.85h-0.85zM86.2 391.0h0.85v0.85h-0.85zM89.9 385.0h0.85v0.85h-0.85zM91.0 390.1h0.85v0.85h-0.85zM87.6 393.5h0.85v0.85h-0.85zM89.9 390.0h0.85v0.85h-0.85zM90.8 391.3h0.85v0.85h-0.85zM91.9 388.7h0.85v0.85h-0.85zM80.5 391.9h0.85v0.85h-0.85zM90.2 390.6h0.85v0.85h-0.85zM87.3 387.7h0.85v0.85h-0.85zM87.6 384.6h0.85v0.85h-0.85zM90.1 389.0h0.85v0.85h-0.85zM83.6 388.0h0.85v0.85h-0.85zM86.0 387.6h0.85v0.85h-0.85zM83.2 388.5h0.85v0.85h-0.85zM89.8 390.2h0.85v0.85h-0.85zM92.8 387.8h0.85v0.85h-0.85zM85.9 387.6h0.85v0.85h-0.85zM82.0 390.7h0.85v0.85h-0.85zM82.5 388.8h0.85v0.85h-0.85zM91.7 386.1h0.85v0.85h-0.85zM86.5 387.1h0.85v0.85h-0.85zM93.6 390.5h0.85v0.85h-0.85zM80.6 390.2h0.85v0.85h-0.85zM91.1 381.7h0.85v0.85h-0.85zM77.0 394.9h0.85v0.85h-0.85zM87.5 380.3h0.85v0.85h-0.85zM91.2 394.1h0.85v0.85h-0.85zM78.2 390.4h0.85v0.85h-0.85zM89.9 388.6h0.85v0.85h-0.85zM84.5 388.7h0.85v0.85h-0.85zM84.1 387.8h0.85v0.85h-0.85zM86.2 386.1h0.85v0.85h-0.85zM89.2 392.1h0.85v0.85h-0.85zM90.5 390.4h0.85v0.85h-0.85zM93.5 385.0h0.85v0.85h-0.85zM87.4 388.7h0.85v0.85h-0.85zM91.8 380.9h0.85v0.85h-0.85zM85.5 386.4h0.85v0.85h-0.85zM87.9 396.4h0.85v0.85h-0.85zM88.1 387.9h0.85v0.85h-0.85zM88.8 392.0h0.85v0.85h-0.85zM86.5 394.0h0.85v0.85h-0.85zM82.6 391.4h0.85v0.85h-0.85zM89.9 392.3h0.85v0.85h-0.85zM93.0 388.6h0.85v0.85h-0.85zM88.8 389.3h0.85v0.85h-0.85zM84.9 384.6h0.85v0.85h-0.85zM84.3 390.3h0.85v0.85h-0.85zM78.6 381.2h0.85v0.85h-0.85zM87.5 392.8h0.85v0.85h-0.85zM86.8 392.5h0.85v0.85h-0.85zM87.0 386.0h0.85v0.85h-0.85zM81.3 387.2h0.85v0.85h-0.85zM93.7 390.0h0.85v0.85h-0.85zM83.3 389.1h0.85v0.85h-0.85zM82.0 382.5h0.85v0.85h-0.85zM91.4 390.5h0.85v0.85h-0.85zM90.8 389.8h0.85v0.85h-0.85zM86.8 388.5h0.85v0.85h-0.85zM86.0 391.5h0.85v0.85h-0.85zM82.3 379.9h0.85v0.85h-0.85zM84.0 390.5h0.85v0.85h-0.85zM85.1 379.1h0.85v0.85h-0.85zM86.5 389.9h0.85v0.85h-0.85zM88.6 387.7h0.85v0.85h-0.85zM81.3 388.4h0.85v0.85h-0.85zM83.5 386.4h0.85v0.85h-0.85zM90.1 387.3h0.85v0.85h-0.85zM80.4 384.1h0.85v0.85h-0.85zM89.5 391.2h0.85v0.85h-0.85zM82.3 386.9h0.85v0.85h-0.85zM88.3 392.2h0.85v0.85h-0.85zM88.7 389.0h0.85v0.85h-0.85zM86.0 389.4h0.85v0.85h-0.85zM90.1 388.1h0.85v0.85h-0.85zM86.1 394.1h0.85v0.85h-0.85zM87.0 385.1h0.85v0.85h-0.85zM89.7 384.1h0.85v0.85h-0.85zM83.1 390.3h0.85v0.85h-0.85zM87.3 390.9h0.85v0.85h-0.85zM90.1 386.0h0.85v0.85h-0.85zM89.1 387.1h0.85v0.85h-0.85zM88.0 389.1h0.85v0.85h-0.85zM86.9 383.2h0.85v0.85h-0.85zM88.3 388.3h0.85v0.85h-0.85zM89.2 384.7h0.85v0.85h-0.85zM87.9 387.4h0.85v0.85h-0.85zM85.6 386.6h0.85v0.85h-0.85zM86.3 382.8h0.85v0.85h-0.85zM85.2 385.8h0.85v0.85h-0.85zM88.9 387.9h0.85v0.85h-0.85zM92.5 391.5h0.85v0.85h-0.85zM88.4 389.0h0.85v0.85h-0.85zM81.9 388.0h0.85v0.85h-0.85zM91.9 385.5h0.85v0.85h-0.85zM92.1 391.5h0.85v0.85h-0.85zM88.3 386.7h0.85v0.85h-0.85zM87.3 385.2h0.85v0.85h-0.85zM87.1 388.2h0.85v0.85h-0.85zM87.4 383.6h0.85v0.85h-0.85zM90.7 386.5h0.85v0.85h-0.85zM88.7 390.5h0.85v0.85h-0.85zM86.4 396.7h0.85v0.85h-0.85zM87.7 389.6h0.85v0.85h-0.85zM86.3 389.0h0.85v0.85h-0.85zM82.5 389.1h0.85v0.85h-0.85zM85.8 385.8h0.85v0.85h-0.85zM90.0 392.0h0.85v0.85h-0.85zM85.6 383.9h0.85v0.85h-0.85zM79.7 382.5h0.85v0.85h-0.85zM89.0 390.8h0.85v0.85h-0.85zM82.5 387.0h0.85v0.85h-0.85zM91.1 386.2h0.85v0.85h-0.85zM85.1 384.2h0.85v0.85h-0.85zM88.7 381.6h0.85v0.85h-0.85zM86.7 389.6h0.85v0.85h-0.85z" fill="#000" opacity="0.7"/>
<path d="M85.2 376.7h0.85v0.85h-0.85zM74.4 385.5h0.85v0.85h-0.85zM93.5 387.7h0.85v0.85h-0.85zM66.9 385.9h0.85v0.85h-0.85zM70.8 391.4h0.85v0.85h-0.85zM78.8 395.5h0.85v0.85h-0.85zM79.9 380.2h0.85v0.85h-0.85zM68.5 382.4h0.85v0.85h-0.85zM84.8 393.0h0.85v0.85h-0.85zM83.3 382.2h0.85v0.85h-0.85zM85.3 378.7h0.85v0.85h-0.85zM85.3 382.4h0.85v0.85h-0.85zM93.7 393.1h0.85v0.85h-0.85zM84.1 380.8h0.85v0.85h-0.85zM85.7 388.6h0.85v0.85h-0.85zM76.3 382.0h0.85v0.85h-0.85zM91.8 385.2h0.85v0.85h-0.85zM84.8 394.1h0.85v0.85h-0.85zM68.4 394.1h0.85v0.85h-0.85zM89.6 383.6h0.85v0.85h-0.85zM72.9 378.2h0.85v0.85h-0.85zM88.9 372.9h0.85v0.85h-0.85zM88.9 388.0h0.85v0.85h-0.85zM75.2 382.4h0.85v0.85h-0.85zM77.9 384.3h0.85v0.85h-0.85zM88.6 382.4h0.85v0.85h-0.85zM90.3 392.6h0.85v0.85h-0.85zM78.9 389.1h0.85v0.85h-0.85zM76.4 385.7h0.85v0.85h-0.85zM85.2 397.2h0.85v0.85h-0.85zM80.6 385.1h0.85v0.85h-0.85zM81.3 385.0h0.85v0.85h-0.85zM71.8 395.1h0.85v0.85h-0.85zM75.7 382.1h0.85v0.85h-0.85zM74.9 389.0h0.85v0.85h-0.85zM89.4 389.0h0.85v0.85h-0.85zM80.8 380.4h0.85v0.85h-0.85zM87.3 386.3h0.85v0.85h-0.85zM72.4 374.8h0.85v0.85h-0.85zM65.8 387.4h0.85v0.85h-0.85zM83.9 380.0h0.85v0.85h-0.85zM67.9 385.8h0.85v0.85h-0.85zM78.0 386.9h0.85v0.85h-0.85zM80.9 381.7h0.85v0.85h-0.85zM66.2 384.8h0.85v0.85h-0.85zM81.8 387.1h0.85v0.85h-0.85zM89.1 392.2h0.85v0.85h-0.85zM76.8 388.7h0.85v0.85h-0.85zM62.4 387.3h0.85v0.85h-0.85zM80.7 391.6h0.85v0.85h-0.85zM89.5 381.9h0.85v0.85h-0.85zM79.9 392.0h0.85v0.85h-0.85zM76.3 385.8h0.85v0.85h-0.85zM75.8 388.6h0.85v0.85h-0.85zM83.5 381.8h0.85v0.85h-0.85zM68.8 372.1h0.85v0.85h-0.85zM88.3 384.5h0.85v0.85h-0.85zM75.0 382.3h0.85v0.85h-0.85zM73.1 388.7h0.85v0.85h-0.85zM86.4 374.3h0.85v0.85h-0.85zM80.8 386.6h0.85v0.85h-0.85zM78.2 386.2h0.85v0.85h-0.85zM95.4 389.7h0.85v0.85h-0.85zM91.3 393.0h0.85v0.85h-0.85zM68.0 394.2h0.85v0.85h-0.85zM82.8 384.7h0.85v0.85h-0.85zM74.3 381.4h0.85v0.85h-0.85zM84.1 376.6h0.85v0.85h-0.85zM71.5 385.1h0.85v0.85h-0.85zM87.5 389.9h0.85v0.85h-0.85zM88.3 393.0h0.85v0.85h-0.85zM77.3 383.6h0.85v0.85h-0.85zM78.3 383.9h0.85v0.85h-0.85zM90.7 392.1h0.85v0.85h-0.85zM63.3 386.4h0.85v0.85h-0.85zM71.9 378.6h0.85v0.85h-0.85zM92.2 394.9h0.85v0.85h-0.85zM91.2 391.2h0.85v0.85h-0.85zM88.3 383.2h0.85v0.85h-0.85zM75.8 376.2h0.85v0.85h-0.85zM94.3 397.7h0.85v0.85h-0.85zM88.7 383.8h0.85v0.85h-0.85zM82.6 380.3h0.85v0.85h-0.85zM78.8 394.3h0.85v0.85h-0.85zM95.1 391.7h0.85v0.85h-0.85zM87.9 386.3h0.85v0.85h-0.85zM84.3 385.6h0.85v0.85h-0.85zM85.3 383.1h0.85v0.85h-0.85zM89.8 385.9h0.85v0.85h-0.85zM82.9 385.6h0.85v0.85h-0.85zM94.4 392.9h0.85v0.85h-0.85zM74.2 379.9h0.85v0.85h-0.85zM86.1 387.4h0.85v0.85h-0.85zM79.1 387.1h0.85v0.85h-0.85zM95.5 387.5h0.85v0.85h-0.85zM93.6 385.0h0.85v0.85h-0.85zM79.1 387.6h0.85v0.85h-0.85zM80.5 383.3h0.85v0.85h-0.85zM71.9 383.0h0.85v0.85h-0.85zM77.6 385.6h0.85v0.85h-0.85zM90.2 390.2h0.85v0.85h-0.85zM91.2 388.6h0.85v0.85h-0.85zM85.1 390.2h0.85v0.85h-0.85zM87.4 392.6h0.85v0.85h-0.85zM76.4 387.9h0.85v0.85h-0.85zM82.9 393.2h0.85v0.85h-0.85zM88.5 383.9h0.85v0.85h-0.85zM84.8 390.6h0.85v0.85h-0.85zM81.7 393.2h0.85v0.85h-0.85zM83.5 379.4h0.85v0.85h-0.85zM83.9 390.9h0.85v0.85h-0.85zM74.3 389.1h0.85v0.85h-0.85zM69.1 381.9h0.85v0.85h-0.85zM78.4 377.9h0.85v0.85h-0.85zM83.8 381.4h0.85v0.85h-0.85zM69.6 371.8h0.85v0.85h-0.85zM87.1 393.4h0.85v0.85h-0.85zM78.7 387.0h0.85v0.85h-0.85zM94.9 390.1h0.85v0.85h-0.85zM91.1 393.0h0.85v0.85h-0.85zM87.6 390.0h0.85v0.85h-0.85zM91.4 388.8h0.85v0.85h-0.85zM82.4 382.4h0.85v0.85h-0.85zM63.4 378.7h0.85v0.85h-0.85zM78.4 391.6h0.85v0.85h-0.85zM78.3 374.8h0.85v0.85h-0.85zM87.1 393.8h0.85v0.85h-0.85zM84.0 388.2h0.85v0.85h-0.85zM83.7 386.2h0.85v0.85h-0.85zM93.4 383.2h0.85v0.85h-0.85zM74.8 377.3h0.85v0.85h-0.85zM76.9 381.8h0.85v0.85h-0.85zM75.6 386.6h0.85v0.85h-0.85zM90.4 379.9h0.85v0.85h-0.85zM82.4 382.5h0.85v0.85h-0.85zM75.5 383.0h0.85v0.85h-0.85zM84.5 377.7h0.85v0.85h-0.85zM94.3 387.5h0.85v0.85h-0.85zM75.1 376.5h0.85v0.85h-0.85zM90.5 391.4h0.85v0.85h-0.85zM89.0 388.1h0.85v0.85h-0.85zM89.6 385.2h0.85v0.85h-0.85zM82.4 384.6h0.85v0.85h-0.85zM81.8 386.7h0.85v0.85h-0.85zM81.6 386.2h0.85v0.85h-0.85zM82.7 384.2h0.85v0.85h-0.85zM75.3 382.9h0.85v0.85h-0.85zM87.0 391.0h0.85v0.85h-0.85zM72.5 389.8h0.85v0.85h-0.85zM70.0 381.6h0.85v0.85h-0.85zM74.3 385.7h0.85v0.85h-0.85zM92.6 396.2h0.85v0.85h-0.85zM84.3 392.0h0.85v0.85h-0.85zM85.0 379.8h0.85v0.85h-0.85zM76.7 385.2h0.85v0.85h-0.85zM73.0 381.5h0.85v0.85h-0.85zM87.8 381.7h0.85v0.85h-0.85zM75.7 375.9h0.85v0.85h-0.85zM65.0 385.8h0.85v0.85h-0.85zM85.0 384.6h0.85v0.85h-0.85zM85.7 382.7h0.85v0.85h-0.85zM80.9 388.9h0.85v0.85h-0.85zM69.5 392.3h0.85v0.85h-0.85zM80.4 386.4h0.85v0.85h-0.85zM79.8 388.0h0.85v0.85h-0.85zM70.6 378.1h0.85v0.85h-0.85zM84.3 385.4h0.85v0.85h-0.85zM77.8 387.5h0.85v0.85h-0.85zM94.7 382.2h0.85v0.85h-0.85zM60.1 381.6h0.85v0.85h-0.85zM66.4 382.9h0.85v0.85h-0.85zM72.9 385.3h0.85v0.85h-0.85zM66.7 378.1h0.85v0.85h-0.85zM72.0 376.9h0.85v0.85h-0.85zM85.1 387.7h0.85v0.85h-0.85zM89.9 391.9h0.85v0.85h-0.85zM80.1 382.7h0.85v0.85h-0.85zM76.8 385.4h0.85v0.85h-0.85zM75.4 376.4h0.85v0.85h-0.85zM78.8 383.3h0.85v0.85h-0.85zM78.0 388.2h0.85v0.85h-0.85zM78.4 373.5h0.85v0.85h-0.85zM83.5 389.4h0.85v0.85h-0.85zM69.4 376.6h0.85v0.85h-0.85zM80.3 379.9h0.85v0.85h-0.85zM90.0 392.0h0.85v0.85h-0.85zM66.3 386.8h0.85v0.85h-0.85zM68.6 380.5h0.85v0.85h-0.85zM92.7 386.2h0.85v0.85h-0.85zM86.8 384.4h0.85v0.85h-0.85zM78.1 386.2h0.85v0.85h-0.85zM78.9 394.4h0.85v0.85h-0.85zM72.1 389.9h0.85v0.85h-0.85zM94.0 393.9h0.85v0.85h-0.85zM69.8 391.9h0.85v0.85h-0.85zM88.6 393.5h0.85v0.85h-0.85zM72.5 386.0h0.85v0.85h-0.85zM91.4 388.2h0.85v0.85h-0.85zM83.1 384.1h0.85v0.85h-0.85zM79.7 386.1h0.85v0.85h-0.85zM76.8 379.8h0.85v0.85h-0.85zM84.9 387.7h0.85v0.85h-0.85zM76.8 376.1h0.85v0.85h-0.85zM75.0 386.8h0.85v0.85h-0.85zM73.4 383.7h0.85v0.85h-0.85zM64.0 380.6h0.85v0.85h-0.85zM58.1 387.5h0.85v0.85h-0.85zM80.5 384.3h0.85v0.85h-0.85zM80.8 377.9h0.85v0.85h-0.85zM80.5 385.6h0.85v0.85h-0.85zM88.2 382.5h0.85v0.85h-0.85zM75.9 384.6h0.85v0.85h-0.85zM82.4 386.4h0.85v0.85h-0.85zM82.8 390.8h0.85v0.85h-0.85zM82.7 387.8h0.85v0.85h-0.85zM79.1 377.3h0.85v0.85h-0.85zM85.4 384.0h0.85v0.85h-0.85zM79.5 378.5h0.85v0.85h-0.85zM77.6 388.3h0.85v0.85h-0.85zM82.5 391.5h0.85v0.85h-0.85zM73.3 383.5h0.85v0.85h-0.85zM79.0 383.8h0.85v0.85h-0.85zM70.8 387.8h0.85v0.85h-0.85zM72.5 379.8h0.85v0.85h-0.85zM79.5 393.6h0.85v0.85h-0.85zM90.6 386.2h0.85v0.85h-0.85zM71.0 376.5h0.85v0.85h-0.85zM80.9 390.3h0.85v0.85h-0.85zM88.1 386.1h0.85v0.85h-0.85zM73.7 387.4h0.85v0.85h-0.85zM91.7 387.1h0.85v0.85h-0.85zM85.0 384.5h0.85v0.85h-0.85zM78.9 393.5h0.85v0.85h-0.85zM75.8 392.7h0.85v0.85h-0.85zM77.6 385.4h0.85v0.85h-0.85zM88.0 390.7h0.85v0.85h-0.85zM75.8 384.6h0.85v0.85h-0.85zM81.0 386.3h0.85v0.85h-0.85zM80.3 390.6h0.85v0.85h-0.85zM72.3 389.6h0.85v0.85h-0.85zM89.1 380.1h0.85v0.85h-0.85zM80.6 381.5h0.85v0.85h-0.85zM67.3 384.4h0.85v0.85h-0.85zM86.0 384.1h0.85v0.85h-0.85zM83.7 386.5h0.85v0.85h-0.85zM63.8 382.7h0.85v0.85h-0.85zM89.5 395.0h0.85v0.85h-0.85zM70.3 376.1h0.85v0.85h-0.85zM84.3 384.9h0.85v0.85h-0.85zM82.2 383.3h0.85v0.85h-0.85zM87.3 390.6h0.85v0.85h-0.85zM77.8 385.7h0.85v0.85h-0.85zM80.2 389.3h0.85v0.85h-0.85zM83.6 388.2h0.85v0.85h-0.85zM86.9 387.3h0.85v0.85h-0.85zM76.9 390.5h0.85v0.85h-0.85zM77.0 378.4h0.85v0.85h-0.85zM73.5 385.4h0.85v0.85h-0.85zM76.8 383.1h0.85v0.85h-0.85zM82.8 388.7h0.85v0.85h-0.85zM78.7 383.1h0.85v0.85h-0.85zM82.3 391.2h0.85v0.85h-0.85zM69.7 381.4h0.85v0.85h-0.85zM71.4 380.7h0.85v0.85h-0.85zM80.3 380.3h0.85v0.85h-0.85zM72.1 389.2h0.85v0.85h-0.85zM89.9 392.6h0.85v0.85h-0.85zM87.6 383.9h0.85v0.85h-0.85zM74.5 385.2h0.85v0.85h-0.85zM88.0 384.0h0.85v0.85h-0.85zM72.4 391.5h0.85v0.85h-0.85zM68.2 392.9h0.85v0.85h-0.85zM71.4 388.6h0.85v0.85h-0.85zM77.2 392.4h0.85v0.85h-0.85zM77.1 385.9h0.85v0.85h-0.85zM84.9 384.4h0.85v0.85h-0.85zM69.6 380.7h0.85v0.85h-0.85zM73.6 386.0h0.85v0.85h-0.85zM73.4 381.1h0.85v0.85h-0.85zM73.1 379.0h0.85v0.85h-0.85zM92.3 374.3h0.85v0.85h-0.85zM73.1 384.5h0.85v0.85h-0.85zM68.9 393.6h0.85v0.85h-0.85zM77.8 385.8h0.85v0.85h-0.85zM77.4 384.1h0.85v0.85h-0.85zM74.0 391.6h0.85v0.85h-0.85zM73.0 380.5h0.85v0.85h-0.85zM86.6 380.1h0.85v0.85h-0.85zM79.7 395.4h0.85v0.85h-0.85zM67.8 394.4h0.85v0.85h-0.85zM74.5 381.3h0.85v0.85h-0.85zM88.5 396.5h0.85v0.85h-0.85zM80.1 386.7h0.85v0.85h-0.85zM81.3 385.4h0.85v0.85h-0.85zM83.0 386.6h0.85v0.85h-0.85zM74.3 379.6h0.85v0.85h-0.85zM61.2 384.7h0.85v0.85h-0.85zM75.3 385.9h0.85v0.85h-0.85zM85.1 386.5h0.85v0.85h-0.85zM86.7 388.0h0.85v0.85h-0.85zM89.7 386.3h0.85v0.85h-0.85zM75.9 389.5h0.85v0.85h-0.85zM71.2 391.4h0.85v0.85h-0.85zM76.5 382.0h0.85v0.85h-0.85zM86.7 396.2h0.85v0.85h-0.85zM71.7 382.3h0.85v0.85h-0.85zM62.3 381.3h0.85v0.85h-0.85zM75.4 378.3h0.85v0.85h-0.85zM83.1 384.5h0.85v0.85h-0.85zM92.1 391.5h0.85v0.85h-0.85zM78.2 382.5h0.85v0.85h-0.85zM84.9 386.4h0.85v0.85h-0.85zM72.2 382.2h0.85v0.85h-0.85zM74.9 392.3h0.85v0.85h-0.85zM67.5 387.6h0.85v0.85h-0.85zM81.2 385.3h0.85v0.85h-0.85zM76.1 391.4h0.85v0.85h-0.85zM77.7 392.7h0.85v0.85h-0.85zM84.9 387.0h0.85v0.85h-0.85zM75.1 384.9h0.85v0.85h-0.85z" fill="#000" opacity="0.45"/>
<line x1="95.1" y1="344.4" x2="95.1" y2="435" stroke="#454545" stroke-width="1.1" />
<line x1="56.6" y1="397.7" x2="147.6" y2="397.7" stroke="#454545" stroke-width="1.1" />
<line x1="54.0" y1="434.4" x2="56.6" y2="434.4" stroke="#222" stroke-width="0.9" />
<line x1="55.1" y1="430.6930306248235" x2="56.6" y2="430.6930306248235" stroke="#333" stroke-width="0.55" />
<line x1="55.1" y1="428.52459254902357" x2="56.6" y2="428.52459254902357" stroke="#333" stroke-width="0.55" />
<line x1="55.1" y1="426.9860612496471" x2="56.6" y2="426.9860612496471" stroke="#333" stroke-width="0.55" />
<line x1="55.1" y1="425.7926836608907" x2="56.6" y2="425.7926836608907" stroke="#333" stroke-width="0.55" />
<line x1="55.1" y1="424.8176231738471" x2="56.6" y2="424.8176231738471" stroke="#333" stroke-width="0.55" />
<line x1="55.1" y1="423.9932212786816" x2="56.6" y2="423.9932212786816" stroke="#333" stroke-width="0.55" />
<line x1="55.1" y1="423.2790918744706" x2="56.6" y2="423.2790918744706" stroke="#333" stroke-width="0.55" />
<line x1="55.1" y1="422.64918509804716" x2="56.6" y2="422.64918509804716" stroke="#333" stroke-width="0.55" />
<text x="53.4" y="436.0" font-size="4.5" fill="#5a5a5a" text-anchor="end">10<tspan dy="-1.7" font-size="3.1">0</tspan></text>
<line x1="54.0" y1="422.0857142857143" x2="56.6" y2="422.0857142857143" stroke="#222" stroke-width="0.9" />
<line x1="55.1" y1="418.3787449105378" x2="56.6" y2="418.3787449105378" stroke="#333" stroke-width="0.55" />
<line x1="55.1" y1="416.2103068347379" x2="56.6" y2="416.2103068347379" stroke="#333" stroke-width="0.55" />
<line x1="55.1" y1="414.6717755353614" x2="56.6" y2="414.6717755353614" stroke="#333" stroke-width="0.55" />
<line x1="55.1" y1="413.478397946605" x2="56.6" y2="413.478397946605" stroke="#333" stroke-width="0.55" />
<line x1="55.1" y1="412.5033374595614" x2="56.6" y2="412.5033374595614" stroke="#333" stroke-width="0.55" />
<line x1="55.1" y1="411.6789355643959" x2="56.6" y2="411.6789355643959" stroke="#333" stroke-width="0.55" />
<line x1="55.1" y1="410.96480616018493" x2="56.6" y2="410.96480616018493" stroke="#333" stroke-width="0.55" />
<line x1="55.1" y1="410.33489938376147" x2="56.6" y2="410.33489938376147" stroke="#333" stroke-width="0.55" />
<text x="53.4" y="423.7" font-size="4.5" fill="#5a5a5a" text-anchor="end">10<tspan dy="-1.7" font-size="3.1">1</tspan></text>
<line x1="54.0" y1="409.77142857142854" x2="56.6" y2="409.77142857142854" stroke="#222" stroke-width="0.9" />
<line x1="55.1" y1="406.0644591962521" x2="56.6" y2="406.0644591962521" stroke="#333" stroke-width="0.55" />
<line x1="55.1" y1="403.89602112045213" x2="56.6" y2="403.89602112045213" stroke="#333" stroke-width="0.55" />
<line x1="55.1" y1="402.35748982107566" x2="56.6" y2="402.35748982107566" stroke="#333" stroke-width="0.55" />
<line x1="55.1" y1="401.16411223231927" x2="56.6" y2="401.16411223231927" stroke="#333" stroke-width="0.55" />
<line x1="55.1" y1="400.18905174527566" x2="56.6" y2="400.18905174527566" stroke="#333" stroke-width="0.55" />
<line x1="55.1" y1="399.36464985011014" x2="56.6" y2="399.36464985011014" stroke="#333" stroke-width="0.55" />
<line x1="55.1" y1="398.6505204458992" x2="56.6" y2="398.6505204458992" stroke="#333" stroke-width="0.55" />
<line x1="55.1" y1="398.0206136694757" x2="56.6" y2="398.0206136694757" stroke="#333" stroke-width="0.55" />
<text x="53.4" y="411.4" font-size="4.5" fill="#5a5a5a" text-anchor="end">10<tspan dy="-1.7" font-size="3.1">2</tspan></text>
<line x1="54.0" y1="397.45714285714286" x2="56.6" y2="397.45714285714286" stroke="#222" stroke-width="0.9" />
<line x1="55.1" y1="393.7501734819664" x2="56.6" y2="393.7501734819664" stroke="#333" stroke-width="0.55" />
<line x1="55.1" y1="391.58173540616644" x2="56.6" y2="391.58173540616644" stroke="#333" stroke-width="0.55" />
<line x1="55.1" y1="390.04320410679" x2="56.6" y2="390.04320410679" stroke="#333" stroke-width="0.55" />
<line x1="55.1" y1="388.8498265180336" x2="56.6" y2="388.8498265180336" stroke="#333" stroke-width="0.55" />
<line x1="55.1" y1="387.87476603099" x2="56.6" y2="387.87476603099" stroke="#333" stroke-width="0.55" />
<line x1="55.1" y1="387.05036413582445" x2="56.6" y2="387.05036413582445" stroke="#333" stroke-width="0.55" />
<line x1="55.1" y1="386.3362347316135" x2="56.6" y2="386.3362347316135" stroke="#333" stroke-width="0.55" />
<line x1="55.1" y1="385.70632795519003" x2="56.6" y2="385.70632795519003" stroke="#333" stroke-width="0.55" />
<text x="53.4" y="399.1" font-size="4.5" fill="#5a5a5a" text-anchor="end">10<tspan dy="-1.7" font-size="3.1">3</tspan></text>
<line x1="54.0" y1="385.1428571428571" x2="56.6" y2="385.1428571428571" stroke="#222" stroke-width="0.9" />
<line x1="55.1" y1="381.43588776768064" x2="56.6" y2="381.43588776768064" stroke="#333" stroke-width="0.55" />
<line x1="55.1" y1="379.2674496918807" x2="56.6" y2="379.2674496918807" stroke="#333" stroke-width="0.55" />
<line x1="55.1" y1="377.7289183925042" x2="56.6" y2="377.7289183925042" stroke="#333" stroke-width="0.55" />
<line x1="55.1" y1="376.53554080374784" x2="56.6" y2="376.53554080374784" stroke="#333" stroke-width="0.55" />
<line x1="55.1" y1="375.56048031670423" x2="56.6" y2="375.56048031670423" stroke="#333" stroke-width="0.55" />
<line x1="55.1" y1="374.7360784215387" x2="56.6" y2="374.7360784215387" stroke="#333" stroke-width="0.55" />
<line x1="55.1" y1="374.02194901732776" x2="56.6" y2="374.02194901732776" stroke="#333" stroke-width="0.55" />
<line x1="55.1" y1="373.3920422409043" x2="56.6" y2="373.3920422409043" stroke="#333" stroke-width="0.55" />
<text x="53.4" y="386.7" font-size="4.5" fill="#5a5a5a" text-anchor="end">10<tspan dy="-1.7" font-size="3.1">4</tspan></text>
<line x1="54.0" y1="372.8285714285714" x2="56.6" y2="372.8285714285714" stroke="#222" stroke-width="0.9" />
<line x1="55.1" y1="369.12160205339495" x2="56.6" y2="369.12160205339495" stroke="#333" stroke-width="0.55" />
<line x1="55.1" y1="366.953163977595" x2="56.6" y2="366.953163977595" stroke="#333" stroke-width="0.55" />
<line x1="55.1" y1="365.41463267821854" x2="56.6" y2="365.41463267821854" stroke="#333" stroke-width="0.55" />
<line x1="55.1" y1="364.22125508946215" x2="56.6" y2="364.22125508946215" stroke="#333" stroke-width="0.55" />
<line x1="55.1" y1="363.24619460241854" x2="56.6" y2="363.24619460241854" stroke="#333" stroke-width="0.55" />
<line x1="55.1" y1="362.421792707253" x2="56.6" y2="362.421792707253" stroke="#333" stroke-width="0.55" />
<line x1="55.1" y1="361.70766330304207" x2="56.6" y2="361.70766330304207" stroke="#333" stroke-width="0.55" />
<line x1="55.1" y1="361.0777565266186" x2="56.6" y2="361.0777565266186" stroke="#333" stroke-width="0.55" />
<text x="53.4" y="374.4" font-size="4.5" fill="#5a5a5a" text-anchor="end">10<tspan dy="-1.7" font-size="3.1">5</tspan></text>
<line x1="54.0" y1="360.51428571428573" x2="56.6" y2="360.51428571428573" stroke="#222" stroke-width="0.9" />
<line x1="55.1" y1="356.80731633910926" x2="56.6" y2="356.80731633910926" stroke="#333" stroke-width="0.55" />
<line x1="55.1" y1="354.6388782633093" x2="56.6" y2="354.6388782633093" stroke="#333" stroke-width="0.55" />
<line x1="55.1" y1="353.10034696393285" x2="56.6" y2="353.10034696393285" stroke="#333" stroke-width="0.55" />
<line x1="55.1" y1="351.90696937517646" x2="56.6" y2="351.90696937517646" stroke="#333" stroke-width="0.55" />
<line x1="55.1" y1="350.93190888813285" x2="56.6" y2="350.93190888813285" stroke="#333" stroke-width="0.55" />
<line x1="55.1" y1="350.10750699296733" x2="56.6" y2="350.10750699296733" stroke="#333" stroke-width="0.55" />
<line x1="55.1" y1="349.3933775887564" x2="56.6" y2="349.3933775887564" stroke="#333" stroke-width="0.55" />
<line x1="55.1" y1="348.7634708123329" x2="56.6" y2="348.7634708123329" stroke="#333" stroke-width="0.55" />
<text x="53.4" y="362.1" font-size="4.5" fill="#5a5a5a" text-anchor="end">10<tspan dy="-1.7" font-size="3.1">6</tspan></text>
<line x1="54.0" y1="348.2" x2="56.6" y2="348.2" stroke="#222" stroke-width="0.9" />
<text x="53.4" y="349.8" font-size="4.5" fill="#5a5a5a" text-anchor="end">10<tspan dy="-1.7" font-size="3.1">7</tspan></text>
<line x1="56.300000000000004" y1="344.9" x2="56.300000000000004" y2="435" stroke="#888" stroke-width="0.5" />
<line x1="57.6" y1="435" x2="57.6" y2="437.6" stroke="#222" stroke-width="0.9" />
<line x1="61.29836851815749" y1="435" x2="61.29836851815749" y2="436.5" stroke="#333" stroke-width="0.6" />
<line x1="63.461775415127285" y1="435" x2="63.461775415127285" y2="436.5" stroke="#333" stroke-width="0.6" />
<line x1="64.99673703631497" y1="435" x2="64.99673703631497" y2="436.5" stroke="#333" stroke-width="0.6" />
<line x1="66.1873457675568" y1="435" x2="66.1873457675568" y2="436.5" stroke="#333" stroke-width="0.6" />
<line x1="67.16014393328477" y1="435" x2="67.16014393328477" y2="436.5" stroke="#333" stroke-width="0.6" />
<line x1="67.9826330630323" y1="435" x2="67.9826330630323" y2="436.5" stroke="#333" stroke-width="0.6" />
<line x1="68.69510555447245" y1="435" x2="68.69510555447245" y2="436.5" stroke="#333" stroke-width="0.6" />
<line x1="69.32355083025456" y1="435" x2="69.32355083025456" y2="436.5" stroke="#333" stroke-width="0.6" />
<text x="56.6" y="444.0" font-size="4.5" fill="#5a5a5a" text-anchor="start">10<tspan dy="-1.7" font-size="3.1">0</tspan></text>
<line x1="69.88571428571429" y1="435" x2="69.88571428571429" y2="437.6" stroke="#222" stroke-width="0.9" />
<line x1="73.58408280387177" y1="435" x2="73.58408280387177" y2="436.5" stroke="#333" stroke-width="0.6" />
<line x1="75.74748970084157" y1="435" x2="75.74748970084157" y2="436.5" stroke="#333" stroke-width="0.6" />
<line x1="77.28245132202926" y1="435" x2="77.28245132202926" y2="436.5" stroke="#333" stroke-width="0.6" />
<line x1="78.47306005327108" y1="435" x2="78.47306005327108" y2="436.5" stroke="#333" stroke-width="0.6" />
<line x1="79.44585821899905" y1="435" x2="79.44585821899905" y2="436.5" stroke="#333" stroke-width="0.6" />
<line x1="80.26834734874659" y1="435" x2="80.26834734874659" y2="436.5" stroke="#333" stroke-width="0.6" />
<line x1="80.98081984018674" y1="435" x2="80.98081984018674" y2="436.5" stroke="#333" stroke-width="0.6" />
<line x1="81.60926511596885" y1="435" x2="81.60926511596885" y2="436.5" stroke="#333" stroke-width="0.6" />
<line x1="82.17142857142858" y1="435" x2="82.17142857142858" y2="437.6" stroke="#222" stroke-width="0.9" />
<line x1="85.86979708958606" y1="435" x2="85.86979708958606" y2="436.5" stroke="#333" stroke-width="0.6" />
<line x1="88.03320398655586" y1="435" x2="88.03320398655586" y2="436.5" stroke="#333" stroke-width="0.6" />
<line x1="89.56816560774354" y1="435" x2="89.56816560774354" y2="436.5" stroke="#333" stroke-width="0.6" />
<line x1="90.75877433898538" y1="435" x2="90.75877433898538" y2="436.5" stroke="#333" stroke-width="0.6" />
<line x1="91.73157250471334" y1="435" x2="91.73157250471334" y2="436.5" stroke="#333" stroke-width="0.6" />
<line x1="92.55406163446088" y1="435" x2="92.55406163446088" y2="436.5" stroke="#333" stroke-width="0.6" />
<line x1="93.26653412590103" y1="435" x2="93.26653412590103" y2="436.5" stroke="#333" stroke-width="0.6" />
<line x1="93.89497940168314" y1="435" x2="93.89497940168314" y2="436.5" stroke="#333" stroke-width="0.6" />
<text x="81.2" y="444.0" font-size="4.5" fill="#5a5a5a" text-anchor="start">10<tspan dy="-1.7" font-size="3.1">2</tspan></text>
<line x1="94.45714285714286" y1="435" x2="94.45714285714286" y2="437.6" stroke="#222" stroke-width="0.9" />
<line x1="98.15551137530034" y1="435" x2="98.15551137530034" y2="436.5" stroke="#333" stroke-width="0.6" />
<line x1="100.31891827227014" y1="435" x2="100.31891827227014" y2="436.5" stroke="#333" stroke-width="0.6" />
<line x1="101.85387989345782" y1="435" x2="101.85387989345782" y2="436.5" stroke="#333" stroke-width="0.6" />
<line x1="103.04448862469965" y1="435" x2="103.04448862469965" y2="436.5" stroke="#333" stroke-width="0.6" />
<line x1="104.01728679042762" y1="435" x2="104.01728679042762" y2="436.5" stroke="#333" stroke-width="0.6" />
<line x1="104.83977592017516" y1="435" x2="104.83977592017516" y2="436.5" stroke="#333" stroke-width="0.6" />
<line x1="105.55224841161531" y1="435" x2="105.55224841161531" y2="436.5" stroke="#333" stroke-width="0.6" />
<line x1="106.18069368739742" y1="435" x2="106.18069368739742" y2="436.5" stroke="#333" stroke-width="0.6" />
<line x1="106.74285714285715" y1="435" x2="106.74285714285715" y2="437.6" stroke="#222" stroke-width="0.9" />
<line x1="110.44122566101463" y1="435" x2="110.44122566101463" y2="436.5" stroke="#333" stroke-width="0.6" />
<line x1="112.60463255798443" y1="435" x2="112.60463255798443" y2="436.5" stroke="#333" stroke-width="0.6" />
<line x1="114.13959417917212" y1="435" x2="114.13959417917212" y2="436.5" stroke="#333" stroke-width="0.6" />
<line x1="115.33020291041395" y1="435" x2="115.33020291041395" y2="436.5" stroke="#333" stroke-width="0.6" />
<line x1="116.30300107614191" y1="435" x2="116.30300107614191" y2="436.5" stroke="#333" stroke-width="0.6" />
<line x1="117.12549020588945" y1="435" x2="117.12549020588945" y2="436.5" stroke="#333" stroke-width="0.6" />
<line x1="117.8379626973296" y1="435" x2="117.8379626973296" y2="436.5" stroke="#333" stroke-width="0.6" />
<line x1="118.46640797311171" y1="435" x2="118.46640797311171" y2="436.5" stroke="#333" stroke-width="0.6" />
<text x="105.7" y="444.0" font-size="4.5" fill="#5a5a5a" text-anchor="start">10<tspan dy="-1.7" font-size="3.1">4</tspan></text>
<line x1="119.02857142857144" y1="435" x2="119.02857142857144" y2="437.6" stroke="#222" stroke-width="0.9" />
<line x1="122.72693994672892" y1="435" x2="122.72693994672892" y2="436.5" stroke="#333" stroke-width="0.6" />
<line x1="124.89034684369872" y1="435" x2="124.89034684369872" y2="436.5" stroke="#333" stroke-width="0.6" />
<line x1="126.4253084648864" y1="435" x2="126.4253084648864" y2="436.5" stroke="#333" stroke-width="0.6" />
<line x1="127.61591719612824" y1="435" x2="127.61591719612824" y2="436.5" stroke="#333" stroke-width="0.6" />
<line x1="128.5887153618562" y1="435" x2="128.5887153618562" y2="436.5" stroke="#333" stroke-width="0.6" />
<line x1="129.41120449160374" y1="435" x2="129.41120449160374" y2="436.5" stroke="#333" stroke-width="0.6" />
<line x1="130.12367698304388" y1="435" x2="130.12367698304388" y2="436.5" stroke="#333" stroke-width="0.6" />
<line x1="130.752122258826" y1="435" x2="130.752122258826" y2="436.5" stroke="#333" stroke-width="0.6" />
<line x1="131.31428571428572" y1="435" x2="131.31428571428572" y2="437.6" stroke="#222" stroke-width="0.9" />
<line x1="135.0126542324432" y1="435" x2="135.0126542324432" y2="436.5" stroke="#333" stroke-width="0.6" />
<line x1="137.176061129413" y1="435" x2="137.176061129413" y2="436.5" stroke="#333" stroke-width="0.6" />
<line x1="138.71102275060068" y1="435" x2="138.71102275060068" y2="436.5" stroke="#333" stroke-width="0.6" />
<line x1="139.90163148184251" y1="435" x2="139.90163148184251" y2="436.5" stroke="#333" stroke-width="0.6" />
<line x1="140.87442964757048" y1="435" x2="140.87442964757048" y2="436.5" stroke="#333" stroke-width="0.6" />
<line x1="141.69691877731802" y1="435" x2="141.69691877731802" y2="436.5" stroke="#333" stroke-width="0.6" />
<line x1="142.40939126875816" y1="435" x2="142.40939126875816" y2="436.5" stroke="#333" stroke-width="0.6" />
<line x1="143.03783654454028" y1="435" x2="143.03783654454028" y2="436.5" stroke="#333" stroke-width="0.6" />
<text x="130.3" y="444.0" font-size="4.5" fill="#5a5a5a" text-anchor="start">10<tspan dy="-1.7" font-size="3.1">6</tspan></text>
<line x1="143.6" y1="435" x2="143.6" y2="437.6" stroke="#222" stroke-width="0.9" />
<line x1="56.6" y1="435.3" x2="147.1" y2="435.3" stroke="#888" stroke-width="0.5" />
<text x="59.5" y="356.4" font-size="8.4" fill="#1a1a1a" stroke="#1a1a1a" stroke-width="0.2" text-anchor="start" transform="translate(59.5,0) scale(0.88,1) translate(-59.5,0)">98.8</text>
<text x="146.2" y="356.7" font-size="8.4" fill="#1a1a1a" stroke="#1a1a1a" stroke-width="0.2" text-anchor="end" transform="translate(146.2,0) scale(0.88,1) translate(-146.2,0)">0.56</text>
<text x="59.8" y="431.8" font-size="8.4" fill="#1a1a1a" stroke="#1a1a1a" stroke-width="0" text-anchor="start" transform="translate(59.8,0) scale(0.88,1) translate(-59.8,0)">0</text>
<text x="139.2" y="432" font-size="8.4" fill="#1a1a1a" stroke="#1a1a1a" stroke-width="0" text-anchor="end" transform="translate(139.2,0) scale(0.88,1) translate(-139.2,0)">0</text>
<rect x="154.9" y="344.8" width="89.69999999999999" height="89.69999999999999" fill="#fff" stroke="#c4c4c4" stroke-width="0.9"/>
<path d="M183.6 390.5h0.85v0.85h-0.85zM183.8 387.1h0.85v0.85h-0.85zM180.1 387.2h0.85v0.85h-0.85zM190.9 390.7h0.85v0.85h-0.85zM190.5 390.0h0.85v0.85h-0.85zM187.1 389.4h0.85v0.85h-0.85zM176.2 391.4h0.85v0.85h-0.85zM187.7 390.8h0.85v0.85h-0.85zM176.0 380.5h0.85v0.85h-0.85zM180.3 386.2h0.85v0.85h-0.85zM186.6 388.4h0.85v0.85h-0.85zM187.8 386.0h0.85v0.85h-0.85zM186.6 390.3h0.85v0.85h-0.85zM181.5 395.4h0.85v0.85h-0.85zM188.0 393.7h0.85v0.85h-0.85zM181.7 385.1h0.85v0.85h-0.85zM183.2 387.9h0.85v0.85h-0.85zM188.4 389.8h0.85v0.85h-0.85zM182.6 384.3h0.85v0.85h-0.85zM182.2 393.4h0.85v0.85h-0.85zM180.7 389.2h0.85v0.85h-0.85zM187.3 382.5h0.85v0.85h-0.85zM185.3 394.0h0.85v0.85h-0.85zM174.3 386.3h0.85v0.85h-0.85zM184.4 385.0h0.85v0.85h-0.85zM187.6 388.4h0.85v0.85h-0.85zM177.2 391.3h0.85v0.85h-0.85zM188.5 392.7h0.85v0.85h-0.85zM192.6 390.6h0.85v0.85h-0.85zM185.6 383.1h0.85v0.85h-0.85zM188.3 386.2h0.85v0.85h-0.85zM182.6 383.0h0.85v0.85h-0.85zM179.9 385.9h0.85v0.85h-0.85zM191.8 380.6h0.85v0.85h-0.85zM177.3 388.9h0.85v0.85h-0.85zM192.6 391.5h0.85v0.85h-0.85zM174.9 377.2h0.85v0.85h-0.85zM186.9 385.6h0.85v0.85h-0.85zM179.1 392.1h0.85v0.85h-0.85zM190.8 389.6h0.85v0.85h-0.85zM186.3 390.4h0.85v0.85h-0.85zM193.4 391.8h0.85v0.85h-0.85zM187.7 391.0h0.85v0.85h-0.85zM176.7 393.2h0.85v0.85h-0.85zM190.1 391.1h0.85v0.85h-0.85zM174.5 385.0h0.85v0.85h-0.85zM189.5 381.3h0.85v0.85h-0.85zM184.0 392.7h0.85v0.85h-0.85zM178.1 394.7h0.85v0.85h-0.85zM187.9 388.1h0.85v0.85h-0.85zM186.7 391.4h0.85v0.85h-0.85zM185.6 393.3h0.85v0.85h-0.85zM181.5 386.5h0.85v0.85h-0.85zM190.5 389.0h0.85v0.85h-0.85zM180.3 392.1h0.85v0.85h-0.85zM192.8 387.3h0.85v0.85h-0.85zM177.7 387.4h0.85v0.85h-0.85zM184.2 387.2h0.85v0.85h-0.85zM192.4 384.8h0.85v0.85h-0.85zM191.7 383.7h0.85v0.85h-0.85zM180.8 390.8h0.85v0.85h-0.85zM191.0 392.6h0.85v0.85h-0.85zM186.8 389.2h0.85v0.85h-0.85zM185.8 391.0h0.85v0.85h-0.85zM184.1 389.6h0.85v0.85h-0.85zM188.0 388.7h0.85v0.85h-0.85zM189.0 391.2h0.85v0.85h-0.85zM195.7 390.7h0.85v0.85h-0.85zM182.7 386.8h0.85v0.85h-0.85zM184.9 392.4h0.85v0.85h-0.85zM183.2 390.0h0.85v0.85h-0.85zM194.7 378.6h0.85v0.85h-0.85zM179.0 389.0h0.85v0.85h-0.85zM187.1 389.7h0.85v0.85h-0.85zM182.7 391.1h0.85v0.85h-0.85zM186.5 386.4h0.85v0.85h-0.85zM197.9 391.0h0.85v0.85h-0.85zM182.1 387.9h0.85v0.85h-0.85zM183.8 388.1h0.85v0.85h-0.85zM170.5 385.3h0.85v0.85h-0.85zM190.3 384.0h0.85v0.85h-0.85zM184.6 392.5h0.85v0.85h-0.85zM189.5 395.1h0.85v0.85h-0.85zM176.0 386.3h0.85v0.85h-0.85zM183.2 391.0h0.85v0.85h-0.85zM190.8 377.7h0.85v0.85h-0.85zM190.8 382.9h0.85v0.85h-0.85zM188.6 382.6h0.85v0.85h-0.85zM185.9 393.6h0.85v0.85h-0.85zM184.2 389.2h0.85v0.85h-0.85zM189.2 389.4h0.85v0.85h-0.85zM184.5 394.9h0.85v0.85h-0.85zM190.6 387.7h0.85v0.85h-0.85zM199.6 384.9h0.85v0.85h-0.85zM189.8 387.8h0.85v0.85h-0.85zM185.7 391.5h0.85v0.85h-0.85zM186.2 391.3h0.85v0.85h-0.85zM176.9 381.6h0.85v0.85h-0.85zM188.3 384.7h0.85v0.85h-0.85zM179.6 381.9h0.85v0.85h-0.85zM191.7 392.2h0.85v0.85h-0.85zM192.8 385.2h0.85v0.85h-0.85zM185.0 383.7h0.85v0.85h-0.85zM189.1 395.5h0.85v0.85h-0.85zM180.3 394.6h0.85v0.85h-0.85zM190.2 388.2h0.85v0.85h-0.85zM174.5 393.6h0.85v0.85h-0.85zM184.5 385.9h0.85v0.85h-0.85zM187.1 390.4h0.85v0.85h-0.85zM192.9 384.9h0.85v0.85h-0.85zM191.0 395.2h0.85v0.85h-0.85zM192.7 388.4h0.85v0.85h-0.85zM181.1 392.4h0.85v0.85h-0.85zM185.6 389.1h0.85v0.85h-0.85zM192.5 388.0h0.85v0.85h-0.85zM172.8 385.9h0.85v0.85h-0.85zM175.2 391.1h0.85v0.85h-0.85zM186.7 386.1h0.85v0.85h-0.85zM184.9 392.0h0.85v0.85h-0.85zM185.4 394.1h0.85v0.85h-0.85zM184.7 392.8h0.85v0.85h-0.85zM192.9 395.9h0.85v0.85h-0.85zM181.4 391.9h0.85v0.85h-0.85zM175.1 383.2h0.85v0.85h-0.85zM174.6 392.1h0.85v0.85h-0.85zM178.5 387.9h0.85v0.85h-0.85zM184.0 388.3h0.85v0.85h-0.85zM181.9 389.2h0.85v0.85h-0.85zM194.5 389.4h0.85v0.85h-0.85zM187.8 392.9h0.85v0.85h-0.85zM184.0 383.2h0.85v0.85h-0.85zM182.1 392.8h0.85v0.85h-0.85zM176.3 385.3h0.85v0.85h-0.85zM190.3 392.2h0.85v0.85h-0.85zM185.0 391.9h0.85v0.85h-0.85zM185.9 383.6h0.85v0.85h-0.85zM176.7 385.2h0.85v0.85h-0.85zM189.9 386.5h0.85v0.85h-0.85zM180.2 384.9h0.85v0.85h-0.85zM176.9 387.4h0.85v0.85h-0.85zM178.7 389.5h0.85v0.85h-0.85zM172.5 388.9h0.85v0.85h-0.85zM181.6 380.1h0.85v0.85h-0.85zM188.8 387.7h0.85v0.85h-0.85zM173.2 383.9h0.85v0.85h-0.85zM186.5 386.7h0.85v0.85h-0.85zM189.1 392.0h0.85v0.85h-0.85zM188.5 390.1h0.85v0.85h-0.85zM192.1 391.8h0.85v0.85h-0.85zM187.4 380.0h0.85v0.85h-0.85zM189.8 394.3h0.85v0.85h-0.85zM183.4 386.4h0.85v0.85h-0.85zM195.3 382.0h0.85v0.85h-0.85zM180.1 391.0h0.85v0.85h-0.85zM195.0 388.8h0.85v0.85h-0.85zM188.0 392.5h0.85v0.85h-0.85zM180.2 387.7h0.85v0.85h-0.85zM186.6 392.1h0.85v0.85h-0.85zM184.8 387.7h0.85v0.85h-0.85zM179.6 386.6h0.85v0.85h-0.85zM189.7 389.3h0.85v0.85h-0.85zM180.5 384.6h0.85v0.85h-0.85zM199.1 394.4h0.85v0.85h-0.85zM188.4 377.9h0.85v0.85h-0.85zM188.3 390.8h0.85v0.85h-0.85zM193.9 391.0h0.85v0.85h-0.85zM184.6 390.7h0.85v0.85h-0.85zM174.7 392.0h0.85v0.85h-0.85zM186.7 385.7h0.85v0.85h-0.85zM192.0 396.6h0.85v0.85h-0.85zM177.6 385.1h0.85v0.85h-0.85zM186.5 389.4h0.85v0.85h-0.85zM182.9 384.3h0.85v0.85h-0.85zM196.2 393.7h0.85v0.85h-0.85zM178.7 382.4h0.85v0.85h-0.85zM194.0 393.3h0.85v0.85h-0.85zM194.7 392.7h0.85v0.85h-0.85zM180.4 389.2h0.85v0.85h-0.85zM173.6 384.5h0.85v0.85h-0.85zM184.7 390.7h0.85v0.85h-0.85zM181.1 387.7h0.85v0.85h-0.85zM187.4 390.3h0.85v0.85h-0.85zM188.4 389.6h0.85v0.85h-0.85zM183.3 391.7h0.85v0.85h-0.85zM185.3 385.1h0.85v0.85h-0.85zM181.7 388.2h0.85v0.85h-0.85zM184.4 389.1h0.85v0.85h-0.85zM185.0 389.2h0.85v0.85h-0.85zM184.3 383.2h0.85v0.85h-0.85zM187.2 393.1h0.85v0.85h-0.85zM187.3 387.9h0.85v0.85h-0.85zM187.4 384.7h0.85v0.85h-0.85zM175.0 388.0h0.85v0.85h-0.85zM180.1 391.2h0.85v0.85h-0.85zM179.3 377.1h0.85v0.85h-0.85zM179.5 394.7h0.85v0.85h-0.85zM183.0 382.6h0.85v0.85h-0.85zM181.0 390.4h0.85v0.85h-0.85zM187.6 389.4h0.85v0.85h-0.85zM192.9 392.1h0.85v0.85h-0.85zM184.9 391.0h0.85v0.85h-0.85zM193.8 393.3h0.85v0.85h-0.85zM190.4 384.4h0.85v0.85h-0.85zM184.2 391.5h0.85v0.85h-0.85zM183.4 392.8h0.85v0.85h-0.85zM188.2 392.5h0.85v0.85h-0.85zM191.6 388.1h0.85v0.85h-0.85zM183.2 392.0h0.85v0.85h-0.85zM190.2 388.9h0.85v0.85h-0.85zM178.8 388.8h0.85v0.85h-0.85zM186.9 393.4h0.85v0.85h-0.85zM189.1 388.9h0.85v0.85h-0.85zM189.5 391.1h0.85v0.85h-0.85zM186.1 388.8h0.85v0.85h-0.85zM183.7 391.3h0.85v0.85h-0.85zM179.4 385.4h0.85v0.85h-0.85zM185.0 382.4h0.85v0.85h-0.85zM182.7 379.9h0.85v0.85h-0.85zM181.4 390.6h0.85v0.85h-0.85zM188.0 388.5h0.85v0.85h-0.85zM183.8 382.5h0.85v0.85h-0.85zM194.7 391.4h0.85v0.85h-0.85zM190.8 385.3h0.85v0.85h-0.85zM184.0 380.8h0.85v0.85h-0.85zM189.1 392.7h0.85v0.85h-0.85zM174.9 387.5h0.85v0.85h-0.85zM188.3 381.4h0.85v0.85h-0.85zM175.3 383.3h0.85v0.85h-0.85zM181.7 382.4h0.85v0.85h-0.85zM185.2 389.6h0.85v0.85h-0.85zM188.4 391.7h0.85v0.85h-0.85zM193.0 394.0h0.85v0.85h-0.85zM178.0 385.8h0.85v0.85h-0.85zM179.4 383.6h0.85v0.85h-0.85zM184.6 388.5h0.85v0.85h-0.85zM187.6 382.1h0.85v0.85h-0.85zM178.4 387.9h0.85v0.85h-0.85zM183.9 387.1h0.85v0.85h-0.85zM184.7 385.3h0.85v0.85h-0.85zM188.7 390.3h0.85v0.85h-0.85zM184.5 385.7h0.85v0.85h-0.85zM184.1 377.1h0.85v0.85h-0.85zM179.8 388.2h0.85v0.85h-0.85zM177.0 388.7h0.85v0.85h-0.85zM185.8 382.8h0.85v0.85h-0.85zM183.7 387.1h0.85v0.85h-0.85zM187.4 391.3h0.85v0.85h-0.85zM184.8 384.9h0.85v0.85h-0.85zM184.2 388.2h0.85v0.85h-0.85zM188.9 390.0h0.85v0.85h-0.85zM181.2 382.5h0.85v0.85h-0.85zM183.0 385.2h0.85v0.85h-0.85zM179.1 387.5h0.85v0.85h-0.85zM182.4 388.7h0.85v0.85h-0.85zM187.8 387.0h0.85v0.85h-0.85zM197.3 388.1h0.85v0.85h-0.85zM190.8 389.5h0.85v0.85h-0.85zM190.9 379.0h0.85v0.85h-0.85zM181.0 389.2h0.85v0.85h-0.85zM186.7 394.0h0.85v0.85h-0.85zM189.1 392.8h0.85v0.85h-0.85zM187.7 388.1h0.85v0.85h-0.85zM187.7 384.2h0.85v0.85h-0.85zM191.3 384.7h0.85v0.85h-0.85zM186.3 397.5h0.85v0.85h-0.85zM183.8 388.5h0.85v0.85h-0.85zM191.2 389.1h0.85v0.85h-0.85zM180.7 389.2h0.85v0.85h-0.85zM188.1 391.7h0.85v0.85h-0.85zM180.9 395.5h0.85v0.85h-0.85zM193.8 389.3h0.85v0.85h-0.85zM186.4 386.8h0.85v0.85h-0.85zM192.5 386.1h0.85v0.85h-0.85zM188.6 386.8h0.85v0.85h-0.85zM181.3 391.2h0.85v0.85h-0.85zM192.1 389.0h0.85v0.85h-0.85zM181.4 391.6h0.85v0.85h-0.85zM184.7 389.8h0.85v0.85h-0.85zM193.1 393.9h0.85v0.85h-0.85zM182.2 397.8h0.85v0.85h-0.85zM185.0 391.8h0.85v0.85h-0.85zM181.6 388.0h0.85v0.85h-0.85zM175.7 395.2h0.85v0.85h-0.85zM192.2 384.0h0.85v0.85h-0.85zM177.0 381.1h0.85v0.85h-0.85zM191.2 387.1h0.85v0.85h-0.85zM184.7 387.2h0.85v0.85h-0.85zM184.4 383.9h0.85v0.85h-0.85zM185.1 382.5h0.85v0.85h-0.85zM184.6 389.8h0.85v0.85h-0.85zM187.5 387.7h0.85v0.85h-0.85zM180.2 388.8h0.85v0.85h-0.85zM182.4 394.8h0.85v0.85h-0.85zM189.1 388.3h0.85v0.85h-0.85zM182.5 385.4h0.85v0.85h-0.85zM180.0 386.6h0.85v0.85h-0.85zM186.6 390.8h0.85v0.85h-0.85zM188.0 397.5h0.85v0.85h-0.85zM181.3 388.3h0.85v0.85h-0.85zM199.8 381.9h0.85v0.85h-0.85zM182.2 389.0h0.85v0.85h-0.85zM185.8 390.3h0.85v0.85h-0.85zM183.7 389.9h0.85v0.85h-0.85zM185.3 391.7h0.85v0.85h-0.85zM175.0 384.0h0.85v0.85h-0.85zM185.0 384.2h0.85v0.85h-0.85zM179.5 390.7h0.85v0.85h-0.85zM181.6 390.9h0.85v0.85h-0.85zM189.0 390.1h0.85v0.85h-0.85zM187.7 388.3h0.85v0.85h-0.85zM177.5 387.8h0.85v0.85h-0.85zM187.4 386.5h0.85v0.85h-0.85zM184.5 391.6h0.85v0.85h-0.85zM180.3 390.8h0.85v0.85h-0.85zM194.9 387.0h0.85v0.85h-0.85zM185.8 387.9h0.85v0.85h-0.85zM193.2 390.5h0.85v0.85h-0.85zM189.8 386.0h0.85v0.85h-0.85zM184.9 388.5h0.85v0.85h-0.85zM175.6 393.8h0.85v0.85h-0.85zM189.8 381.6h0.85v0.85h-0.85zM188.9 388.3h0.85v0.85h-0.85zM187.4 390.2h0.85v0.85h-0.85zM177.1 387.0h0.85v0.85h-0.85zM192.9 386.7h0.85v0.85h-0.85zM179.6 382.4h0.85v0.85h-0.85zM178.5 389.4h0.85v0.85h-0.85zM194.0 391.0h0.85v0.85h-0.85zM186.3 397.9h0.85v0.85h-0.85zM182.2 385.5h0.85v0.85h-0.85zM187.8 391.0h0.85v0.85h-0.85zM179.6 383.2h0.85v0.85h-0.85zM186.5 389.7h0.85v0.85h-0.85zM178.1 387.1h0.85v0.85h-0.85zM182.1 390.2h0.85v0.85h-0.85zM184.4 388.1h0.85v0.85h-0.85zM183.1 392.8h0.85v0.85h-0.85zM192.4 387.6h0.85v0.85h-0.85zM189.5 385.7h0.85v0.85h-0.85zM185.4 391.7h0.85v0.85h-0.85zM193.0 387.5h0.85v0.85h-0.85zM184.6 389.3h0.85v0.85h-0.85zM177.1 387.9h0.85v0.85h-0.85zM181.4 389.8h0.85v0.85h-0.85zM179.0 379.8h0.85v0.85h-0.85zM185.2 389.6h0.85v0.85h-0.85zM182.1 392.0h0.85v0.85h-0.85zM183.6 385.9h0.85v0.85h-0.85zM187.5 382.1h0.85v0.85h-0.85zM181.4 388.1h0.85v0.85h-0.85zM189.5 388.2h0.85v0.85h-0.85zM186.6 385.9h0.85v0.85h-0.85zM186.6 395.6h0.85v0.85h-0.85zM181.6 388.3h0.85v0.85h-0.85zM185.9 392.9h0.85v0.85h-0.85zM178.4 379.2h0.85v0.85h-0.85zM188.2 392.1h0.85v0.85h-0.85zM186.1 389.6h0.85v0.85h-0.85zM189.9 390.4h0.85v0.85h-0.85zM193.8 384.0h0.85v0.85h-0.85zM183.0 373.9h0.85v0.85h-0.85zM189.3 387.3h0.85v0.85h-0.85zM189.9 397.9h0.85v0.85h-0.85zM185.0 387.4h0.85v0.85h-0.85zM182.4 384.8h0.85v0.85h-0.85zM181.7 390.9h0.85v0.85h-0.85zM185.2 388.8h0.85v0.85h-0.85zM184.1 392.2h0.85v0.85h-0.85zM187.6 388.1h0.85v0.85h-0.85zM188.5 388.1h0.85v0.85h-0.85zM178.9 394.1h0.85v0.85h-0.85zM187.5 384.7h0.85v0.85h-0.85zM190.7 390.4h0.85v0.85h-0.85zM176.7 394.6h0.85v0.85h-0.85zM186.8 392.4h0.85v0.85h-0.85zM186.0 388.0h0.85v0.85h-0.85zM176.8 391.9h0.85v0.85h-0.85zM185.2 387.3h0.85v0.85h-0.85zM186.9 389.0h0.85v0.85h-0.85zM188.6 387.2h0.85v0.85h-0.85zM184.8 379.5h0.85v0.85h-0.85zM182.8 391.1h0.85v0.85h-0.85zM192.1 387.5h0.85v0.85h-0.85zM184.4 395.1h0.85v0.85h-0.85zM183.3 391.4h0.85v0.85h-0.85zM193.9 389.4h0.85v0.85h-0.85zM191.5 386.0h0.85v0.85h-0.85zM186.1 388.3h0.85v0.85h-0.85zM185.6 393.3h0.85v0.85h-0.85zM197.7 386.7h0.85v0.85h-0.85zM182.0 390.3h0.85v0.85h-0.85zM179.4 390.1h0.85v0.85h-0.85zM188.0 387.6h0.85v0.85h-0.85zM187.8 382.2h0.85v0.85h-0.85zM189.0 382.4h0.85v0.85h-0.85zM181.3 385.9h0.85v0.85h-0.85zM182.9 391.9h0.85v0.85h-0.85zM185.4 386.9h0.85v0.85h-0.85zM187.9 395.3h0.85v0.85h-0.85zM185.0 390.0h0.85v0.85h-0.85zM191.6 390.1h0.85v0.85h-0.85zM196.7 381.1h0.85v0.85h-0.85zM184.8 390.2h0.85v0.85h-0.85zM190.1 391.7h0.85v0.85h-0.85zM183.6 384.0h0.85v0.85h-0.85zM185.5 392.9h0.85v0.85h-0.85zM179.2 383.7h0.85v0.85h-0.85zM184.9 380.4h0.85v0.85h-0.85zM183.6 386.6h0.85v0.85h-0.85zM187.4 385.8h0.85v0.85h-0.85zM180.3 386.5h0.85v0.85h-0.85zM184.7 385.7h0.85v0.85h-0.85zM185.1 391.6h0.85v0.85h-0.85zM191.3 396.1h0.85v0.85h-0.85zM180.8 386.4h0.85v0.85h-0.85zM171.8 395.4h0.85v0.85h-0.85zM181.2 388.1h0.85v0.85h-0.85zM187.8 383.0h0.85v0.85h-0.85zM187.5 388.6h0.85v0.85h-0.85zM175.3 389.0h0.85v0.85h-0.85zM191.3 381.2h0.85v0.85h-0.85zM189.3 389.7h0.85v0.85h-0.85zM187.5 390.5h0.85v0.85h-0.85zM191.9 388.1h0.85v0.85h-0.85zM189.6 387.2h0.85v0.85h-0.85zM188.9 385.4h0.85v0.85h-0.85zM184.4 395.7h0.85v0.85h-0.85zM187.4 388.0h0.85v0.85h-0.85zM178.9 384.7h0.85v0.85h-0.85zM186.0 392.5h0.85v0.85h-0.85zM187.3 390.9h0.85v0.85h-0.85zM184.8 394.1h0.85v0.85h-0.85zM182.9 386.0h0.85v0.85h-0.85zM189.7 389.1h0.85v0.85h-0.85zM183.5 386.0h0.85v0.85h-0.85zM183.6 391.0h0.85v0.85h-0.85zM186.9 383.6h0.85v0.85h-0.85zM187.3 389.4h0.85v0.85h-0.85zM179.7 391.3h0.85v0.85h-0.85zM183.5 387.0h0.85v0.85h-0.85zM189.2 394.4h0.85v0.85h-0.85zM181.4 390.0h0.85v0.85h-0.85zM180.4 397.8h0.85v0.85h-0.85zM182.4 393.3h0.85v0.85h-0.85zM181.6 391.6h0.85v0.85h-0.85zM196.8 378.8h0.85v0.85h-0.85zM182.7 390.4h0.85v0.85h-0.85zM184.5 385.7h0.85v0.85h-0.85zM196.4 389.7h0.85v0.85h-0.85zM176.3 391.4h0.85v0.85h-0.85zM175.9 392.6h0.85v0.85h-0.85zM181.9 388.9h0.85v0.85h-0.85zM191.7 389.5h0.85v0.85h-0.85zM177.6 380.8h0.85v0.85h-0.85zM191.3 392.1h0.85v0.85h-0.85zM180.7 391.7h0.85v0.85h-0.85zM187.6 391.4h0.85v0.85h-0.85zM173.0 386.3h0.85v0.85h-0.85zM189.8 391.9h0.85v0.85h-0.85zM189.7 378.6h0.85v0.85h-0.85zM185.9 390.6h0.85v0.85h-0.85zM198.5 385.6h0.85v0.85h-0.85zM183.3 388.5h0.85v0.85h-0.85zM189.7 387.0h0.85v0.85h-0.85zM191.1 385.7h0.85v0.85h-0.85zM186.4 386.4h0.85v0.85h-0.85zM185.8 385.7h0.85v0.85h-0.85zM176.5 392.4h0.85v0.85h-0.85zM186.6 386.3h0.85v0.85h-0.85zM186.1 392.7h0.85v0.85h-0.85zM179.8 387.6h0.85v0.85h-0.85zM187.9 390.9h0.85v0.85h-0.85zM183.2 379.6h0.85v0.85h-0.85zM191.6 390.4h0.85v0.85h-0.85zM185.1 387.3h0.85v0.85h-0.85zM186.4 386.8h0.85v0.85h-0.85zM179.6 385.0h0.85v0.85h-0.85zM181.8 385.7h0.85v0.85h-0.85zM178.9 390.7h0.85v0.85h-0.85zM178.1 390.7h0.85v0.85h-0.85zM179.6 389.5h0.85v0.85h-0.85zM192.3 389.9h0.85v0.85h-0.85zM181.1 388.4h0.85v0.85h-0.85zM185.8 381.3h0.85v0.85h-0.85zM181.8 388.9h0.85v0.85h-0.85zM182.5 388.6h0.85v0.85h-0.85zM188.9 392.0h0.85v0.85h-0.85zM189.8 391.3h0.85v0.85h-0.85zM183.5 388.3h0.85v0.85h-0.85zM183.6 387.1h0.85v0.85h-0.85zM184.0 381.2h0.85v0.85h-0.85zM183.2 388.3h0.85v0.85h-0.85zM179.8 388.0h0.85v0.85h-0.85zM187.7 388.0h0.85v0.85h-0.85zM196.0 378.5h0.85v0.85h-0.85zM183.9 380.8h0.85v0.85h-0.85zM171.7 388.0h0.85v0.85h-0.85zM187.8 387.5h0.85v0.85h-0.85zM187.9 379.4h0.85v0.85h-0.85zM189.5 390.4h0.85v0.85h-0.85zM185.1 386.1h0.85v0.85h-0.85zM188.4 386.7h0.85v0.85h-0.85zM186.2 386.5h0.85v0.85h-0.85zM173.1 387.4h0.85v0.85h-0.85zM186.1 391.7h0.85v0.85h-0.85zM180.4 388.0h0.85v0.85h-0.85zM188.3 389.4h0.85v0.85h-0.85zM191.6 397.3h0.85v0.85h-0.85zM180.2 380.1h0.85v0.85h-0.85zM189.5 395.3h0.85v0.85h-0.85zM189.9 392.3h0.85v0.85h-0.85zM181.7 385.3h0.85v0.85h-0.85zM189.7 385.1h0.85v0.85h-0.85zM175.4 383.6h0.85v0.85h-0.85zM198.2 397.6h0.85v0.85h-0.85zM181.4 385.2h0.85v0.85h-0.85zM186.2 385.5h0.85v0.85h-0.85zM191.9 388.7h0.85v0.85h-0.85zM179.2 393.5h0.85v0.85h-0.85zM181.9 389.2h0.85v0.85h-0.85z" fill="#000" opacity="0.6"/>
<path d="M191.9 392.7h0.85v0.85h-0.85zM187.7 388.7h0.85v0.85h-0.85zM188.0 386.5h0.85v0.85h-0.85zM174.9 381.7h0.85v0.85h-0.85zM170.9 388.4h0.85v0.85h-0.85zM187.9 396.4h0.85v0.85h-0.85zM187.4 388.7h0.85v0.85h-0.85zM188.9 387.1h0.85v0.85h-0.85zM164.4 393.1h0.85v0.85h-0.85zM178.1 388.4h0.85v0.85h-0.85zM193.7 389.5h0.85v0.85h-0.85zM171.5 392.2h0.85v0.85h-0.85zM173.8 393.8h0.85v0.85h-0.85zM167.7 386.6h0.85v0.85h-0.85zM191.7 382.2h0.85v0.85h-0.85zM183.7 388.1h0.85v0.85h-0.85zM191.9 384.3h0.85v0.85h-0.85zM168.0 382.2h0.85v0.85h-0.85zM187.2 383.4h0.85v0.85h-0.85zM169.4 395.5h0.85v0.85h-0.85zM192.2 393.6h0.85v0.85h-0.85zM193.4 391.4h0.85v0.85h-0.85zM174.6 373.4h0.85v0.85h-0.85zM187.7 381.0h0.85v0.85h-0.85zM183.3 389.5h0.85v0.85h-0.85zM170.3 385.3h0.85v0.85h-0.85zM200.0 391.8h0.85v0.85h-0.85zM166.7 386.1h0.85v0.85h-0.85zM182.8 390.6h0.85v0.85h-0.85zM190.2 386.9h0.85v0.85h-0.85zM180.4 392.3h0.85v0.85h-0.85zM168.6 393.9h0.85v0.85h-0.85zM186.1 384.3h0.85v0.85h-0.85zM176.9 388.5h0.85v0.85h-0.85zM168.1 373.5h0.85v0.85h-0.85zM186.3 395.6h0.85v0.85h-0.85zM181.0 387.4h0.85v0.85h-0.85zM182.3 381.4h0.85v0.85h-0.85zM186.4 391.8h0.85v0.85h-0.85zM182.6 392.2h0.85v0.85h-0.85zM172.2 388.4h0.85v0.85h-0.85zM174.8 384.1h0.85v0.85h-0.85zM184.8 387.8h0.85v0.85h-0.85zM190.5 390.7h0.85v0.85h-0.85zM170.5 394.3h0.85v0.85h-0.85zM166.6 386.2h0.85v0.85h-0.85zM184.9 386.2h0.85v0.85h-0.85zM186.7 386.8h0.85v0.85h-0.85zM172.1 391.3h0.85v0.85h-0.85zM181.2 381.3h0.85v0.85h-0.85zM182.2 386.4h0.85v0.85h-0.85zM184.8 383.2h0.85v0.85h-0.85zM183.2 385.5h0.85v0.85h-0.85zM197.2 384.4h0.85v0.85h-0.85zM194.0 386.1h0.85v0.85h-0.85zM177.8 387.3h0.85v0.85h-0.85zM172.7 382.5h0.85v0.85h-0.85zM176.1 387.0h0.85v0.85h-0.85zM190.5 391.6h0.85v0.85h-0.85zM176.8 387.4h0.85v0.85h-0.85zM167.3 389.8h0.85v0.85h-0.85zM179.2 380.3h0.85v0.85h-0.85zM174.4 389.8h0.85v0.85h-0.85zM182.5 390.2h0.85v0.85h-0.85zM177.2 387.4h0.85v0.85h-0.85zM179.2 377.8h0.85v0.85h-0.85zM179.9 385.7h0.85v0.85h-0.85zM174.9 391.0h0.85v0.85h-0.85zM202.2 394.6h0.85v0.85h-0.85zM181.9 379.9h0.85v0.85h-0.85zM179.7 382.9h0.85v0.85h-0.85zM183.0 393.3h0.85v0.85h-0.85zM181.0 378.4h0.85v0.85h-0.85zM194.6 386.8h0.85v0.85h-0.85zM194.7 381.5h0.85v0.85h-0.85zM205.6 379.5h0.85v0.85h-0.85zM182.8 391.1h0.85v0.85h-0.85zM156.6 382.0h0.85v0.85h-0.85zM166.1 396.3h0.85v0.85h-0.85zM188.3 381.1h0.85v0.85h-0.85zM164.7 376.6h0.85v0.85h-0.85zM183.2 381.9h0.85v0.85h-0.85zM185.0 383.5h0.85v0.85h-0.85zM165.1 396.8h0.85v0.85h-0.85zM186.2 382.5h0.85v0.85h-0.85zM178.2 394.0h0.85v0.85h-0.85zM189.4 379.4h0.85v0.85h-0.85zM195.6 383.0h0.85v0.85h-0.85zM187.1 379.6h0.85v0.85h-0.85zM175.0 391.0h0.85v0.85h-0.85zM169.9 386.9h0.85v0.85h-0.85zM185.5 382.7h0.85v0.85h-0.85zM195.5 390.3h0.85v0.85h-0.85zM180.2 392.3h0.85v0.85h-0.85zM194.7 393.6h0.85v0.85h-0.85zM180.3 391.1h0.85v0.85h-0.85zM185.3 380.2h0.85v0.85h-0.85zM173.8 389.3h0.85v0.85h-0.85zM197.9 384.4h0.85v0.85h-0.85zM181.4 382.3h0.85v0.85h-0.85zM186.5 379.5h0.85v0.85h-0.85zM185.9 381.8h0.85v0.85h-0.85zM184.7 376.7h0.85v0.85h-0.85zM170.9 391.8h0.85v0.85h-0.85zM187.2 369.2h0.85v0.85h-0.85zM196.1 381.8h0.85v0.85h-0.85zM190.0 392.3h0.85v0.85h-0.85zM179.9 384.3h0.85v0.85h-0.85zM162.9 389.1h0.85v0.85h-0.85zM199.4 379.4h0.85v0.85h-0.85zM192.3 390.7h0.85v0.85h-0.85zM190.6 380.4h0.85v0.85h-0.85zM180.4 387.9h0.85v0.85h-0.85zM198.0 381.1h0.85v0.85h-0.85zM176.3 382.1h0.85v0.85h-0.85zM189.8 377.4h0.85v0.85h-0.85zM179.5 379.0h0.85v0.85h-0.85zM178.1 390.8h0.85v0.85h-0.85zM176.2 390.4h0.85v0.85h-0.85zM176.9 386.2h0.85v0.85h-0.85zM179.9 381.4h0.85v0.85h-0.85zM185.4 390.1h0.85v0.85h-0.85zM173.8 390.3h0.85v0.85h-0.85zM182.4 384.0h0.85v0.85h-0.85zM182.9 391.1h0.85v0.85h-0.85zM188.5 394.8h0.85v0.85h-0.85zM183.9 387.6h0.85v0.85h-0.85zM166.9 383.4h0.85v0.85h-0.85zM187.0 380.1h0.85v0.85h-0.85zM172.4 396.8h0.85v0.85h-0.85zM180.6 380.1h0.85v0.85h-0.85zM160.9 381.4h0.85v0.85h-0.85zM203.5 386.3h0.85v0.85h-0.85zM187.2 390.2h0.85v0.85h-0.85zM176.7 388.4h0.85v0.85h-0.85zM181.8 384.5h0.85v0.85h-0.85zM191.1 381.7h0.85v0.85h-0.85zM174.1 382.7h0.85v0.85h-0.85zM193.0 383.6h0.85v0.85h-0.85zM198.6 378.8h0.85v0.85h-0.85zM171.8 371.5h0.85v0.85h-0.85zM172.4 386.8h0.85v0.85h-0.85zM188.0 380.8h0.85v0.85h-0.85zM176.3 394.4h0.85v0.85h-0.85zM176.6 386.9h0.85v0.85h-0.85zM187.4 380.9h0.85v0.85h-0.85zM193.0 385.3h0.85v0.85h-0.85zM188.7 384.7h0.85v0.85h-0.85zM183.9 393.2h0.85v0.85h-0.85zM183.4 376.1h0.85v0.85h-0.85zM178.6 384.2h0.85v0.85h-0.85zM179.5 387.4h0.85v0.85h-0.85zM165.7 396.2h0.85v0.85h-0.85zM173.1 393.6h0.85v0.85h-0.85zM177.7 384.3h0.85v0.85h-0.85zM180.0 384.4h0.85v0.85h-0.85zM186.5 393.3h0.85v0.85h-0.85zM198.6 396.9h0.85v0.85h-0.85zM169.5 390.1h0.85v0.85h-0.85zM185.9 385.9h0.85v0.85h-0.85zM184.2 386.5h0.85v0.85h-0.85zM170.3 381.6h0.85v0.85h-0.85zM190.4 386.0h0.85v0.85h-0.85zM194.5 383.8h0.85v0.85h-0.85zM175.8 387.0h0.85v0.85h-0.85zM182.3 391.8h0.85v0.85h-0.85zM176.3 390.9h0.85v0.85h-0.85zM184.8 381.4h0.85v0.85h-0.85zM179.7 385.4h0.85v0.85h-0.85zM191.0 393.3h0.85v0.85h-0.85zM187.9 383.4h0.85v0.85h-0.85zM188.3 387.3h0.85v0.85h-0.85zM175.7 390.6h0.85v0.85h-0.85zM174.0 384.7h0.85v0.85h-0.85zM171.4 378.7h0.85v0.85h-0.85zM184.7 377.5h0.85v0.85h-0.85zM175.1 384.3h0.85v0.85h-0.85zM185.8 382.6h0.85v0.85h-0.85zM188.1 381.8h0.85v0.85h-0.85zM173.8 381.7h0.85v0.85h-0.85zM176.6 382.3h0.85v0.85h-0.85zM167.8 382.2h0.85v0.85h-0.85zM173.2 392.3h0.85v0.85h-0.85zM171.2 388.2h0.85v0.85h-0.85zM172.6 391.2h0.85v0.85h-0.85zM180.0 383.2h0.85v0.85h-0.85zM192.2 394.8h0.85v0.85h-0.85zM195.8 391.7h0.85v0.85h-0.85zM181.9 382.6h0.85v0.85h-0.85zM176.7 383.3h0.85v0.85h-0.85zM186.1 384.0h0.85v0.85h-0.85zM183.4 387.5h0.85v0.85h-0.85zM180.2 382.7h0.85v0.85h-0.85zM180.1 377.4h0.85v0.85h-0.85zM169.4 382.8h0.85v0.85h-0.85zM198.8 387.2h0.85v0.85h-0.85zM172.6 396.2h0.85v0.85h-0.85zM163.5 392.8h0.85v0.85h-0.85zM208.1 386.5h0.85v0.85h-0.85zM190.9 390.3h0.85v0.85h-0.85zM175.9 371.0h0.85v0.85h-0.85zM189.8 383.2h0.85v0.85h-0.85zM184.7 389.0h0.85v0.85h-0.85zM175.6 373.2h0.85v0.85h-0.85zM177.0 382.1h0.85v0.85h-0.85zM170.1 381.8h0.85v0.85h-0.85zM181.2 395.1h0.85v0.85h-0.85zM182.2 387.8h0.85v0.85h-0.85zM191.6 389.0h0.85v0.85h-0.85zM179.2 382.7h0.85v0.85h-0.85zM169.9 391.7h0.85v0.85h-0.85zM180.5 393.3h0.85v0.85h-0.85zM173.8 383.1h0.85v0.85h-0.85zM185.3 394.8h0.85v0.85h-0.85zM179.6 383.0h0.85v0.85h-0.85zM186.4 378.9h0.85v0.85h-0.85zM192.6 379.2h0.85v0.85h-0.85zM166.4 386.8h0.85v0.85h-0.85zM176.0 394.0h0.85v0.85h-0.85zM189.1 389.1h0.85v0.85h-0.85zM161.7 386.1h0.85v0.85h-0.85zM173.1 375.3h0.85v0.85h-0.85zM198.7 375.6h0.85v0.85h-0.85zM171.8 381.3h0.85v0.85h-0.85zM174.9 387.3h0.85v0.85h-0.85zM185.3 379.1h0.85v0.85h-0.85zM185.2 390.0h0.85v0.85h-0.85zM184.3 395.3h0.85v0.85h-0.85zM176.3 384.3h0.85v0.85h-0.85zM176.8 379.8h0.85v0.85h-0.85zM180.4 392.5h0.85v0.85h-0.85zM186.7 386.4h0.85v0.85h-0.85zM182.6 394.0h0.85v0.85h-0.85zM193.0 375.8h0.85v0.85h-0.85zM168.4 392.2h0.85v0.85h-0.85zM188.4 390.2h0.85v0.85h-0.85zM190.2 380.0h0.85v0.85h-0.85zM169.4 389.0h0.85v0.85h-0.85zM169.6 387.1h0.85v0.85h-0.85zM200.8 376.3h0.85v0.85h-0.85zM186.4 395.4h0.85v0.85h-0.85zM193.7 383.9h0.85v0.85h-0.85zM172.3 386.5h0.85v0.85h-0.85zM169.0 387.2h0.85v0.85h-0.85zM177.9 384.7h0.85v0.85h-0.85zM189.1 386.5h0.85v0.85h-0.85zM175.5 385.4h0.85v0.85h-0.85zM179.0 384.9h0.85v0.85h-0.85zM176.7 391.2h0.85v0.85h-0.85zM177.3 392.5h0.85v0.85h-0.85zM187.5 392.0h0.85v0.85h-0.85zM185.3 378.9h0.85v0.85h-0.85zM204.4 383.9h0.85v0.85h-0.85zM170.9 387.4h0.85v0.85h-0.85zM183.0 375.0h0.85v0.85h-0.85zM167.9 384.4h0.85v0.85h-0.85zM177.3 380.2h0.85v0.85h-0.85zM171.9 386.2h0.85v0.85h-0.85zM171.3 388.5h0.85v0.85h-0.85zM183.3 383.4h0.85v0.85h-0.85zM197.4 395.1h0.85v0.85h-0.85zM166.9 385.9h0.85v0.85h-0.85zM194.9 381.9h0.85v0.85h-0.85zM160.1 380.9h0.85v0.85h-0.85zM174.2 382.2h0.85v0.85h-0.85zM183.8 389.5h0.85v0.85h-0.85zM186.8 375.0h0.85v0.85h-0.85zM174.2 391.9h0.85v0.85h-0.85zM175.9 379.6h0.85v0.85h-0.85zM167.3 383.7h0.85v0.85h-0.85zM177.6 380.9h0.85v0.85h-0.85zM179.6 383.0h0.85v0.85h-0.85zM168.3 384.1h0.85v0.85h-0.85zM176.1 383.1h0.85v0.85h-0.85zM183.3 388.9h0.85v0.85h-0.85zM185.8 389.0h0.85v0.85h-0.85zM169.2 387.2h0.85v0.85h-0.85zM178.7 380.7h0.85v0.85h-0.85zM181.8 385.1h0.85v0.85h-0.85zM178.7 388.8h0.85v0.85h-0.85zM169.2 385.7h0.85v0.85h-0.85zM172.6 383.5h0.85v0.85h-0.85zM175.8 390.2h0.85v0.85h-0.85zM186.4 388.8h0.85v0.85h-0.85zM169.2 387.1h0.85v0.85h-0.85zM196.3 392.9h0.85v0.85h-0.85zM186.4 387.0h0.85v0.85h-0.85zM173.4 388.1h0.85v0.85h-0.85zM167.1 385.4h0.85v0.85h-0.85zM167.7 381.0h0.85v0.85h-0.85zM167.5 388.1h0.85v0.85h-0.85zM177.2 387.9h0.85v0.85h-0.85zM186.9 388.1h0.85v0.85h-0.85zM174.3 388.1h0.85v0.85h-0.85zM168.4 383.4h0.85v0.85h-0.85zM186.2 385.0h0.85v0.85h-0.85zM182.0 386.4h0.85v0.85h-0.85zM202.6 376.1h0.85v0.85h-0.85zM170.2 394.0h0.85v0.85h-0.85zM169.3 386.3h0.85v0.85h-0.85zM195.6 376.1h0.85v0.85h-0.85zM179.4 390.2h0.85v0.85h-0.85zM192.5 382.7h0.85v0.85h-0.85zM187.0 384.2h0.85v0.85h-0.85zM184.8 383.8h0.85v0.85h-0.85zM186.2 390.2h0.85v0.85h-0.85zM189.9 384.1h0.85v0.85h-0.85zM174.2 388.2h0.85v0.85h-0.85zM190.6 389.2h0.85v0.85h-0.85zM172.9 386.6h0.85v0.85h-0.85zM180.5 381.7h0.85v0.85h-0.85zM202.1 384.9h0.85v0.85h-0.85zM177.6 385.3h0.85v0.85h-0.85zM169.2 383.6h0.85v0.85h-0.85zM175.6 381.7h0.85v0.85h-0.85zM176.5 367.8h0.85v0.85h-0.85zM180.7 385.0h0.85v0.85h-0.85zM172.3 380.9h0.85v0.85h-0.85zM160.0 382.8h0.85v0.85h-0.85zM183.2 386.8h0.85v0.85h-0.85z" fill="#000" opacity="0.4"/>
<line x1="193.2" y1="344.8" x2="193.2" y2="434.5" stroke="#454545" stroke-width="1.1" />
<line x1="154.9" y1="398" x2="244.6" y2="398" stroke="#454545" stroke-width="1.1" />
<line x1="152.3" y1="433.9" x2="154.9" y2="433.9" stroke="#222" stroke-width="0.9" />
<line x1="153.4" y1="430.2317344814089" x2="154.9" y2="430.2317344814089" stroke="#333" stroke-width="0.55" />
<line x1="153.4" y1="428.08593671034464" x2="154.9" y2="428.08593671034464" stroke="#333" stroke-width="0.55" />
<line x1="153.4" y1="426.5634689628178" x2="154.9" y2="426.5634689628178" stroke="#333" stroke-width="0.55" />
<line x1="153.4" y1="425.3825512328768" x2="154.9" y2="425.3825512328768" stroke="#333" stroke-width="0.55" />
<line x1="153.4" y1="424.4176711917536" x2="154.9" y2="424.4176711917536" stroke="#333" stroke-width="0.55" />
<line x1="153.4" y1="423.6018767409691" x2="154.9" y2="423.6018767409691" stroke="#333" stroke-width="0.55" />
<line x1="153.4" y1="422.89520344422675" x2="154.9" y2="422.89520344422675" stroke="#333" stroke-width="0.55" />
<line x1="153.4" y1="422.27187342068936" x2="154.9" y2="422.27187342068936" stroke="#333" stroke-width="0.55" />
<line x1="152.3" y1="421.7142857142857" x2="154.9" y2="421.7142857142857" stroke="#222" stroke-width="0.9" />
<line x1="153.4" y1="418.04602019569467" x2="154.9" y2="418.04602019569467" stroke="#333" stroke-width="0.55" />
<line x1="153.4" y1="415.9002224246304" x2="154.9" y2="415.9002224246304" stroke="#333" stroke-width="0.55" />
<line x1="153.4" y1="414.37775467710355" x2="154.9" y2="414.37775467710355" stroke="#333" stroke-width="0.55" />
<line x1="153.4" y1="413.1968369471625" x2="154.9" y2="413.1968369471625" stroke="#333" stroke-width="0.55" />
<line x1="153.4" y1="412.23195690603933" x2="154.9" y2="412.23195690603933" stroke="#333" stroke-width="0.55" />
<line x1="153.4" y1="411.41616245525483" x2="154.9" y2="411.41616245525483" stroke="#333" stroke-width="0.55" />
<line x1="153.4" y1="410.7094891585125" x2="154.9" y2="410.7094891585125" stroke="#333" stroke-width="0.55" />
<line x1="153.4" y1="410.0861591349751" x2="154.9" y2="410.0861591349751" stroke="#333" stroke-width="0.55" />
<line x1="152.3" y1="409.5285714285714" x2="154.9" y2="409.5285714285714" stroke="#222" stroke-width="0.9" />
<line x1="153.4" y1="405.86030590998035" x2="154.9" y2="405.86030590998035" stroke="#333" stroke-width="0.55" />
<line x1="153.4" y1="403.7145081389161" x2="154.9" y2="403.7145081389161" stroke="#333" stroke-width="0.55" />
<line x1="153.4" y1="402.19204039138924" x2="154.9" y2="402.19204039138924" stroke="#333" stroke-width="0.55" />
<line x1="153.4" y1="401.0111226614482" x2="154.9" y2="401.0111226614482" stroke="#333" stroke-width="0.55" />
<line x1="153.4" y1="400.046242620325" x2="154.9" y2="400.046242620325" stroke="#333" stroke-width="0.55" />
<line x1="153.4" y1="399.2304481695405" x2="154.9" y2="399.2304481695405" stroke="#333" stroke-width="0.55" />
<line x1="153.4" y1="398.5237748727982" x2="154.9" y2="398.5237748727982" stroke="#333" stroke-width="0.55" />
<line x1="153.4" y1="397.9004448492608" x2="154.9" y2="397.9004448492608" stroke="#333" stroke-width="0.55" />
<line x1="152.3" y1="397.34285714285716" x2="154.9" y2="397.34285714285716" stroke="#222" stroke-width="0.9" />
<line x1="153.4" y1="393.6745916242661" x2="154.9" y2="393.6745916242661" stroke="#333" stroke-width="0.55" />
<line x1="153.4" y1="391.5287938532018" x2="154.9" y2="391.5287938532018" stroke="#333" stroke-width="0.55" />
<line x1="153.4" y1="390.006326105675" x2="154.9" y2="390.006326105675" stroke="#333" stroke-width="0.55" />
<line x1="153.4" y1="388.82540837573396" x2="154.9" y2="388.82540837573396" stroke="#333" stroke-width="0.55" />
<line x1="153.4" y1="387.86052833461076" x2="154.9" y2="387.86052833461076" stroke="#333" stroke-width="0.55" />
<line x1="153.4" y1="387.04473388382627" x2="154.9" y2="387.04473388382627" stroke="#333" stroke-width="0.55" />
<line x1="153.4" y1="386.33806058708393" x2="154.9" y2="386.33806058708393" stroke="#333" stroke-width="0.55" />
<line x1="153.4" y1="385.71473056354654" x2="154.9" y2="385.71473056354654" stroke="#333" stroke-width="0.55" />
<line x1="152.3" y1="385.15714285714284" x2="154.9" y2="385.15714285714284" stroke="#222" stroke-width="0.9" />
<line x1="153.4" y1="381.4888773385518" x2="154.9" y2="381.4888773385518" stroke="#333" stroke-width="0.55" />
<line x1="153.4" y1="379.3430795674875" x2="154.9" y2="379.3430795674875" stroke="#333" stroke-width="0.55" />
<line x1="153.4" y1="377.8206118199607" x2="154.9" y2="377.8206118199607" stroke="#333" stroke-width="0.55" />
<line x1="153.4" y1="376.63969409001965" x2="154.9" y2="376.63969409001965" stroke="#333" stroke-width="0.55" />
<line x1="153.4" y1="375.67481404889645" x2="154.9" y2="375.67481404889645" stroke="#333" stroke-width="0.55" />
<line x1="153.4" y1="374.85901959811196" x2="154.9" y2="374.85901959811196" stroke="#333" stroke-width="0.55" />
<line x1="153.4" y1="374.1523463013696" x2="154.9" y2="374.1523463013696" stroke="#333" stroke-width="0.55" />
<line x1="153.4" y1="373.5290162778322" x2="154.9" y2="373.5290162778322" stroke="#333" stroke-width="0.55" />
<line x1="152.3" y1="372.9714285714286" x2="154.9" y2="372.9714285714286" stroke="#222" stroke-width="0.9" />
<line x1="153.4" y1="369.30316305283753" x2="154.9" y2="369.30316305283753" stroke="#333" stroke-width="0.55" />
<line x1="153.4" y1="367.15736528177325" x2="154.9" y2="367.15736528177325" stroke="#333" stroke-width="0.55" />
<line x1="153.4" y1="365.6348975342464" x2="154.9" y2="365.6348975342464" stroke="#333" stroke-width="0.55" />
<line x1="153.4" y1="364.4539798043054" x2="154.9" y2="364.4539798043054" stroke="#333" stroke-width="0.55" />
<line x1="153.4" y1="363.4890997631822" x2="154.9" y2="363.4890997631822" stroke="#333" stroke-width="0.55" />
<line x1="153.4" y1="362.6733053123977" x2="154.9" y2="362.6733053123977" stroke="#333" stroke-width="0.55" />
<line x1="153.4" y1="361.96663201565536" x2="154.9" y2="361.96663201565536" stroke="#333" stroke-width="0.55" />
<line x1="153.4" y1="361.343301992118" x2="154.9" y2="361.343301992118" stroke="#333" stroke-width="0.55" />
<line x1="152.3" y1="360.78571428571433" x2="154.9" y2="360.78571428571433" stroke="#222" stroke-width="0.9" />
<line x1="153.4" y1="357.1174487671233" x2="154.9" y2="357.1174487671233" stroke="#333" stroke-width="0.55" />
<line x1="153.4" y1="354.971650996059" x2="154.9" y2="354.971650996059" stroke="#333" stroke-width="0.55" />
<line x1="153.4" y1="353.44918324853217" x2="154.9" y2="353.44918324853217" stroke="#333" stroke-width="0.55" />
<line x1="153.4" y1="352.26826551859114" x2="154.9" y2="352.26826551859114" stroke="#333" stroke-width="0.55" />
<line x1="153.4" y1="351.30338547746794" x2="154.9" y2="351.30338547746794" stroke="#333" stroke-width="0.55" />
<line x1="153.4" y1="350.48759102668345" x2="154.9" y2="350.48759102668345" stroke="#333" stroke-width="0.55" />
<line x1="153.4" y1="349.7809177299411" x2="154.9" y2="349.7809177299411" stroke="#333" stroke-width="0.55" />
<line x1="153.4" y1="349.1575877064037" x2="154.9" y2="349.1575877064037" stroke="#333" stroke-width="0.55" />
<line x1="152.3" y1="348.6" x2="154.9" y2="348.6" stroke="#222" stroke-width="0.9" />
<line x1="154.6" y1="345.3" x2="154.6" y2="434.5" stroke="#888" stroke-width="0.5" />
<line x1="155.9" y1="434.5" x2="155.9" y2="437.1" stroke="#222" stroke-width="0.9" />
<line x1="159.54246294753418" y1="434.5" x2="159.54246294753418" y2="436.0" stroke="#333" stroke-width="0.6" />
<line x1="161.67316718210793" y1="434.5" x2="161.67316718210793" y2="436.0" stroke="#333" stroke-width="0.6" />
<line x1="163.18492589506835" y1="434.5" x2="163.18492589506835" y2="436.0" stroke="#333" stroke-width="0.6" />
<line x1="164.35753705246583" y1="434.5" x2="164.35753705246583" y2="436.0" stroke="#333" stroke-width="0.6" />
<line x1="165.3156301296421" y1="434.5" x2="165.3156301296421" y2="436.0" stroke="#333" stroke-width="0.6" />
<line x1="166.1256862841725" y1="434.5" x2="166.1256862841725" y2="436.0" stroke="#333" stroke-width="0.6" />
<line x1="166.82738884260252" y1="434.5" x2="166.82738884260252" y2="436.0" stroke="#333" stroke-width="0.6" />
<line x1="167.44633436421583" y1="434.5" x2="167.44633436421583" y2="436.0" stroke="#333" stroke-width="0.6" />
<text x="154.9" y="443.5" font-size="4.5" fill="#5a5a5a" text-anchor="start">10<tspan dy="-1.7" font-size="3.1">0</tspan></text>
<line x1="168.0" y1="434.5" x2="168.0" y2="437.1" stroke="#222" stroke-width="0.9" />
<line x1="171.64246294753417" y1="434.5" x2="171.64246294753417" y2="436.0" stroke="#333" stroke-width="0.6" />
<line x1="173.77316718210793" y1="434.5" x2="173.77316718210793" y2="436.0" stroke="#333" stroke-width="0.6" />
<line x1="175.28492589506834" y1="434.5" x2="175.28492589506834" y2="436.0" stroke="#333" stroke-width="0.6" />
<line x1="176.45753705246582" y1="434.5" x2="176.45753705246582" y2="436.0" stroke="#333" stroke-width="0.6" />
<line x1="177.4156301296421" y1="434.5" x2="177.4156301296421" y2="436.0" stroke="#333" stroke-width="0.6" />
<line x1="178.2256862841725" y1="434.5" x2="178.2256862841725" y2="436.0" stroke="#333" stroke-width="0.6" />
<line x1="178.9273888426025" y1="434.5" x2="178.9273888426025" y2="436.0" stroke="#333" stroke-width="0.6" />
<line x1="179.54633436421582" y1="434.5" x2="179.54633436421582" y2="436.0" stroke="#333" stroke-width="0.6" />
<line x1="180.1" y1="434.5" x2="180.1" y2="437.1" stroke="#222" stroke-width="0.9" />
<line x1="183.74246294753416" y1="434.5" x2="183.74246294753416" y2="436.0" stroke="#333" stroke-width="0.6" />
<line x1="185.87316718210792" y1="434.5" x2="185.87316718210792" y2="436.0" stroke="#333" stroke-width="0.6" />
<line x1="187.38492589506833" y1="434.5" x2="187.38492589506833" y2="436.0" stroke="#333" stroke-width="0.6" />
<line x1="188.55753705246582" y1="434.5" x2="188.55753705246582" y2="436.0" stroke="#333" stroke-width="0.6" />
<line x1="189.5156301296421" y1="434.5" x2="189.5156301296421" y2="436.0" stroke="#333" stroke-width="0.6" />
<line x1="190.3256862841725" y1="434.5" x2="190.3256862841725" y2="436.0" stroke="#333" stroke-width="0.6" />
<line x1="191.0273888426025" y1="434.5" x2="191.0273888426025" y2="436.0" stroke="#333" stroke-width="0.6" />
<line x1="191.64633436421582" y1="434.5" x2="191.64633436421582" y2="436.0" stroke="#333" stroke-width="0.6" />
<text x="179.1" y="443.5" font-size="4.5" fill="#5a5a5a" text-anchor="start">10<tspan dy="-1.7" font-size="3.1">2</tspan></text>
<line x1="192.2" y1="434.5" x2="192.2" y2="437.1" stroke="#222" stroke-width="0.9" />
<line x1="195.84246294753416" y1="434.5" x2="195.84246294753416" y2="436.0" stroke="#333" stroke-width="0.6" />
<line x1="197.97316718210791" y1="434.5" x2="197.97316718210791" y2="436.0" stroke="#333" stroke-width="0.6" />
<line x1="199.48492589506833" y1="434.5" x2="199.48492589506833" y2="436.0" stroke="#333" stroke-width="0.6" />
<line x1="200.6575370524658" y1="434.5" x2="200.6575370524658" y2="436.0" stroke="#333" stroke-width="0.6" />
<line x1="201.61563012964208" y1="434.5" x2="201.61563012964208" y2="436.0" stroke="#333" stroke-width="0.6" />
<line x1="202.42568628417249" y1="434.5" x2="202.42568628417249" y2="436.0" stroke="#333" stroke-width="0.6" />
<line x1="203.1273888426025" y1="434.5" x2="203.1273888426025" y2="436.0" stroke="#333" stroke-width="0.6" />
<line x1="203.7463343642158" y1="434.5" x2="203.7463343642158" y2="436.0" stroke="#333" stroke-width="0.6" />
<line x1="204.3" y1="434.5" x2="204.3" y2="437.1" stroke="#222" stroke-width="0.9" />
<line x1="207.94246294753418" y1="434.5" x2="207.94246294753418" y2="436.0" stroke="#333" stroke-width="0.6" />
<line x1="210.07316718210794" y1="434.5" x2="210.07316718210794" y2="436.0" stroke="#333" stroke-width="0.6" />
<line x1="211.58492589506835" y1="434.5" x2="211.58492589506835" y2="436.0" stroke="#333" stroke-width="0.6" />
<line x1="212.75753705246584" y1="434.5" x2="212.75753705246584" y2="436.0" stroke="#333" stroke-width="0.6" />
<line x1="213.7156301296421" y1="434.5" x2="213.7156301296421" y2="436.0" stroke="#333" stroke-width="0.6" />
<line x1="214.5256862841725" y1="434.5" x2="214.5256862841725" y2="436.0" stroke="#333" stroke-width="0.6" />
<line x1="215.22738884260252" y1="434.5" x2="215.22738884260252" y2="436.0" stroke="#333" stroke-width="0.6" />
<line x1="215.84633436421583" y1="434.5" x2="215.84633436421583" y2="436.0" stroke="#333" stroke-width="0.6" />
<text x="203.3" y="443.5" font-size="4.5" fill="#5a5a5a" text-anchor="start">10<tspan dy="-1.7" font-size="3.1">4</tspan></text>
<line x1="216.39999999999998" y1="434.5" x2="216.39999999999998" y2="437.1" stroke="#222" stroke-width="0.9" />
<line x1="220.04246294753415" y1="434.5" x2="220.04246294753415" y2="436.0" stroke="#333" stroke-width="0.6" />
<line x1="222.1731671821079" y1="434.5" x2="222.1731671821079" y2="436.0" stroke="#333" stroke-width="0.6" />
<line x1="223.68492589506832" y1="434.5" x2="223.68492589506832" y2="436.0" stroke="#333" stroke-width="0.6" />
<line x1="224.8575370524658" y1="434.5" x2="224.8575370524658" y2="436.0" stroke="#333" stroke-width="0.6" />
<line x1="225.81563012964207" y1="434.5" x2="225.81563012964207" y2="436.0" stroke="#333" stroke-width="0.6" />
<line x1="226.62568628417247" y1="434.5" x2="226.62568628417247" y2="436.0" stroke="#333" stroke-width="0.6" />
<line x1="227.3273888426025" y1="434.5" x2="227.3273888426025" y2="436.0" stroke="#333" stroke-width="0.6" />
<line x1="227.9463343642158" y1="434.5" x2="227.9463343642158" y2="436.0" stroke="#333" stroke-width="0.6" />
<line x1="228.5" y1="434.5" x2="228.5" y2="437.1" stroke="#222" stroke-width="0.9" />
<line x1="232.14246294753417" y1="434.5" x2="232.14246294753417" y2="436.0" stroke="#333" stroke-width="0.6" />
<line x1="234.27316718210793" y1="434.5" x2="234.27316718210793" y2="436.0" stroke="#333" stroke-width="0.6" />
<line x1="235.78492589506834" y1="434.5" x2="235.78492589506834" y2="436.0" stroke="#333" stroke-width="0.6" />
<line x1="236.95753705246582" y1="434.5" x2="236.95753705246582" y2="436.0" stroke="#333" stroke-width="0.6" />
<line x1="237.9156301296421" y1="434.5" x2="237.9156301296421" y2="436.0" stroke="#333" stroke-width="0.6" />
<line x1="238.7256862841725" y1="434.5" x2="238.7256862841725" y2="436.0" stroke="#333" stroke-width="0.6" />
<line x1="239.4273888426025" y1="434.5" x2="239.4273888426025" y2="436.0" stroke="#333" stroke-width="0.6" />
<line x1="240.04633436421582" y1="434.5" x2="240.04633436421582" y2="436.0" stroke="#333" stroke-width="0.6" />
<text x="227.5" y="443.5" font-size="4.5" fill="#5a5a5a" text-anchor="start">10<tspan dy="-1.7" font-size="3.1">6</tspan></text>
<line x1="240.6" y1="434.5" x2="240.6" y2="437.1" stroke="#222" stroke-width="0.9" />
<line x1="154.9" y1="434.8" x2="244.1" y2="434.8" stroke="#888" stroke-width="0.5" />
<text x="158.4" y="356.7" font-size="8.4" fill="#1a1a1a" stroke="#1a1a1a" stroke-width="0.2" text-anchor="start" transform="translate(158.4,0) scale(0.88,1) translate(-158.4,0)">95.1</text>
<text x="241.5" y="356.7" font-size="8.4" fill="#1a1a1a" stroke="#1a1a1a" stroke-width="0.2" text-anchor="end" transform="translate(241.5,0) scale(0.88,1) translate(-241.5,0)">4.9</text>
<text x="159.2" y="431" font-size="8.4" fill="#1a1a1a" stroke="#1a1a1a" stroke-width="0" text-anchor="start" transform="translate(159.2,0) scale(0.88,1) translate(-159.2,0)">0</text>
<text x="233.9" y="431" font-size="8.4" fill="#1a1a1a" stroke="#1a1a1a" stroke-width="0" text-anchor="end" transform="translate(233.9,0) scale(0.88,1) translate(-233.9,0)">0</text>
<rect x="263.5" y="243.7" width="91.5" height="90.19999999999999" fill="#fff" stroke="#c4c4c4" stroke-width="0.9"/>
<path d="M270.0 333.6 L278.0 333.0 L284.0 331.5 L287.7 328.0 L289.8 320.0 L291.7 310.3 L293.3 299.0 L294.7 288.6 L296.0 274.7 L296.9 267.0 L297.6 263.8 L298.5 266.5 L299.6 274.7 L300.6 282.0 L301.6 288.6 L302.6 293.5 L303.6 295.5 L304.8 292.5 L305.8 290.3 L306.6 290.0 L307.5 293.0 L308.5 300.4 L309.5 308.0 L310.5 316.3 L311.5 323.0 L312.5 328.2 L314.5 333.0 L316.0 333.6Z" fill="#aac7ee" fill-opacity="0.59" stroke="#8fb3e3" stroke-width="0.6"/>
<path d="M264.0 333.6 L268.0 333.2 L273.9 331.4 L276.5 330.2 L278.8 329.4 L280.5 328.2 L281.8 326.4 L284.8 320.2 L286.8 312.3 L288.3 306.5 L289.7 300.4 L291.7 284.6 L293.3 272.7 L294.3 260.8 L295.1 256.0 L295.7 254.0 L296.4 256.5 L297.2 262.8 L298.2 278.7 L299.2 304.4 L300.0 324.2 L300.8 333.2 L302.0 333.6Z" fill="#db5b52" fill-opacity="0.55" stroke="#cf5646" stroke-width="0.6"/>
<line x1="303.2" y1="243.7" x2="303.2" y2="333.9" stroke="#555" stroke-width="1.1" />
<line x1="306.2" y1="261.9" x2="352" y2="261.9" stroke="#111" stroke-width="1" />
<path d="M303.7 261.9l4.5 -2.2v4.4z" fill="#111"/>
<path d="M354.4 261.9l-4.5 -2.2v4.4z" fill="#111"/>
<rect x="320" y="256.9" width="22.4" height="10" fill="#fff"/>
<text x="322" y="265.59999999999997" font-size="10.2" font-weight="bold" fill="#111" stroke="#111" stroke-width="0.3" transform="translate(322,0) scale(0.8,1) translate(-322,0)">32.3</text>
<line x1="261.1" y1="333.8" x2="263.5" y2="333.8" stroke="#333" stroke-width="0.8" />
<text x="260.3" y="335.2" font-size="4.1" fill="#555" text-anchor="end">0</text>
<line x1="261.1" y1="316.9" x2="263.5" y2="316.9" stroke="#333" stroke-width="0.8" />
<text x="260.3" y="318.29999999999995" font-size="4.1" fill="#555" text-anchor="end">20</text>
<line x1="261.1" y1="300" x2="263.5" y2="300" stroke="#333" stroke-width="0.8" />
<text x="260.3" y="301.4" font-size="4.1" fill="#555" text-anchor="end">40</text>
<line x1="261.1" y1="283.1" x2="263.5" y2="283.1" stroke="#333" stroke-width="0.8" />
<text x="260.3" y="284.5" font-size="4.1" fill="#555" text-anchor="end">60</text>
<line x1="261.1" y1="266.2" x2="263.5" y2="266.2" stroke="#333" stroke-width="0.8" />
<text x="260.3" y="267.59999999999997" font-size="4.1" fill="#555" text-anchor="end">80</text>
<line x1="261.1" y1="249.3" x2="263.5" y2="249.3" stroke="#333" stroke-width="0.8" />
<text x="260.3" y="250.70000000000002" font-size="4.1" fill="#555" text-anchor="end">100</text>
<line x1="262.2" y1="329.575" x2="263.5" y2="329.575" stroke="#555" stroke-width="0.5" />
<line x1="262.2" y1="325.35" x2="263.5" y2="325.35" stroke="#555" stroke-width="0.5" />
<line x1="262.2" y1="321.125" x2="263.5" y2="321.125" stroke="#555" stroke-width="0.5" />
<line x1="262.2" y1="312.67499999999995" x2="263.5" y2="312.67499999999995" stroke="#555" stroke-width="0.5" />
<line x1="262.2" y1="308.45" x2="263.5" y2="308.45" stroke="#555" stroke-width="0.5" />
<line x1="262.2" y1="304.225" x2="263.5" y2="304.225" stroke="#555" stroke-width="0.5" />
<line x1="262.2" y1="295.775" x2="263.5" y2="295.775" stroke="#555" stroke-width="0.5" />
<line x1="262.2" y1="291.55" x2="263.5" y2="291.55" stroke="#555" stroke-width="0.5" />
<line x1="262.2" y1="287.32500000000005" x2="263.5" y2="287.32500000000005" stroke="#555" stroke-width="0.5" />
<line x1="262.2" y1="278.875" x2="263.5" y2="278.875" stroke="#555" stroke-width="0.5" />
<line x1="262.2" y1="274.65" x2="263.5" y2="274.65" stroke="#555" stroke-width="0.5" />
<line x1="262.2" y1="270.425" x2="263.5" y2="270.425" stroke="#555" stroke-width="0.5" />
<line x1="262.2" y1="261.975" x2="263.5" y2="261.975" stroke="#555" stroke-width="0.5" />
<line x1="262.2" y1="257.75" x2="263.5" y2="257.75" stroke="#555" stroke-width="0.5" />
<line x1="262.2" y1="253.525" x2="263.5" y2="253.525" stroke="#555" stroke-width="0.5" />
<line x1="263.2" y1="244.2" x2="263.2" y2="333.9" stroke="#888" stroke-width="0.5" />
<line x1="266.5" y1="333.9" x2="266.5" y2="336.5" stroke="#222" stroke-width="0.9" />
<line x1="270.1338620905152" y1="333.9" x2="270.1338620905152" y2="335.4" stroke="#333" stroke-width="0.6" />
<line x1="272.25953514625877" y1="333.9" x2="272.25953514625877" y2="335.4" stroke="#333" stroke-width="0.6" />
<line x1="273.7677241810304" y1="333.9" x2="273.7677241810304" y2="335.4" stroke="#333" stroke-width="0.6" />
<line x1="274.93756648091335" y1="333.9" x2="274.93756648091335" y2="335.4" stroke="#333" stroke-width="0.6" />
<line x1="275.893397236774" y1="333.9" x2="275.893397236774" y2="335.4" stroke="#333" stroke-width="0.6" />
<line x1="276.70154062588637" y1="333.9" x2="276.70154062588637" y2="335.4" stroke="#333" stroke-width="0.6" />
<line x1="277.4015862715456" y1="333.9" x2="277.4015862715456" y2="335.4" stroke="#333" stroke-width="0.6" />
<line x1="278.01907029251754" y1="333.9" x2="278.01907029251754" y2="335.4" stroke="#333" stroke-width="0.6" />
<line x1="278.57142857142856" y1="333.9" x2="278.57142857142856" y2="336.5" stroke="#222" stroke-width="0.9" />
<line x1="282.20529066194376" y1="333.9" x2="282.20529066194376" y2="335.4" stroke="#333" stroke-width="0.6" />
<line x1="284.3309637176873" y1="333.9" x2="284.3309637176873" y2="335.4" stroke="#333" stroke-width="0.6" />
<line x1="285.839152752459" y1="333.9" x2="285.839152752459" y2="335.4" stroke="#333" stroke-width="0.6" />
<line x1="287.0089950523419" y1="333.9" x2="287.0089950523419" y2="335.4" stroke="#333" stroke-width="0.6" />
<line x1="287.96482580820253" y1="333.9" x2="287.96482580820253" y2="335.4" stroke="#333" stroke-width="0.6" />
<line x1="288.7729691973149" y1="333.9" x2="288.7729691973149" y2="335.4" stroke="#333" stroke-width="0.6" />
<line x1="289.4730148429742" y1="333.9" x2="289.4730148429742" y2="335.4" stroke="#333" stroke-width="0.6" />
<line x1="290.0904988639461" y1="333.9" x2="290.0904988639461" y2="335.4" stroke="#333" stroke-width="0.6" />
<line x1="290.64285714285717" y1="333.9" x2="290.64285714285717" y2="336.5" stroke="#222" stroke-width="0.9" />
<line x1="294.2767192333724" y1="333.9" x2="294.2767192333724" y2="335.4" stroke="#333" stroke-width="0.6" />
<line x1="296.40239228911594" y1="333.9" x2="296.40239228911594" y2="335.4" stroke="#333" stroke-width="0.6" />
<line x1="297.9105813238876" y1="333.9" x2="297.9105813238876" y2="335.4" stroke="#333" stroke-width="0.6" />
<line x1="299.0804236237705" y1="333.9" x2="299.0804236237705" y2="335.4" stroke="#333" stroke-width="0.6" />
<line x1="300.03625437963115" y1="333.9" x2="300.03625437963115" y2="335.4" stroke="#333" stroke-width="0.6" />
<line x1="300.84439776874353" y1="333.9" x2="300.84439776874353" y2="335.4" stroke="#333" stroke-width="0.6" />
<line x1="301.5444434144028" y1="333.9" x2="301.5444434144028" y2="335.4" stroke="#333" stroke-width="0.6" />
<line x1="302.1619274353747" y1="333.9" x2="302.1619274353747" y2="335.4" stroke="#333" stroke-width="0.6" />
<line x1="302.7142857142857" y1="333.9" x2="302.7142857142857" y2="336.5" stroke="#222" stroke-width="0.9" />
<line x1="306.34814780480093" y1="333.9" x2="306.34814780480093" y2="335.4" stroke="#333" stroke-width="0.6" />
<line x1="308.4738208605445" y1="333.9" x2="308.4738208605445" y2="335.4" stroke="#333" stroke-width="0.6" />
<line x1="309.98200989531614" y1="333.9" x2="309.98200989531614" y2="335.4" stroke="#333" stroke-width="0.6" />
<line x1="311.15185219519907" y1="333.9" x2="311.15185219519907" y2="335.4" stroke="#333" stroke-width="0.6" />
<line x1="312.1076829510597" y1="333.9" x2="312.1076829510597" y2="335.4" stroke="#333" stroke-width="0.6" />
<line x1="312.9158263401721" y1="333.9" x2="312.9158263401721" y2="335.4" stroke="#333" stroke-width="0.6" />
<line x1="313.61587198583135" y1="333.9" x2="313.61587198583135" y2="335.4" stroke="#333" stroke-width="0.6" />
<line x1="314.23335600680326" y1="333.9" x2="314.23335600680326" y2="335.4" stroke="#333" stroke-width="0.6" />
<line x1="314.7857142857143" y1="333.9" x2="314.7857142857143" y2="336.5" stroke="#222" stroke-width="0.9" />
<line x1="318.4195763762295" y1="333.9" x2="318.4195763762295" y2="335.4" stroke="#333" stroke-width="0.6" />
<line x1="320.54524943197305" y1="333.9" x2="320.54524943197305" y2="335.4" stroke="#333" stroke-width="0.6" />
<line x1="322.0534384667447" y1="333.9" x2="322.0534384667447" y2="335.4" stroke="#333" stroke-width="0.6" />
<line x1="323.2232807666276" y1="333.9" x2="323.2232807666276" y2="335.4" stroke="#333" stroke-width="0.6" />
<line x1="324.17911152248826" y1="333.9" x2="324.17911152248826" y2="335.4" stroke="#333" stroke-width="0.6" />
<line x1="324.98725491160064" y1="333.9" x2="324.98725491160064" y2="335.4" stroke="#333" stroke-width="0.6" />
<line x1="325.6873005572599" y1="333.9" x2="325.6873005572599" y2="335.4" stroke="#333" stroke-width="0.6" />
<line x1="326.3047845782318" y1="333.9" x2="326.3047845782318" y2="335.4" stroke="#333" stroke-width="0.6" />
<line x1="326.85714285714283" y1="333.9" x2="326.85714285714283" y2="336.5" stroke="#222" stroke-width="0.9" />
<line x1="330.49100494765804" y1="333.9" x2="330.49100494765804" y2="335.4" stroke="#333" stroke-width="0.6" />
<line x1="332.6166780034016" y1="333.9" x2="332.6166780034016" y2="335.4" stroke="#333" stroke-width="0.6" />
<line x1="334.12486703817325" y1="333.9" x2="334.12486703817325" y2="335.4" stroke="#333" stroke-width="0.6" />
<line x1="335.2947093380562" y1="333.9" x2="335.2947093380562" y2="335.4" stroke="#333" stroke-width="0.6" />
<line x1="336.2505400939168" y1="333.9" x2="336.2505400939168" y2="335.4" stroke="#333" stroke-width="0.6" />
<line x1="337.0586834830292" y1="333.9" x2="337.0586834830292" y2="335.4" stroke="#333" stroke-width="0.6" />
<line x1="337.75872912868846" y1="333.9" x2="337.75872912868846" y2="335.4" stroke="#333" stroke-width="0.6" />
<line x1="338.3762131496604" y1="333.9" x2="338.3762131496604" y2="335.4" stroke="#333" stroke-width="0.6" />
<line x1="338.92857142857144" y1="333.9" x2="338.92857142857144" y2="336.5" stroke="#222" stroke-width="0.9" />
<line x1="342.56243351908665" y1="333.9" x2="342.56243351908665" y2="335.4" stroke="#333" stroke-width="0.6" />
<line x1="344.6881065748302" y1="333.9" x2="344.6881065748302" y2="335.4" stroke="#333" stroke-width="0.6" />
<line x1="346.19629560960186" y1="333.9" x2="346.19629560960186" y2="335.4" stroke="#333" stroke-width="0.6" />
<line x1="347.3661379094848" y1="333.9" x2="347.3661379094848" y2="335.4" stroke="#333" stroke-width="0.6" />
<line x1="348.3219686653454" y1="333.9" x2="348.3219686653454" y2="335.4" stroke="#333" stroke-width="0.6" />
<line x1="349.1301120544578" y1="333.9" x2="349.1301120544578" y2="335.4" stroke="#333" stroke-width="0.6" />
<line x1="349.83015770011707" y1="333.9" x2="349.83015770011707" y2="335.4" stroke="#333" stroke-width="0.6" />
<line x1="350.447641721089" y1="333.9" x2="350.447641721089" y2="335.4" stroke="#333" stroke-width="0.6" />
<line x1="351.0" y1="333.9" x2="351.0" y2="336.5" stroke="#222" stroke-width="0.9" />
<line x1="263.5" y1="334.2" x2="354.5" y2="334.2" stroke="#888" stroke-width="0.5" />
<rect x="264.4" y="344.8" width="91.10000000000002" height="89.39999999999998" fill="#fff" stroke="#c4c4c4" stroke-width="0.9"/>
<path d="M268.0 433.8 L272.0 433.3 L276.1 432.2 L279.6 430.6 L283.2 427.0 L285.8 422.5 L288.5 415.5 L290.2 409.5 L291.6 402.4 L292.4 397.0 L293.7 390.0 L295.2 377.6 L296.4 369.0 L297.3 366.3 L298.5 370.7 L299.4 381.3 L300.4 399.0 L301.5 416.5 L302.6 428.8 L303.4 433.8Z" fill="#db5b52" fill-opacity="0.55" stroke="#cf5646" stroke-width="0.6"/>
<path d="M269.0 433.8 L273.0 433.4 L276.6 432.4 L280.0 430.8 L283.6 427.3 L286.3 423.0 L289.0 416.0 L290.7 410.0 L292.0 403.0 L292.8 397.0 L294.1 390.5 L295.5 378.0 L296.6 369.3 L297.4 367.0 L298.6 371.0 L299.5 381.5 L300.5 399.1 L301.6 416.7 L302.6 429.0 L303.5 430.2 L305.0 429.3 L306.1 429.0 L308.0 430.2 L309.6 431.2 L311.0 430.4 L312.3 430.0 L313.3 430.3 L314.2 430.6 L315.5 431.8 L316.7 433.3 L318.0 433.8Z" fill="#aac7ee" fill-opacity="0.7" stroke="#98b0e0" stroke-width="0.6"/>
<line x1="303.8" y1="344.8" x2="303.8" y2="434.2" stroke="#555" stroke-width="1.1" />
<line x1="306.8" y1="366.5" x2="352.5" y2="366.5" stroke="#111" stroke-width="1" />
<path d="M304.3 366.5l4.5 -2.2v4.4z" fill="#111"/>
<path d="M354.9 366.5l-4.5 -2.2v4.4z" fill="#111"/>
<rect x="320" y="361.5" width="17.799999999999997" height="10" fill="#fff"/>
<text x="322" y="370.2" font-size="10.2" font-weight="bold" fill="#111" stroke="#111" stroke-width="0.3" transform="translate(322,0) scale(0.8,1) translate(-322,0)">4.9</text>
<line x1="262.0" y1="434" x2="264.4" y2="434" stroke="#333" stroke-width="0.8" />
<text x="261.2" y="435.4" font-size="4.1" fill="#555" text-anchor="end">0</text>
<line x1="262.0" y1="417.1" x2="264.4" y2="417.1" stroke="#333" stroke-width="0.8" />
<text x="261.2" y="418.5" font-size="4.1" fill="#555" text-anchor="end">20</text>
<line x1="262.0" y1="400.2" x2="264.4" y2="400.2" stroke="#333" stroke-width="0.8" />
<text x="261.2" y="401.59999999999997" font-size="4.1" fill="#555" text-anchor="end">40</text>
<line x1="262.0" y1="383.3" x2="264.4" y2="383.3" stroke="#333" stroke-width="0.8" />
<text x="261.2" y="384.7" font-size="4.1" fill="#555" text-anchor="end">60</text>
<line x1="262.0" y1="366.4" x2="264.4" y2="366.4" stroke="#333" stroke-width="0.8" />
<text x="261.2" y="367.79999999999995" font-size="4.1" fill="#555" text-anchor="end">80</text>
<line x1="262.0" y1="349.5" x2="264.4" y2="349.5" stroke="#333" stroke-width="0.8" />
<text x="261.2" y="350.9" font-size="4.1" fill="#555" text-anchor="end">100</text>
<line x1="263.09999999999997" y1="429.775" x2="264.4" y2="429.775" stroke="#555" stroke-width="0.5" />
<line x1="263.09999999999997" y1="425.55" x2="264.4" y2="425.55" stroke="#555" stroke-width="0.5" />
<line x1="263.09999999999997" y1="421.32500000000005" x2="264.4" y2="421.32500000000005" stroke="#555" stroke-width="0.5" />
<line x1="263.09999999999997" y1="412.875" x2="264.4" y2="412.875" stroke="#555" stroke-width="0.5" />
<line x1="263.09999999999997" y1="408.65" x2="264.4" y2="408.65" stroke="#555" stroke-width="0.5" />
<line x1="263.09999999999997" y1="404.425" x2="264.4" y2="404.425" stroke="#555" stroke-width="0.5" />
<line x1="263.09999999999997" y1="395.975" x2="264.4" y2="395.975" stroke="#555" stroke-width="0.5" />
<line x1="263.09999999999997" y1="391.75" x2="264.4" y2="391.75" stroke="#555" stroke-width="0.5" />
<line x1="263.09999999999997" y1="387.525" x2="264.4" y2="387.525" stroke="#555" stroke-width="0.5" />
<line x1="263.09999999999997" y1="379.075" x2="264.4" y2="379.075" stroke="#555" stroke-width="0.5" />
<line x1="263.09999999999997" y1="374.85" x2="264.4" y2="374.85" stroke="#555" stroke-width="0.5" />
<line x1="263.09999999999997" y1="370.625" x2="264.4" y2="370.625" stroke="#555" stroke-width="0.5" />
<line x1="263.09999999999997" y1="362.17499999999995" x2="264.4" y2="362.17499999999995" stroke="#555" stroke-width="0.5" />
<line x1="263.09999999999997" y1="357.95" x2="264.4" y2="357.95" stroke="#555" stroke-width="0.5" />
<line x1="263.09999999999997" y1="353.725" x2="264.4" y2="353.725" stroke="#555" stroke-width="0.5" />
<line x1="264.09999999999997" y1="345.3" x2="264.09999999999997" y2="434.2" stroke="#888" stroke-width="0.5" />
<line x1="267.4" y1="434.2" x2="267.4" y2="436.8" stroke="#222" stroke-width="0.9" />
<line x1="271.01666037647726" y1="434.2" x2="271.01666037647726" y2="435.7" stroke="#333" stroke-width="0.6" />
<line x1="273.1322710745605" y1="434.2" x2="273.1322710745605" y2="435.7" stroke="#333" stroke-width="0.6" />
<line x1="274.6333207529545" y1="434.2" x2="274.6333207529545" y2="435.7" stroke="#333" stroke-width="0.6" />
<line x1="275.7976253378084" y1="434.2" x2="275.7976253378084" y2="435.7" stroke="#333" stroke-width="0.6" />
<line x1="276.7489314510378" y1="434.2" x2="276.7489314510378" y2="435.7" stroke="#333" stroke-width="0.6" />
<line x1="277.55324930931414" y1="434.2" x2="277.55324930931414" y2="435.7" stroke="#333" stroke-width="0.6" />
<line x1="278.2499811294318" y1="434.2" x2="278.2499811294318" y2="435.7" stroke="#333" stroke-width="0.6" />
<line x1="278.864542149121" y1="434.2" x2="278.864542149121" y2="435.7" stroke="#333" stroke-width="0.6" />
<text x="266.4" y="443.2" font-size="4.5" fill="#5a5a5a" text-anchor="start">10<tspan dy="-1.7" font-size="3.1">0</tspan></text>
<line x1="279.4142857142857" y1="434.2" x2="279.4142857142857" y2="436.8" stroke="#222" stroke-width="0.9" />
<line x1="283.030946090763" y1="434.2" x2="283.030946090763" y2="435.7" stroke="#333" stroke-width="0.6" />
<line x1="285.1465567888462" y1="434.2" x2="285.1465567888462" y2="435.7" stroke="#333" stroke-width="0.6" />
<line x1="286.6476064672402" y1="434.2" x2="286.6476064672402" y2="435.7" stroke="#333" stroke-width="0.6" />
<line x1="287.81191105209416" y1="434.2" x2="287.81191105209416" y2="435.7" stroke="#333" stroke-width="0.6" />
<line x1="288.7632171653235" y1="434.2" x2="288.7632171653235" y2="435.7" stroke="#333" stroke-width="0.6" />
<line x1="289.5675350235999" y1="434.2" x2="289.5675350235999" y2="435.7" stroke="#333" stroke-width="0.6" />
<line x1="290.2642668437175" y1="434.2" x2="290.2642668437175" y2="435.7" stroke="#333" stroke-width="0.6" />
<line x1="290.87882786340674" y1="434.2" x2="290.87882786340674" y2="435.7" stroke="#333" stroke-width="0.6" />
<line x1="291.4285714285714" y1="434.2" x2="291.4285714285714" y2="436.8" stroke="#222" stroke-width="0.9" />
<line x1="295.0452318050487" y1="434.2" x2="295.0452318050487" y2="435.7" stroke="#333" stroke-width="0.6" />
<line x1="297.1608425031319" y1="434.2" x2="297.1608425031319" y2="435.7" stroke="#333" stroke-width="0.6" />
<line x1="298.6618921815259" y1="434.2" x2="298.6618921815259" y2="435.7" stroke="#333" stroke-width="0.6" />
<line x1="299.82619676637984" y1="434.2" x2="299.82619676637984" y2="435.7" stroke="#333" stroke-width="0.6" />
<line x1="300.7775028796092" y1="434.2" x2="300.7775028796092" y2="435.7" stroke="#333" stroke-width="0.6" />
<line x1="301.58182073788555" y1="434.2" x2="301.58182073788555" y2="435.7" stroke="#333" stroke-width="0.6" />
<line x1="302.2785525580032" y1="434.2" x2="302.2785525580032" y2="435.7" stroke="#333" stroke-width="0.6" />
<line x1="302.8931135776924" y1="434.2" x2="302.8931135776924" y2="435.7" stroke="#333" stroke-width="0.6" />
<text x="290.4" y="443.2" font-size="4.5" fill="#5a5a5a" text-anchor="start">10<tspan dy="-1.7" font-size="3.1">2</tspan></text>
<line x1="303.4428571428571" y1="434.2" x2="303.4428571428571" y2="436.8" stroke="#222" stroke-width="0.9" />
<line x1="307.0595175193344" y1="434.2" x2="307.0595175193344" y2="435.7" stroke="#333" stroke-width="0.6" />
<line x1="309.17512821741764" y1="434.2" x2="309.17512821741764" y2="435.7" stroke="#333" stroke-width="0.6" />
<line x1="310.67617789581163" y1="434.2" x2="310.67617789581163" y2="435.7" stroke="#333" stroke-width="0.6" />
<line x1="311.84048248066557" y1="434.2" x2="311.84048248066557" y2="435.7" stroke="#333" stroke-width="0.6" />
<line x1="312.7917885938949" y1="434.2" x2="312.7917885938949" y2="435.7" stroke="#333" stroke-width="0.6" />
<line x1="313.5961064521713" y1="434.2" x2="313.5961064521713" y2="435.7" stroke="#333" stroke-width="0.6" />
<line x1="314.2928382722889" y1="434.2" x2="314.2928382722889" y2="435.7" stroke="#333" stroke-width="0.6" />
<line x1="314.90739929197815" y1="434.2" x2="314.90739929197815" y2="435.7" stroke="#333" stroke-width="0.6" />
<line x1="315.45714285714286" y1="434.2" x2="315.45714285714286" y2="436.8" stroke="#222" stroke-width="0.9" />
<line x1="319.07380323362014" y1="434.2" x2="319.07380323362014" y2="435.7" stroke="#333" stroke-width="0.6" />
<line x1="321.18941393170337" y1="434.2" x2="321.18941393170337" y2="435.7" stroke="#333" stroke-width="0.6" />
<line x1="322.69046361009737" y1="434.2" x2="322.69046361009737" y2="435.7" stroke="#333" stroke-width="0.6" />
<line x1="323.8547681949513" y1="434.2" x2="323.8547681949513" y2="435.7" stroke="#333" stroke-width="0.6" />
<line x1="324.80607430818065" y1="434.2" x2="324.80607430818065" y2="435.7" stroke="#333" stroke-width="0.6" />
<line x1="325.610392166457" y1="434.2" x2="325.610392166457" y2="435.7" stroke="#333" stroke-width="0.6" />
<line x1="326.30712398657465" y1="434.2" x2="326.30712398657465" y2="435.7" stroke="#333" stroke-width="0.6" />
<line x1="326.9216850062639" y1="434.2" x2="326.9216850062639" y2="435.7" stroke="#333" stroke-width="0.6" />
<text x="314.5" y="443.2" font-size="4.5" fill="#5a5a5a" text-anchor="start">10<tspan dy="-1.7" font-size="3.1">4</tspan></text>
<line x1="327.4714285714286" y1="434.2" x2="327.4714285714286" y2="436.8" stroke="#222" stroke-width="0.9" />
<line x1="331.0880889479059" y1="434.2" x2="331.0880889479059" y2="435.7" stroke="#333" stroke-width="0.6" />
<line x1="333.2036996459891" y1="434.2" x2="333.2036996459891" y2="435.7" stroke="#333" stroke-width="0.6" />
<line x1="334.7047493243831" y1="434.2" x2="334.7047493243831" y2="435.7" stroke="#333" stroke-width="0.6" />
<line x1="335.86905390923704" y1="434.2" x2="335.86905390923704" y2="435.7" stroke="#333" stroke-width="0.6" />
<line x1="336.8203600224664" y1="434.2" x2="336.8203600224664" y2="435.7" stroke="#333" stroke-width="0.6" />
<line x1="337.62467788074275" y1="434.2" x2="337.62467788074275" y2="435.7" stroke="#333" stroke-width="0.6" />
<line x1="338.3214097008604" y1="434.2" x2="338.3214097008604" y2="435.7" stroke="#333" stroke-width="0.6" />
<line x1="338.9359707205496" y1="434.2" x2="338.9359707205496" y2="435.7" stroke="#333" stroke-width="0.6" />
<line x1="339.48571428571427" y1="434.2" x2="339.48571428571427" y2="436.8" stroke="#222" stroke-width="0.9" />
<line x1="343.10237466219155" y1="434.2" x2="343.10237466219155" y2="435.7" stroke="#333" stroke-width="0.6" />
<line x1="345.2179853602748" y1="434.2" x2="345.2179853602748" y2="435.7" stroke="#333" stroke-width="0.6" />
<line x1="346.7190350386688" y1="434.2" x2="346.7190350386688" y2="435.7" stroke="#333" stroke-width="0.6" />
<line x1="347.8833396235227" y1="434.2" x2="347.8833396235227" y2="435.7" stroke="#333" stroke-width="0.6" />
<line x1="348.83464573675207" y1="434.2" x2="348.83464573675207" y2="435.7" stroke="#333" stroke-width="0.6" />
<line x1="349.63896359502843" y1="434.2" x2="349.63896359502843" y2="435.7" stroke="#333" stroke-width="0.6" />
<line x1="350.33569541514606" y1="434.2" x2="350.33569541514606" y2="435.7" stroke="#333" stroke-width="0.6" />
<line x1="350.9502564348353" y1="434.2" x2="350.9502564348353" y2="435.7" stroke="#333" stroke-width="0.6" />
<text x="338.5" y="443.2" font-size="4.5" fill="#5a5a5a" text-anchor="start">10<tspan dy="-1.7" font-size="3.1">6</tspan></text>
<line x1="351.5" y1="434.2" x2="351.5" y2="436.8" stroke="#222" stroke-width="0.9" />
<line x1="264.4" y1="434.5" x2="355.0" y2="434.5" stroke="#888" stroke-width="0.5" />
<text transform="translate(255.8,292.2) rotate(-90)" x="0" y="0" font-size="8.9" font-weight="bold" fill="#000" text-anchor="middle" textLength="29" lengthAdjust="spacingAndGlyphs">% total</text>
<text transform="translate(255.8,391.2) rotate(-90)" x="0" y="0" font-size="8.9" font-weight="bold" fill="#000" text-anchor="middle" textLength="29.5" lengthAdjust="spacingAndGlyphs">% total</text>
<text x="380.5" y="238.3" font-size="13.6" font-weight="bold" fill="#000" text-anchor="start" >D</text>
<text transform="translate(407.3,291.3) rotate(-90)" x="0" y="0" font-size="9.8" font-weight="bold" fill="#000" text-anchor="middle" textLength="95.8" lengthAdjust="spacingAndGlyphs"><tspan font-weight="normal">Δ</tspan> CD107a cells (%)</text>
<line x1="430.3" y1="246.5" x2="430.3" y2="334.7" stroke="#9a9a9a" stroke-width="1" />
<line x1="430" y1="334.2" x2="517" y2="334.2" stroke="#9a9a9a" stroke-width="1" />
<line x1="428" y1="334.2" x2="430.3" y2="334.2" stroke="#9a9a9a" stroke-width="0.9" />
<text x="425.6" y="336.0" font-size="5.2" font-weight="bold" fill="#222" text-anchor="end" >0</text>
<line x1="428" y1="316.7" x2="430.3" y2="316.7" stroke="#9a9a9a" stroke-width="0.9" />
<text x="425.6" y="318.5" font-size="5.2" font-weight="bold" fill="#222" text-anchor="end" >10</text>
<line x1="428" y1="299.2" x2="430.3" y2="299.2" stroke="#9a9a9a" stroke-width="0.9" />
<text x="425.6" y="301.0" font-size="5.2" font-weight="bold" fill="#222" text-anchor="end" >20</text>
<line x1="428" y1="281.7" x2="430.3" y2="281.7" stroke="#9a9a9a" stroke-width="0.9" />
<text x="425.6" y="283.5" font-size="5.2" font-weight="bold" fill="#222" text-anchor="end" >30</text>
<line x1="428" y1="264.2" x2="430.3" y2="264.2" stroke="#9a9a9a" stroke-width="0.9" />
<text x="425.6" y="266.0" font-size="5.2" font-weight="bold" fill="#222" text-anchor="end" >40</text>
<line x1="428" y1="246.7" x2="430.3" y2="246.7" stroke="#9a9a9a" stroke-width="0.9" />
<text x="425.6" y="248.5" font-size="5.2" font-weight="bold" fill="#222" text-anchor="end" >50</text>
<line x1="430.3" y1="334.2" x2="430.3" y2="336.2" stroke="#9a9a9a" stroke-width="0.9" />
<line x1="474.3" y1="334.2" x2="474.3" y2="336.2" stroke="#9a9a9a" stroke-width="0.9" />
<line x1="516.5" y1="334.2" x2="516.5" y2="336.2" stroke="#9a9a9a" stroke-width="0.9" />
<rect x="443.5" y="277.15" width="17.7" height="57.05" fill="#000"/>
<line x1="452.3" y1="277.15" x2="452.3" y2="262.97499999999997" stroke="#000" stroke-width="1" />
<line x1="450.3" y1="262.97499999999997" x2="454.3" y2="262.97499999999997" stroke="#000" stroke-width="1" />
<rect x="486.5" y="325.27" width="17.6" height="8.92" fill="#e4321c"/>
<line x1="495.3" y1="327.55" x2="495.3" y2="323.0" stroke="#333" stroke-width="1" />
<line x1="493.5" y1="323.0" x2="497.1" y2="323.0" stroke="#333" stroke-width="1" />
<text x="494.7" y="310.6" font-size="16.5" font-weight="bold" fill="#000" text-anchor="middle" >*</text>
<rect x="469" y="248.4" width="5.8" height="4.8" fill="#000"/>
<text x="477" y="254.2" font-size="8.6" font-weight="bold" fill="#000" text-anchor="start" textLength="30.4" lengthAdjust="spacingAndGlyphs" >Control</text>
<rect x="469" y="260.6" width="5.8" height="4.4" fill="#e4321c"/>
<text x="477" y="265.4" font-size="8.6" font-weight="bold" fill="#c62a1c" text-anchor="start" textLength="35.4" lengthAdjust="spacingAndGlyphs" >Patient 1</text>
<text x="381.0" y="352.3" font-size="13.6" font-weight="bold" fill="#000" text-anchor="start" >E</text>
<text transform="translate(407.7,389.3) rotate(-90)" x="0" y="0" font-size="12.4" font-weight="bold" fill="#000" text-anchor="middle" textLength="22.2" lengthAdjust="spacingAndGlyphs">MFI</text>
<line x1="430.4" y1="348.5" x2="430.4" y2="435.5" stroke="#9a9a9a" stroke-width="1" />
<line x1="430" y1="435" x2="519.5" y2="435" stroke="#9a9a9a" stroke-width="1" />
<line x1="428" y1="435.0" x2="430.4" y2="435.0" stroke="#9a9a9a" stroke-width="0.9" />
<text x="425.4" y="436.8" font-size="5.2" font-weight="bold" fill="#222" text-anchor="end" >0</text>
<line x1="428" y1="420.6333333333333" x2="430.4" y2="420.6333333333333" stroke="#9a9a9a" stroke-width="0.9" />
<text x="425.4" y="422.43333333333334" font-size="5.2" font-weight="bold" fill="#222" text-anchor="end" >100</text>
<line x1="428" y1="406.26666666666665" x2="430.4" y2="406.26666666666665" stroke="#9a9a9a" stroke-width="0.9" />
<text x="425.4" y="408.06666666666666" font-size="5.2" font-weight="bold" fill="#222" text-anchor="end" >200</text>
<line x1="428" y1="391.9" x2="430.4" y2="391.9" stroke="#9a9a9a" stroke-width="0.9" />
<text x="425.4" y="393.7" font-size="5.2" font-weight="bold" fill="#222" text-anchor="end" >300</text>
<line x1="428" y1="377.5333333333333" x2="430.4" y2="377.5333333333333" stroke="#9a9a9a" stroke-width="0.9" />
<text x="425.4" y="379.3333333333333" font-size="5.2" font-weight="bold" fill="#222" text-anchor="end" >400</text>
<line x1="428" y1="363.1666666666667" x2="430.4" y2="363.1666666666667" stroke="#9a9a9a" stroke-width="0.9" />
<text x="425.4" y="364.9666666666667" font-size="5.2" font-weight="bold" fill="#222" text-anchor="end" >500</text>
<line x1="428" y1="348.8" x2="430.4" y2="348.8" stroke="#9a9a9a" stroke-width="0.9" />
<text x="425.4" y="350.6" font-size="5.2" font-weight="bold" fill="#222" text-anchor="end" >600</text>
<line x1="430.4" y1="435" x2="430.4" y2="437" stroke="#9a9a9a" stroke-width="0.9" />
<line x1="475.4" y1="435" x2="475.4" y2="437" stroke="#9a9a9a" stroke-width="0.9" />
<line x1="519" y1="435" x2="519" y2="437" stroke="#9a9a9a" stroke-width="0.9" />
<rect x="440.1" y="412.73" width="12.90" height="22.27" fill="#000"/>
<rect x="453" y="411.44" width="12.20" height="23.56" fill="#e4321c"/>
<rect x="484" y="368.91" width="13.00" height="66.09" fill="#000"/>
<rect x="497" y="404.11" width="12.20" height="30.89" fill="#e4321c"/>
<line x1="446.55" y1="412.7316666666667" x2="446.55" y2="408.4216666666667" stroke="#333" stroke-width="1" />
<line x1="444.75" y1="408.4216666666667" x2="448.35" y2="408.4216666666667" stroke="#333" stroke-width="1" />
<line x1="459.1" y1="417.0416666666667" x2="459.1" y2="405.83566666666667" stroke="#333" stroke-width="1" />
<line x1="457.3" y1="405.83566666666667" x2="460.90000000000003" y2="405.83566666666667" stroke="#333" stroke-width="1" />
<line x1="490.5" y1="368.91333333333336" x2="490.5" y2="356.127" stroke="#333" stroke-width="1" />
<line x1="488.7" y1="356.127" x2="492.3" y2="356.127" stroke="#333" stroke-width="1" />
<line x1="503.1" y1="412.0133333333333" x2="503.1" y2="395.63533333333334" stroke="#333" stroke-width="1" />
<line x1="501.3" y1="395.63533333333334" x2="504.90000000000003" y2="395.63533333333334" stroke="#333" stroke-width="1" />
<text x="503.5" y="387.6" font-size="16.5" font-weight="bold" fill="#000" text-anchor="middle" >*</text>
<text x="453" y="448.8" font-size="8.5" font-weight="bold" fill="#000" text-anchor="middle" textLength="28.8" lengthAdjust="spacingAndGlyphs" >unstim</text>
<text x="497.2" y="448.8" font-size="8.5" font-weight="bold" fill="#000" text-anchor="middle" textLength="17.6" lengthAdjust="spacingAndGlyphs" >stim</text>
</svg></body></html>
